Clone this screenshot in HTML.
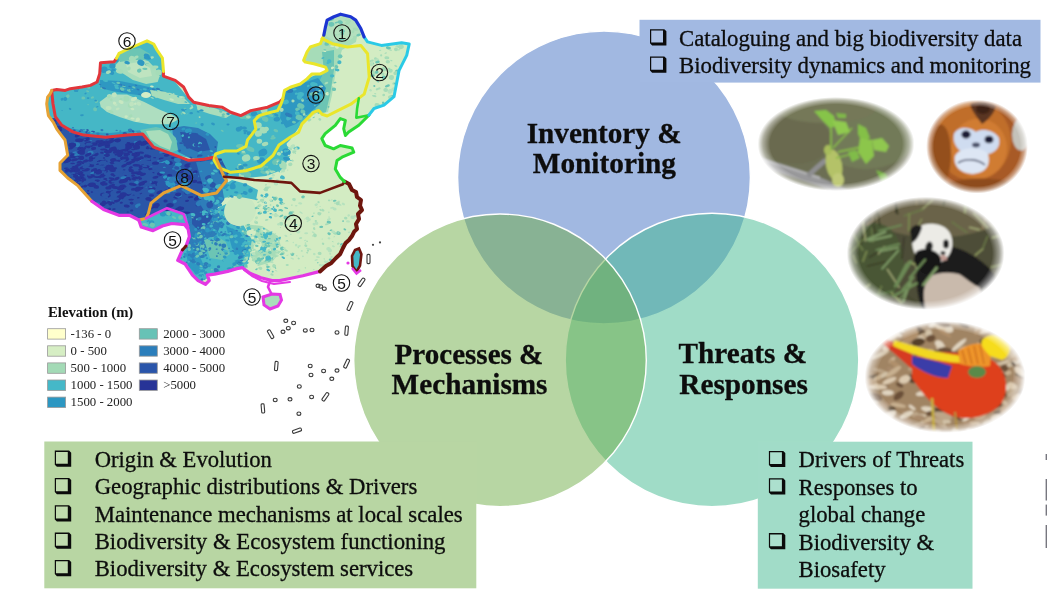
<!DOCTYPE html>
<html><head><meta charset="utf-8"><title>Biodiversity research framework</title>
<style>
html,body{margin:0;padding:0;background:#fff}
body{width:1047px;height:595px;overflow:hidden;position:relative}
svg{position:absolute;left:0;top:0;font-family:"Liberation Serif",serif;filter:blur(0.35px)}
</style></head><body>
<svg width="1047" height="595" viewBox="0 0 1047 595">

<defs>
<path id="cbp" d="M0,0 H14.3 L16.4,2.1 V16.2 H2.1 L0,14.1 Z M1.2,1.3 V13.2 H13.0 V1.3 Z" fill-rule="evenodd"/>
<g id="cb"><rect x="1.2" y="1.3" width="11.8" height="11.9" fill="#fff" fill-opacity="0.12" stroke="none"/><use href="#cbp" fill="#0b0b0b" stroke="none"/></g>
</defs>


<defs>
<clipPath id="china"><path d="M116.5,58.3 L119,53.4 L126,50 L135,46 L147,40.8 L153.7,44 L157,50 L162.4,58 L163.5,71.4 L163.4,76.1 L175.2,80.3 L183.6,87 L188.7,97.1 L193.7,102.2 L208.8,105.5 L222.3,107.2 L230.7,112.3 L240.8,115.6 L250.8,110.6 L267.6,107.2 L279.4,102.2 L282.8,98.8 L284.5,90.4 L290.2,87.3 L300.3,84 L307,78.9 L312,73.9 L320.4,73.9 L327.1,70.5 L325.5,67.1 L313.7,63.8 L305.3,62.1 L303.6,60.4 L307,52 L310.3,47 L320.4,43.6 L323.8,35.2 L325.5,26.8 L327.1,20.1 L333.9,16.7 L340.6,14.2 L350.7,16.7 L355.7,20.1 L360.8,28.5 L364.1,36.9 L367.5,41.9 L381.4,45.4 L401.6,42.8 L409.2,44.1 L406.7,55.4 L399,70.6 L396.6,83.2 L394,96.7 L384,105.1 L374,108.5 L368.9,115.2 L358.8,125.3 L348.7,132 L345.4,135.4 L343.7,128.7 L345.4,120.3 L340.3,118.6 L335.3,125.3 L325.2,133.7 L321.8,138.7 L325.2,145.5 L333.6,148.8 L340.3,145.5 L352.1,148 L353.8,152.2 L342,157.2 L337,160.6 L335.3,169 L340.3,177.4 L344.5,181.6 L350,188 L357,197 L360,205.7 L357,217 L354.3,231.4 L345.7,242.9 L340,254.3 L331.4,262.9 L320,271.4 L302.9,275.7 L288.7,278.8 L279.5,280.6 L272.1,280.6 L261,277.8 L249.9,273.2 L242.5,267.7 L236.9,268.6 L227.7,271.4 L214.7,274.1 L207.3,275.1 L209.2,280.6 L205.5,284.3 L198.1,280.6 L192.5,275.1 L188.8,269.5 L185.1,264 L177.7,260.3 L180,253 L186,246 L189.4,236.5 L188.2,229.4 L184.7,224.7 L171.8,223.5 L162.4,226 L153,230.6 L141.2,227 L138.8,220 L129.4,215.3 L118.8,215.3 L103.5,209.4 L91.8,201.2 L80,188.2 L77.8,185.6 L67.7,178 L60,170.4 L60,163 L67.7,155.3 L65,140 L61.8,135.8 L56.8,129.1 L53.4,122.4 L48.4,115.6 L47.6,110.6 L46.7,103.9 L47.6,97.1 L50.1,93.8 L51.8,90.4 L56.8,89.6 L65.2,90.4 L70.3,88.7 L82,87 L90.4,85.4 L97.1,82 L99.7,73.6 L100.5,62.7 L114,61.8Z"/></clipPath>
<filter id="zb" x="-5%" y="-5%" width="110%" height="110%"><feGaussianBlur stdDeviation="0.7"/></filter>
<filter id="lb" x="-5%" y="-5%" width="110%" height="110%"><feGaussianBlur stdDeviation="0.35"/></filter>
</defs>
<g clip-path="url(#china)">
<rect x="0" y="0" width="420" height="300" fill="#D3ECC3"/>
<g filter="url(#zb)">
<path d="M40.0,30.0 170.0,30.0 172.0,78.0 190.0,100.0 240.0,114.0 280.0,98.0 300.0,82.0 322.0,72.0 330.0,76.0 326.0,96.0 314.0,112.0 300.0,126.0 290.0,140.0 278.0,152.0 262.0,166.0 246.0,176.0 228.0,178.0 214.0,168.0 200.0,160.0 150.0,150.0 60.0,140.0 40.0,140.0Z" fill="#45B7C6"/>
<path d="M300.0,45.0 326.0,30.0 335.0,15.0 360.0,20.0 356.0,42.0 342.0,50.0 336.0,70.0 332.0,95.0 328.0,112.0 320.0,114.0 324.0,90.0 328.0,72.0 312.0,64.0 302.0,60.0Z" fill="#A6DCB8"/>
<path d="M322.0,52.0 334.0,50.0 334.0,70.0 330.0,95.0 326.0,112.0 318.0,114.0 312.0,100.0 318.0,84.0 324.0,72.0Z" fill="#6CC5B4"/>
<path d="M326.0,22.0 340.0,14.0 356.0,20.0 362.0,32.0 350.0,40.0 335.0,42.0 326.0,36.0Z" fill="#B4E0BE"/>
<path d="M284.0,92.0 300.0,84.0 318.0,78.0 326.0,88.0 320.0,104.0 308.0,114.0 296.0,124.0 286.0,128.0 280.0,118.0 282.0,104.0Z" fill="#2E98C2"/>
<ellipse cx="300.8" cy="106.0" rx="3.8" ry="2.6" fill="#6CC5B4" transform="rotate(21 300.8 106.0)"/>
<ellipse cx="288.7" cy="118.2" rx="2.7" ry="2.1" fill="#45B7C6" transform="rotate(-24 288.7 118.2)"/>
<ellipse cx="308.3" cy="85.9" rx="1.5" ry="1.1" fill="#45B7C6" transform="rotate(-28 308.3 85.9)"/>
<ellipse cx="315.8" cy="94.3" rx="3.0" ry="1.5" fill="#45B7C6" transform="rotate(8 315.8 94.3)"/>
<ellipse cx="303.0" cy="111.1" rx="2.6" ry="1.5" fill="#6CC5B4" transform="rotate(30 303.0 111.1)"/>
<ellipse cx="294.5" cy="89.5" rx="2.2" ry="1.0" fill="#45B7C6" transform="rotate(-6 294.5 89.5)"/>
<ellipse cx="318.9" cy="97.3" rx="3.9" ry="3.5" fill="#45B7C6" transform="rotate(-17 318.9 97.3)"/>
<ellipse cx="297.3" cy="113.4" rx="2.5" ry="1.9" fill="#45B7C6" transform="rotate(17 297.3 113.4)"/>
<ellipse cx="314.9" cy="83.9" rx="2.1" ry="1.0" fill="#45B7C6" transform="rotate(-2 314.9 83.9)"/>
<ellipse cx="302.4" cy="112.1" rx="2.0" ry="1.4" fill="#6CC5B4" transform="rotate(16 302.4 112.1)"/>
<ellipse cx="299.3" cy="97.2" rx="2.5" ry="2.5" fill="#45B7C6" transform="rotate(-14 299.3 97.2)"/>
<ellipse cx="294.0" cy="122.2" rx="2.0" ry="1.3" fill="#6CC5B4" transform="rotate(9 294.0 122.2)"/>
<ellipse cx="289.8" cy="90.9" rx="3.4" ry="2.1" fill="#2D7DB9" transform="rotate(-7 289.8 90.9)"/>
<ellipse cx="297.0" cy="109.1" rx="1.8" ry="1.4" fill="#6CC5B4" transform="rotate(-22 297.0 109.1)"/>
<ellipse cx="297.8" cy="109.4" rx="2.3" ry="1.2" fill="#6CC5B4" transform="rotate(-15 297.8 109.4)"/>
<ellipse cx="288.7" cy="115.0" rx="3.9" ry="2.0" fill="#2D7DB9" transform="rotate(23 288.7 115.0)"/>
<ellipse cx="307.8" cy="99.1" rx="1.8" ry="0.7" fill="#2D7DB9" transform="rotate(-16 307.8 99.1)"/>
<ellipse cx="312.4" cy="90.8" rx="3.6" ry="2.7" fill="#2D7DB9" transform="rotate(1 312.4 90.8)"/>
<ellipse cx="285.8" cy="102.0" rx="3.1" ry="2.4" fill="#45B7C6" transform="rotate(-13 285.8 102.0)"/>
<ellipse cx="322.2" cy="88.2" rx="1.5" ry="0.9" fill="#2D7DB9" transform="rotate(-15 322.2 88.2)"/>
<ellipse cx="300.7" cy="94.5" rx="3.3" ry="2.4" fill="#45B7C6" transform="rotate(5 300.7 94.5)"/>
<ellipse cx="296.4" cy="93.6" rx="1.6" ry="1.2" fill="#45B7C6" transform="rotate(-1 296.4 93.6)"/>
<ellipse cx="313.6" cy="93.9" rx="4.0" ry="1.8" fill="#6CC5B4" transform="rotate(-8 313.6 93.9)"/>
<ellipse cx="313.9" cy="84.5" rx="3.9" ry="2.4" fill="#45B7C6" transform="rotate(11 313.9 84.5)"/>
<ellipse cx="299.2" cy="117.5" rx="3.7" ry="2.7" fill="#6CC5B4" transform="rotate(10 299.2 117.5)"/>
<ellipse cx="324.7" cy="51.1" rx="1.5" ry="0.9" fill="#D3ECC3" transform="rotate(12 324.7 51.1)"/>
<ellipse cx="332.5" cy="67.9" rx="1.7" ry="1.2" fill="#D3ECC3" transform="rotate(-28 332.5 67.9)"/>
<ellipse cx="335.8" cy="69.4" rx="1.2" ry="1.0" fill="#6CC5B4" transform="rotate(17 335.8 69.4)"/>
<ellipse cx="337.2" cy="69.9" rx="2.3" ry="1.4" fill="#45B7C6" transform="rotate(11 337.2 69.9)"/>
<ellipse cx="326.7" cy="43.9" rx="2.3" ry="1.9" fill="#6CC5B4" transform="rotate(-0 326.7 43.9)"/>
<ellipse cx="327.6" cy="63.2" rx="1.2" ry="1.0" fill="#45B7C6" transform="rotate(23 327.6 63.2)"/>
<ellipse cx="330.8" cy="77.8" rx="1.3" ry="0.6" fill="#6CC5B4" transform="rotate(-9 330.8 77.8)"/>
<ellipse cx="342.6" cy="33.3" rx="0.9" ry="0.9" fill="#45B7C6" transform="rotate(-23 342.6 33.3)"/>
<ellipse cx="334.0" cy="85.1" rx="2.0" ry="1.8" fill="#D3ECC3" transform="rotate(-3 334.0 85.1)"/>
<ellipse cx="342.1" cy="33.4" rx="2.0" ry="1.5" fill="#6CC5B4" transform="rotate(9 342.1 33.4)"/>
<ellipse cx="335.0" cy="82.6" rx="1.5" ry="0.8" fill="#6CC5B4" transform="rotate(-16 335.0 82.6)"/>
<ellipse cx="336.5" cy="66.6" rx="1.9" ry="1.5" fill="#6CC5B4" transform="rotate(28 336.5 66.6)"/>
<ellipse cx="337.7" cy="46.3" rx="1.6" ry="0.8" fill="#45B7C6" transform="rotate(15 337.7 46.3)"/>
<ellipse cx="327.2" cy="93.8" rx="1.7" ry="1.7" fill="#D3ECC3" transform="rotate(7 327.2 93.8)"/>
<ellipse cx="339.4" cy="62.3" rx="2.1" ry="2.0" fill="#45B7C6" transform="rotate(-5 339.4 62.3)"/>
<ellipse cx="332.4" cy="46.1" rx="2.3" ry="0.9" fill="#D3ECC3" transform="rotate(4 332.4 46.1)"/>
<ellipse cx="337.0" cy="46.8" rx="2.0" ry="1.8" fill="#D3ECC3" transform="rotate(25 337.0 46.8)"/>
<ellipse cx="324.8" cy="49.9" rx="1.5" ry="0.7" fill="#6CC5B4" transform="rotate(2 324.8 49.9)"/>
<ellipse cx="340.2" cy="56.3" rx="2.3" ry="2.1" fill="#6CC5B4" transform="rotate(0 340.2 56.3)"/>
<ellipse cx="322.9" cy="58.0" rx="1.5" ry="0.9" fill="#45B7C6" transform="rotate(-17 322.9 58.0)"/>
<ellipse cx="322.8" cy="73.7" rx="2.0" ry="1.9" fill="#6CC5B4" transform="rotate(-21 322.8 73.7)"/>
<ellipse cx="333.9" cy="89.3" rx="2.2" ry="1.8" fill="#6CC5B4" transform="rotate(5 333.9 89.3)"/>
<ellipse cx="332.1" cy="75.8" rx="2.2" ry="1.6" fill="#45B7C6" transform="rotate(1 332.1 75.8)"/>
<ellipse cx="329.2" cy="61.3" rx="2.2" ry="2.1" fill="#45B7C6" transform="rotate(-12 329.2 61.3)"/>
<ellipse cx="325.2" cy="74.7" rx="1.3" ry="0.9" fill="#6CC5B4" transform="rotate(2 325.2 74.7)"/>
<path d="M232.0,150.0 250.0,140.0 270.0,136.0 286.0,142.0 290.0,156.0 282.0,170.0 266.0,176.0 246.0,178.0 232.0,172.0Z" fill="#45B7C6"/>
<ellipse cx="261.2" cy="161.4" rx="1.6" ry="1.6" fill="#2E98C2" transform="rotate(25 261.2 161.4)"/>
<ellipse cx="241.7" cy="175.1" rx="2.9" ry="2.7" fill="#A6DCB8" transform="rotate(-14 241.7 175.1)"/>
<ellipse cx="259.4" cy="141.3" rx="2.8" ry="2.5" fill="#A6DCB8" transform="rotate(1 259.4 141.3)"/>
<ellipse cx="238.3" cy="153.6" rx="1.6" ry="0.9" fill="#2E98C2" transform="rotate(17 238.3 153.6)"/>
<ellipse cx="245.2" cy="164.9" rx="2.5" ry="1.5" fill="#2E98C2" transform="rotate(-0 245.2 164.9)"/>
<ellipse cx="261.0" cy="160.5" rx="4.1" ry="3.1" fill="#2E98C2" transform="rotate(-18 261.0 160.5)"/>
<ellipse cx="262.8" cy="154.3" rx="2.6" ry="1.7" fill="#2E98C2" transform="rotate(7 262.8 154.3)"/>
<ellipse cx="263.2" cy="172.3" rx="3.1" ry="1.6" fill="#6CC5B4" transform="rotate(21 263.2 172.3)"/>
<ellipse cx="267.5" cy="172.0" rx="2.2" ry="1.9" fill="#A6DCB8" transform="rotate(24 267.5 172.0)"/>
<ellipse cx="250.3" cy="149.2" rx="4.3" ry="2.3" fill="#6CC5B4" transform="rotate(23 250.3 149.2)"/>
<ellipse cx="239.8" cy="146.1" rx="3.7" ry="2.0" fill="#6CC5B4" transform="rotate(-4 239.8 146.1)"/>
<ellipse cx="286.6" cy="158.8" rx="3.6" ry="1.9" fill="#2E98C2" transform="rotate(11 286.6 158.8)"/>
<ellipse cx="261.3" cy="167.8" rx="3.0" ry="2.4" fill="#6CC5B4" transform="rotate(18 261.3 167.8)"/>
<ellipse cx="276.2" cy="161.8" rx="4.2" ry="2.9" fill="#6CC5B4" transform="rotate(-19 276.2 161.8)"/>
<ellipse cx="243.8" cy="171.3" rx="4.5" ry="4.3" fill="#6CC5B4" transform="rotate(5 243.8 171.3)"/>
<ellipse cx="239.8" cy="164.6" rx="1.7" ry="0.8" fill="#A6DCB8" transform="rotate(-2 239.8 164.6)"/>
<ellipse cx="261.9" cy="154.1" rx="3.3" ry="1.3" fill="#2E98C2" transform="rotate(-28 261.9 154.1)"/>
<ellipse cx="243.6" cy="153.1" rx="2.6" ry="1.6" fill="#6CC5B4" transform="rotate(6 243.6 153.1)"/>
<ellipse cx="237.5" cy="169.3" rx="2.5" ry="1.1" fill="#2E98C2" transform="rotate(23 237.5 169.3)"/>
<ellipse cx="265.0" cy="144.0" rx="3.3" ry="2.0" fill="#A6DCB8" transform="rotate(-13 265.0 144.0)"/>
<ellipse cx="238.7" cy="167.2" rx="2.0" ry="1.9" fill="#6CC5B4" transform="rotate(24 238.7 167.2)"/>
<ellipse cx="283.0" cy="165.2" rx="3.8" ry="3.3" fill="#A6DCB8" transform="rotate(-18 283.0 165.2)"/>
<ellipse cx="242.7" cy="169.5" rx="2.4" ry="1.1" fill="#A6DCB8" transform="rotate(29 242.7 169.5)"/>
<ellipse cx="247.8" cy="176.4" rx="2.4" ry="1.3" fill="#A6DCB8" transform="rotate(4 247.8 176.4)"/>
<ellipse cx="262.9" cy="152.4" rx="4.5" ry="3.5" fill="#2E98C2" transform="rotate(-23 262.9 152.4)"/>
<ellipse cx="254.9" cy="160.1" rx="1.8" ry="0.9" fill="#6CC5B4" transform="rotate(-15 254.9 160.1)"/>
<ellipse cx="243.3" cy="151.8" rx="1.8" ry="1.0" fill="#A6DCB8" transform="rotate(3 243.3 151.8)"/>
<ellipse cx="269.0" cy="170.0" rx="1.7" ry="1.3" fill="#6CC5B4" transform="rotate(-7 269.0 170.0)"/>
<ellipse cx="286.4" cy="152.2" rx="4.4" ry="4.0" fill="#2E98C2" transform="rotate(7 286.4 152.2)"/>
<ellipse cx="256.4" cy="158.1" rx="3.3" ry="2.0" fill="#A6DCB8" transform="rotate(-1 256.4 158.1)"/>
<ellipse cx="247.6" cy="175.0" rx="3.5" ry="3.0" fill="#6CC5B4" transform="rotate(-29 247.6 175.0)"/>
<ellipse cx="241.1" cy="167.7" rx="2.7" ry="2.5" fill="#2E98C2" transform="rotate(-6 241.1 167.7)"/>
<ellipse cx="265.7" cy="166.4" rx="2.5" ry="2.2" fill="#6CC5B4" transform="rotate(-4 265.7 166.4)"/>
<ellipse cx="246.1" cy="158.0" rx="4.3" ry="3.6" fill="#A6DCB8" transform="rotate(-21 246.1 158.0)"/>
<ellipse cx="273.0" cy="138.1" rx="2.8" ry="1.3" fill="#6CC5B4" transform="rotate(-9 273.0 138.1)"/>
<ellipse cx="243.7" cy="117.1" rx="1.8" ry="1.2" fill="#2E98C2" transform="rotate(-14 243.7 117.1)"/>
<ellipse cx="265.1" cy="119.1" rx="3.4" ry="2.5" fill="#6CC5B4" transform="rotate(27 265.1 119.1)"/>
<ellipse cx="272.7" cy="112.6" rx="1.8" ry="1.7" fill="#2E98C2" transform="rotate(7 272.7 112.6)"/>
<ellipse cx="254.0" cy="113.8" rx="3.2" ry="2.4" fill="#2E98C2" transform="rotate(-19 254.0 113.8)"/>
<ellipse cx="283.6" cy="122.1" rx="3.1" ry="1.6" fill="#2E98C2" transform="rotate(-28 283.6 122.1)"/>
<ellipse cx="257.3" cy="126.4" rx="1.8" ry="1.3" fill="#6CC5B4" transform="rotate(15 257.3 126.4)"/>
<ellipse cx="281.6" cy="109.8" rx="2.1" ry="2.1" fill="#A6DCB8" transform="rotate(-1 281.6 109.8)"/>
<ellipse cx="246.5" cy="116.4" rx="3.4" ry="3.0" fill="#6CC5B4" transform="rotate(18 246.5 116.4)"/>
<ellipse cx="258.4" cy="133.6" rx="3.6" ry="3.1" fill="#A6DCB8" transform="rotate(-5 258.4 133.6)"/>
<ellipse cx="248.9" cy="133.2" rx="2.4" ry="1.9" fill="#2E98C2" transform="rotate(-10 248.9 133.2)"/>
<ellipse cx="263.4" cy="130.9" rx="3.8" ry="2.5" fill="#A6DCB8" transform="rotate(5 263.4 130.9)"/>
<ellipse cx="259.1" cy="115.7" rx="2.9" ry="1.9" fill="#2E98C2" transform="rotate(-1 259.1 115.7)"/>
<ellipse cx="270.3" cy="114.8" rx="3.4" ry="1.5" fill="#6CC5B4" transform="rotate(25 270.3 114.8)"/>
<ellipse cx="266.2" cy="129.0" rx="2.7" ry="2.3" fill="#A6DCB8" transform="rotate(-13 266.2 129.0)"/>
<ellipse cx="243.1" cy="116.9" rx="3.3" ry="2.1" fill="#6CC5B4" transform="rotate(-11 243.1 116.9)"/>
<ellipse cx="258.0" cy="125.4" rx="3.8" ry="3.1" fill="#A6DCB8" transform="rotate(-4 258.0 125.4)"/>
<ellipse cx="276.2" cy="115.0" rx="2.3" ry="1.5" fill="#2E98C2" transform="rotate(24 276.2 115.0)"/>
<ellipse cx="248.4" cy="117.0" rx="2.4" ry="1.5" fill="#A6DCB8" transform="rotate(5 248.4 117.0)"/>
<ellipse cx="275.8" cy="130.6" rx="2.4" ry="1.5" fill="#6CC5B4" transform="rotate(20 275.8 130.6)"/>
<ellipse cx="264.1" cy="110.4" rx="3.4" ry="3.2" fill="#A6DCB8" transform="rotate(19 264.1 110.4)"/>
<ellipse cx="257.1" cy="125.0" rx="2.3" ry="1.6" fill="#A6DCB8" transform="rotate(-25 257.1 125.0)"/>
<ellipse cx="272.9" cy="136.4" rx="1.7" ry="1.3" fill="#6CC5B4" transform="rotate(-24 272.9 136.4)"/>
<ellipse cx="276.8" cy="119.2" rx="3.3" ry="2.3" fill="#2E98C2" transform="rotate(-10 276.8 119.2)"/>
<ellipse cx="259.0" cy="116.6" rx="3.5" ry="2.1" fill="#6CC5B4" transform="rotate(-0 259.0 116.6)"/>
<ellipse cx="262.9" cy="130.0" rx="3.3" ry="3.1" fill="#A6DCB8" transform="rotate(15 262.9 130.0)"/>
<path d="M113.8,66.7 121.4,59.1 134.8,57.2 148.2,61.0 155.8,68.7 159.6,76.3 157.7,82.0 146.2,83.9 132.9,80.1 121.4,72.5Z" fill="#A9DDBB"/>
<path d="M126.0,64.0 140.0,62.0 150.0,68.0 152.0,76.0 140.0,78.0 128.0,72.0Z" fill="#BFE4C0"/>
<path d="M118.0,56.0 126.0,50.0 140.0,48.0 150.0,54.0 146.0,60.0 132.0,60.0 120.0,62.0Z" fill="#6CC5B4"/>
<ellipse cx="110.6" cy="72.2" rx="3.8" ry="2.1" fill="#2E98C2" transform="rotate(29 110.6 72.2)"/>
<ellipse cx="116.3" cy="60.2" rx="2.2" ry="2.2" fill="#2E98C2" transform="rotate(-2 116.3 60.2)"/>
<ellipse cx="147.8" cy="57.3" rx="1.9" ry="1.8" fill="#2E98C2" transform="rotate(15 147.8 57.3)"/>
<ellipse cx="152.0" cy="57.5" rx="2.0" ry="1.2" fill="#A6DCB8" transform="rotate(-16 152.0 57.5)"/>
<ellipse cx="147.0" cy="64.3" rx="2.1" ry="1.1" fill="#6CC5B4" transform="rotate(-6 147.0 64.3)"/>
<ellipse cx="158.6" cy="72.5" rx="3.1" ry="3.0" fill="#A6DCB8" transform="rotate(-1 158.6 72.5)"/>
<ellipse cx="119.6" cy="71.3" rx="3.8" ry="2.3" fill="#A6DCB8" transform="rotate(16 119.6 71.3)"/>
<ellipse cx="109.5" cy="70.7" rx="2.5" ry="1.3" fill="#2E98C2" transform="rotate(18 109.5 70.7)"/>
<ellipse cx="127.1" cy="62.7" rx="2.8" ry="1.6" fill="#2E98C2" transform="rotate(9 127.1 62.7)"/>
<ellipse cx="132.4" cy="58.9" rx="3.5" ry="2.9" fill="#A6DCB8" transform="rotate(22 132.4 58.9)"/>
<ellipse cx="128.9" cy="68.5" rx="1.9" ry="1.8" fill="#A6DCB8" transform="rotate(-22 128.9 68.5)"/>
<ellipse cx="148.5" cy="64.9" rx="2.8" ry="1.2" fill="#A6DCB8" transform="rotate(16 148.5 64.9)"/>
<ellipse cx="104.1" cy="69.7" rx="3.6" ry="3.2" fill="#2E98C2" transform="rotate(-9 104.1 69.7)"/>
<ellipse cx="140.9" cy="62.7" rx="3.7" ry="3.0" fill="#2E98C2" transform="rotate(27 140.9 62.7)"/>
<ellipse cx="139.2" cy="70.6" rx="2.3" ry="2.0" fill="#6CC5B4" transform="rotate(-18 139.2 70.6)"/>
<ellipse cx="144.9" cy="68.8" rx="2.6" ry="1.1" fill="#6CC5B4" transform="rotate(2 144.9 68.8)"/>
<ellipse cx="113.5" cy="70.0" rx="2.3" ry="1.3" fill="#2E98C2" transform="rotate(3 113.5 70.0)"/>
<ellipse cx="112.4" cy="66.0" rx="3.2" ry="2.7" fill="#2E98C2" transform="rotate(9 112.4 66.0)"/>
<ellipse cx="146.6" cy="55.7" rx="2.9" ry="2.0" fill="#2E98C2" transform="rotate(21 146.6 55.7)"/>
<ellipse cx="154.7" cy="67.3" rx="3.8" ry="1.8" fill="#A6DCB8" transform="rotate(-7 154.7 67.3)"/>
<ellipse cx="136.4" cy="57.2" rx="2.3" ry="1.5" fill="#A6DCB8" transform="rotate(-25 136.4 57.2)"/>
<ellipse cx="115.3" cy="59.0" rx="1.8" ry="1.0" fill="#6CC5B4" transform="rotate(4 115.3 59.0)"/>
<ellipse cx="147.4" cy="58.0" rx="3.6" ry="1.6" fill="#2E98C2" transform="rotate(7 147.4 58.0)"/>
<ellipse cx="111.9" cy="65.1" rx="1.9" ry="1.0" fill="#2E98C2" transform="rotate(20 111.9 65.1)"/>
<ellipse cx="108.4" cy="72.1" rx="2.6" ry="1.8" fill="#A6DCB8" transform="rotate(-18 108.4 72.1)"/>
<path d="M100.0,80.0 120.0,81.0 140.0,85.0 158.0,89.0 170.0,93.0 172.0,98.0 160.0,97.0 146.0,96.0 130.0,94.0 112.0,91.0 100.0,88.0Z" fill="#2E98C2"/>
<ellipse cx="144.9" cy="93.1" rx="1.9" ry="0.8" fill="#45B7C6" transform="rotate(18 144.9 93.1)"/>
<ellipse cx="123.8" cy="86.2" rx="2.0" ry="0.7" fill="#6CC5B4" transform="rotate(9 123.8 86.2)"/>
<ellipse cx="124.0" cy="85.3" rx="1.0" ry="0.5" fill="#2D7DB9" transform="rotate(20 124.0 85.3)"/>
<ellipse cx="125.4" cy="89.0" rx="1.1" ry="0.5" fill="#45B7C6" transform="rotate(16 125.4 89.0)"/>
<ellipse cx="134.4" cy="87.5" rx="1.4" ry="0.5" fill="#2D7DB9" transform="rotate(10 134.4 87.5)"/>
<ellipse cx="141.0" cy="89.8" rx="0.9" ry="0.5" fill="#45B7C6" transform="rotate(23 141.0 89.8)"/>
<ellipse cx="141.3" cy="95.0" rx="1.1" ry="0.5" fill="#2D7DB9" transform="rotate(14 141.3 95.0)"/>
<ellipse cx="161.0" cy="96.3" rx="1.9" ry="0.9" fill="#2D7DB9" transform="rotate(8 161.0 96.3)"/>
<ellipse cx="129.2" cy="86.1" rx="1.0" ry="0.4" fill="#2D7DB9" transform="rotate(6 129.2 86.1)"/>
<ellipse cx="156.4" cy="93.0" rx="2.2" ry="0.9" fill="#6CC5B4" transform="rotate(17 156.4 93.0)"/>
<ellipse cx="133.8" cy="87.4" rx="1.9" ry="1.0" fill="#6CC5B4" transform="rotate(20 133.8 87.4)"/>
<ellipse cx="160.4" cy="95.4" rx="1.5" ry="0.7" fill="#2D7DB9" transform="rotate(23 160.4 95.4)"/>
<ellipse cx="137.9" cy="89.5" rx="1.6" ry="0.9" fill="#2D7DB9" transform="rotate(23 137.9 89.5)"/>
<ellipse cx="121.3" cy="91.1" rx="1.6" ry="0.7" fill="#2D7DB9" transform="rotate(20 121.3 91.1)"/>
<ellipse cx="121.9" cy="90.7" rx="0.9" ry="0.3" fill="#6CC5B4" transform="rotate(10 121.9 90.7)"/>
<ellipse cx="152.6" cy="95.7" rx="1.5" ry="0.7" fill="#45B7C6" transform="rotate(9 152.6 95.7)"/>
<ellipse cx="153.8" cy="90.2" rx="2.4" ry="0.8" fill="#45B7C6" transform="rotate(7 153.8 90.2)"/>
<ellipse cx="100.0" cy="84.4" rx="1.3" ry="0.5" fill="#2D7DB9" transform="rotate(14 100.0 84.4)"/>
<ellipse cx="132.4" cy="89.5" rx="1.1" ry="0.5" fill="#45B7C6" transform="rotate(6 132.4 89.5)"/>
<ellipse cx="122.2" cy="89.0" rx="2.5" ry="1.5" fill="#6CC5B4" transform="rotate(23 122.2 89.0)"/>
<ellipse cx="145.7" cy="92.6" rx="1.8" ry="0.8" fill="#45B7C6" transform="rotate(9 145.7 92.6)"/>
<ellipse cx="162.6" cy="92.8" rx="1.0" ry="0.5" fill="#6CC5B4" transform="rotate(13 162.6 92.8)"/>
<ellipse cx="136.1" cy="85.3" rx="1.3" ry="0.7" fill="#2D7DB9" transform="rotate(17 136.1 85.3)"/>
<ellipse cx="116.5" cy="85.4" rx="2.5" ry="1.2" fill="#2D7DB9" transform="rotate(8 116.5 85.4)"/>
<ellipse cx="148.1" cy="88.3" rx="0.9" ry="0.5" fill="#2D7DB9" transform="rotate(16 148.1 88.3)"/>
<ellipse cx="120.5" cy="84.5" rx="2.2" ry="0.7" fill="#2D7DB9" transform="rotate(25 120.5 84.5)"/>
<ellipse cx="113.6" cy="83.2" rx="2.1" ry="0.7" fill="#45B7C6" transform="rotate(25 113.6 83.2)"/>
<ellipse cx="102.4" cy="88.3" rx="2.2" ry="0.9" fill="#6CC5B4" transform="rotate(6 102.4 88.3)"/>
<ellipse cx="153.6" cy="89.6" rx="1.9" ry="1.0" fill="#2D7DB9" transform="rotate(17 153.6 89.6)"/>
<ellipse cx="116.9" cy="87.9" rx="2.2" ry="1.2" fill="#45B7C6" transform="rotate(10 116.9 87.9)"/>
<ellipse cx="103.8" cy="88.1" rx="2.4" ry="0.9" fill="#2D7DB9" transform="rotate(17 103.8 88.1)"/>
<ellipse cx="158.0" cy="89.1" rx="2.1" ry="1.2" fill="#2D7DB9" transform="rotate(6 158.0 89.1)"/>
<ellipse cx="139.1" cy="94.2" rx="1.2" ry="0.4" fill="#2D7DB9" transform="rotate(14 139.1 94.2)"/>
<ellipse cx="150.1" cy="94.8" rx="2.1" ry="1.1" fill="#6CC5B4" transform="rotate(7 150.1 94.8)"/>
<ellipse cx="118.3" cy="82.9" rx="2.0" ry="1.1" fill="#6CC5B4" transform="rotate(6 118.3 82.9)"/>
<ellipse cx="129.6" cy="86.6" rx="1.2" ry="0.7" fill="#2D7DB9" transform="rotate(8 129.6 86.6)"/>
<ellipse cx="154.4" cy="90.8" rx="1.0" ry="0.5" fill="#2D7DB9" transform="rotate(5 154.4 90.8)"/>
<ellipse cx="129.5" cy="89.5" rx="1.0" ry="0.5" fill="#6CC5B4" transform="rotate(13 129.5 89.5)"/>
<ellipse cx="105.5" cy="80.6" rx="2.6" ry="1.4" fill="#45B7C6" transform="rotate(11 105.5 80.6)"/>
<ellipse cx="116.4" cy="85.6" rx="2.5" ry="1.4" fill="#45B7C6" transform="rotate(6 116.4 85.6)"/>
<ellipse cx="129.0" cy="91.7" rx="0.9" ry="0.4" fill="#45B7C6" transform="rotate(14 129.0 91.7)"/>
<ellipse cx="115.5" cy="86.3" rx="1.1" ry="0.5" fill="#45B7C6" transform="rotate(15 115.5 86.3)"/>
<ellipse cx="128.8" cy="90.7" rx="2.2" ry="1.0" fill="#6CC5B4" transform="rotate(25 128.8 90.7)"/>
<ellipse cx="148.9" cy="95.5" rx="1.2" ry="0.5" fill="#2D7DB9" transform="rotate(6 148.9 95.5)"/>
<ellipse cx="144.7" cy="89.3" rx="2.1" ry="1.0" fill="#45B7C6" transform="rotate(10 144.7 89.3)"/>
<path d="M150.0,90.0 168.0,92.0 184.0,98.0 190.0,104.0 178.0,104.0 164.0,100.0 152.0,96.0Z" fill="#A9DDBB"/>
<ellipse cx="185.2" cy="101.9" rx="2.3" ry="0.7" fill="#45B7C6" transform="rotate(22 185.2 101.9)"/>
<ellipse cx="167.5" cy="91.6" rx="2.3" ry="1.1" fill="#45B7C6" transform="rotate(13 167.5 91.6)"/>
<ellipse cx="156.9" cy="99.1" rx="0.9" ry="0.3" fill="#45B7C6" transform="rotate(15 156.9 99.1)"/>
<ellipse cx="181.9" cy="97.4" rx="1.7" ry="0.7" fill="#45B7C6" transform="rotate(18 181.9 97.4)"/>
<ellipse cx="156.8" cy="90.5" rx="1.3" ry="0.7" fill="#45B7C6" transform="rotate(8 156.8 90.5)"/>
<ellipse cx="173.8" cy="93.8" rx="1.0" ry="0.4" fill="#C8E8C2" transform="rotate(9 173.8 93.8)"/>
<ellipse cx="151.9" cy="86.5" rx="1.9" ry="0.9" fill="#C8E8C2" transform="rotate(11 151.9 86.5)"/>
<ellipse cx="159.9" cy="101.2" rx="1.9" ry="1.1" fill="#45B7C6" transform="rotate(10 159.9 101.2)"/>
<ellipse cx="169.7" cy="94.6" rx="0.9" ry="0.4" fill="#45B7C6" transform="rotate(11 169.7 94.6)"/>
<ellipse cx="182.8" cy="97.4" rx="2.1" ry="1.2" fill="#A6DCB8" transform="rotate(15 182.8 97.4)"/>
<ellipse cx="191.8" cy="106.1" rx="1.3" ry="0.5" fill="#C8E8C2" transform="rotate(11 191.8 106.1)"/>
<ellipse cx="183.1" cy="105.5" rx="0.9" ry="0.3" fill="#45B7C6" transform="rotate(23 183.1 105.5)"/>
<ellipse cx="171.6" cy="99.5" rx="2.4" ry="1.0" fill="#C8E8C2" transform="rotate(19 171.6 99.5)"/>
<ellipse cx="152.2" cy="97.9" rx="1.8" ry="0.6" fill="#A6DCB8" transform="rotate(22 152.2 97.9)"/>
<ellipse cx="156.2" cy="97.2" rx="1.3" ry="0.5" fill="#A6DCB8" transform="rotate(8 156.2 97.2)"/>
<ellipse cx="158.9" cy="91.0" rx="2.0" ry="0.7" fill="#A6DCB8" transform="rotate(24 158.9 91.0)"/>
<ellipse cx="187.9" cy="105.5" rx="2.0" ry="1.1" fill="#45B7C6" transform="rotate(12 187.9 105.5)"/>
<ellipse cx="182.9" cy="101.3" rx="2.0" ry="1.2" fill="#A6DCB8" transform="rotate(8 182.9 101.3)"/>
<ellipse cx="178.6" cy="96.8" rx="1.8" ry="0.7" fill="#45B7C6" transform="rotate(12 178.6 96.8)"/>
<ellipse cx="180.7" cy="97.0" rx="1.9" ry="0.8" fill="#C8E8C2" transform="rotate(9 180.7 97.0)"/>
<ellipse cx="146.0" cy="95.0" rx="5.0" ry="3.0" fill="#D5EDC6" transform="rotate(0 146.0 95.0)"/>
<path d="M99.6,102.0 109.5,94.5 127.0,94.5 144.3,102.0 159.2,109.4 171.6,114.4 179.0,119.3 169.1,124.3 149.3,124.3 134.4,121.8 119.5,116.9 107.0,111.9 100.8,106.9Z" fill="#AEDEC0"/>
<ellipse cx="108.6" cy="108.0" rx="3.0" ry="2.0" fill="#BFE4C0" transform="rotate(7 108.6 108.0)"/>
<ellipse cx="132.4" cy="108.9" rx="2.0" ry="1.3" fill="#C8E8C2" transform="rotate(18 132.4 108.9)"/>
<ellipse cx="130.7" cy="115.8" rx="1.8" ry="1.5" fill="#A6DCB8" transform="rotate(-19 130.7 115.8)"/>
<ellipse cx="121.0" cy="99.3" rx="1.7" ry="1.3" fill="#A6DCB8" transform="rotate(-16 121.0 99.3)"/>
<ellipse cx="114.3" cy="94.9" rx="2.5" ry="2.5" fill="#BFE4C0" transform="rotate(-14 114.3 94.9)"/>
<ellipse cx="121.1" cy="102.0" rx="2.7" ry="1.7" fill="#C8E8C2" transform="rotate(29 121.1 102.0)"/>
<ellipse cx="109.0" cy="95.8" rx="1.9" ry="1.6" fill="#BFE4C0" transform="rotate(-6 109.0 95.8)"/>
<ellipse cx="171.4" cy="119.3" rx="3.2" ry="1.6" fill="#BFE4C0" transform="rotate(-11 171.4 119.3)"/>
<ellipse cx="163.2" cy="119.5" rx="1.9" ry="1.2" fill="#C8E8C2" transform="rotate(-6 163.2 119.5)"/>
<ellipse cx="110.9" cy="111.7" rx="2.8" ry="1.5" fill="#A6DCB8" transform="rotate(18 110.9 111.7)"/>
<ellipse cx="111.3" cy="99.7" rx="1.4" ry="1.4" fill="#A6DCB8" transform="rotate(23 111.3 99.7)"/>
<ellipse cx="134.0" cy="99.0" rx="3.2" ry="1.8" fill="#C8E8C2" transform="rotate(-21 134.0 99.0)"/>
<ellipse cx="117.7" cy="108.9" rx="2.0" ry="1.1" fill="#BFE4C0" transform="rotate(-21 117.7 108.9)"/>
<ellipse cx="126.3" cy="98.7" rx="3.0" ry="3.0" fill="#A6DCB8" transform="rotate(-1 126.3 98.7)"/>
<ellipse cx="132.5" cy="118.5" rx="2.1" ry="0.9" fill="#C8E8C2" transform="rotate(7 132.5 118.5)"/>
<ellipse cx="114.6" cy="103.2" rx="1.8" ry="1.6" fill="#C8E8C2" transform="rotate(20 114.6 103.2)"/>
<ellipse cx="109.0" cy="96.7" rx="2.0" ry="1.7" fill="#A6DCB8" transform="rotate(-26 109.0 96.7)"/>
<ellipse cx="136.6" cy="120.9" rx="1.3" ry="0.8" fill="#C8E8C2" transform="rotate(-14 136.6 120.9)"/>
<ellipse cx="138.9" cy="103.7" rx="2.4" ry="1.9" fill="#BFE4C0" transform="rotate(26 138.9 103.7)"/>
<ellipse cx="137.9" cy="119.5" rx="2.1" ry="2.0" fill="#C8E8C2" transform="rotate(-29 137.9 119.5)"/>
<ellipse cx="130.4" cy="105.5" rx="2.7" ry="2.4" fill="#A6DCB8" transform="rotate(8 130.4 105.5)"/>
<ellipse cx="135.3" cy="103.8" rx="1.4" ry="1.1" fill="#C8E8C2" transform="rotate(-24 135.3 103.8)"/>
<ellipse cx="126.2" cy="116.6" rx="1.7" ry="1.4" fill="#C8E8C2" transform="rotate(-12 126.2 116.6)"/>
<ellipse cx="116.0" cy="104.9" rx="1.6" ry="1.0" fill="#BFE4C0" transform="rotate(-4 116.0 104.9)"/>
<ellipse cx="131.6" cy="104.1" rx="2.4" ry="2.4" fill="#BFE4C0" transform="rotate(-29 131.6 104.1)"/>
<path d="M55.0,123.0 70.0,128.0 90.0,132.0 110.0,133.0 130.0,131.0 145.0,130.0 140.0,135.0 110.0,137.0 80.0,134.0 62.0,130.0 52.0,126.0Z" fill="#2E98C2"/>
<ellipse cx="124.6" cy="133.4" rx="2.1" ry="0.9" fill="#2A56A8" transform="rotate(9 124.6 133.4)"/>
<ellipse cx="87.2" cy="130.0" rx="1.1" ry="0.7" fill="#2A56A8" transform="rotate(7 87.2 130.0)"/>
<ellipse cx="129.9" cy="130.7" rx="1.5" ry="1.0" fill="#2A56A8" transform="rotate(7 129.9 130.7)"/>
<ellipse cx="56.3" cy="121.8" rx="1.3" ry="0.8" fill="#2A56A8" transform="rotate(10 56.3 121.8)"/>
<ellipse cx="130.1" cy="130.1" rx="2.3" ry="1.7" fill="#2D7DB9" transform="rotate(0 130.1 130.1)"/>
<ellipse cx="132.9" cy="131.0" rx="1.2" ry="0.9" fill="#2A56A8" transform="rotate(-6 132.9 131.0)"/>
<ellipse cx="93.0" cy="131.6" rx="2.2" ry="0.9" fill="#2A56A8" transform="rotate(7 93.0 131.6)"/>
<ellipse cx="136.2" cy="132.2" rx="1.0" ry="0.6" fill="#2D7DB9" transform="rotate(-3 136.2 132.2)"/>
<ellipse cx="87.2" cy="132.4" rx="1.9" ry="1.4" fill="#2A56A8" transform="rotate(3 87.2 132.4)"/>
<ellipse cx="84.0" cy="129.7" rx="1.3" ry="0.5" fill="#2D7DB9" transform="rotate(4 84.0 129.7)"/>
<ellipse cx="91.5" cy="132.5" rx="1.5" ry="0.8" fill="#45B7C6" transform="rotate(-8 91.5 132.5)"/>
<ellipse cx="73.0" cy="127.7" rx="1.1" ry="0.6" fill="#2D7DB9" transform="rotate(-1 73.0 127.7)"/>
<ellipse cx="116.6" cy="130.4" rx="1.2" ry="0.7" fill="#2D7DB9" transform="rotate(2 116.6 130.4)"/>
<ellipse cx="133.8" cy="131.8" rx="1.0" ry="0.6" fill="#2A56A8" transform="rotate(8 133.8 131.8)"/>
<ellipse cx="60.2" cy="126.1" rx="1.4" ry="1.0" fill="#45B7C6" transform="rotate(4 60.2 126.1)"/>
<ellipse cx="133.2" cy="130.4" rx="1.0" ry="0.5" fill="#2D7DB9" transform="rotate(-1 133.2 130.4)"/>
<ellipse cx="81.4" cy="130.4" rx="1.8" ry="1.4" fill="#2D7DB9" transform="rotate(10 81.4 130.4)"/>
<ellipse cx="88.7" cy="132.6" rx="1.8" ry="1.3" fill="#2D7DB9" transform="rotate(-9 88.7 132.6)"/>
<ellipse cx="88.7" cy="131.4" rx="0.9" ry="0.4" fill="#45B7C6" transform="rotate(4 88.7 131.4)"/>
<ellipse cx="125.1" cy="133.7" rx="1.9" ry="1.5" fill="#2A56A8" transform="rotate(6 125.1 133.7)"/>
<ellipse cx="63.1" cy="127.6" rx="0.8" ry="0.6" fill="#2D7DB9" transform="rotate(-8 63.1 127.6)"/>
<ellipse cx="74.1" cy="130.3" rx="1.6" ry="0.8" fill="#2A56A8" transform="rotate(6 74.1 130.3)"/>
<ellipse cx="57.0" cy="124.0" rx="1.5" ry="0.9" fill="#2A56A8" transform="rotate(-7 57.0 124.0)"/>
<ellipse cx="135.6" cy="132.3" rx="1.6" ry="0.7" fill="#45B7C6" transform="rotate(0 135.6 132.3)"/>
<ellipse cx="120.3" cy="131.0" rx="1.1" ry="0.6" fill="#2D7DB9" transform="rotate(-2 120.3 131.0)"/>
<ellipse cx="97.9" cy="133.8" rx="1.7" ry="1.2" fill="#2D7DB9" transform="rotate(-2 97.9 133.8)"/>
<ellipse cx="101.9" cy="130.2" rx="1.5" ry="1.1" fill="#2D7DB9" transform="rotate(3 101.9 130.2)"/>
<ellipse cx="79.8" cy="131.4" rx="1.2" ry="0.7" fill="#2A56A8" transform="rotate(6 79.8 131.4)"/>
<ellipse cx="87.8" cy="130.1" rx="1.3" ry="0.6" fill="#2A56A8" transform="rotate(7 87.8 130.1)"/>
<ellipse cx="107.2" cy="134.5" rx="1.4" ry="0.9" fill="#2A56A8" transform="rotate(7 107.2 134.5)"/>
<ellipse cx="62.1" cy="110.4" rx="0.8" ry="0.4" fill="#2E98C2" transform="rotate(1 62.1 110.4)"/>
<ellipse cx="88.2" cy="87.7" rx="0.8" ry="0.5" fill="#6CC5B4" transform="rotate(18 88.2 87.7)"/>
<ellipse cx="97.3" cy="106.7" rx="1.3" ry="0.6" fill="#2E98C2" transform="rotate(-25 97.3 106.7)"/>
<ellipse cx="67.8" cy="96.2" rx="1.9" ry="1.7" fill="#6CC5B4" transform="rotate(-27 67.8 96.2)"/>
<ellipse cx="88.7" cy="87.5" rx="1.6" ry="1.2" fill="#6CC5B4" transform="rotate(8 88.7 87.5)"/>
<ellipse cx="88.1" cy="104.6" rx="0.7" ry="0.6" fill="#6CC5B4" transform="rotate(-10 88.1 104.6)"/>
<ellipse cx="82.0" cy="115.2" rx="1.9" ry="1.0" fill="#2E98C2" transform="rotate(-4 82.0 115.2)"/>
<ellipse cx="88.1" cy="98.1" rx="1.4" ry="0.9" fill="#2E98C2" transform="rotate(-3 88.1 98.1)"/>
<ellipse cx="95.1" cy="109.3" rx="2.0" ry="1.9" fill="#6CC5B4" transform="rotate(10 95.1 109.3)"/>
<ellipse cx="78.3" cy="89.6" rx="0.9" ry="0.5" fill="#2E98C2" transform="rotate(25 78.3 89.6)"/>
<ellipse cx="62.1" cy="99.3" rx="1.5" ry="1.4" fill="#2E98C2" transform="rotate(-21 62.1 99.3)"/>
<ellipse cx="65.2" cy="99.0" rx="2.0" ry="2.0" fill="#2E98C2" transform="rotate(10 65.2 99.0)"/>
<ellipse cx="96.6" cy="101.8" rx="1.7" ry="1.1" fill="#6CC5B4" transform="rotate(-24 96.6 101.8)"/>
<ellipse cx="87.6" cy="91.3" rx="1.6" ry="0.8" fill="#6CC5B4" transform="rotate(19 87.6 91.3)"/>
<ellipse cx="83.3" cy="98.1" rx="1.9" ry="1.5" fill="#6CC5B4" transform="rotate(4 83.3 98.1)"/>
<ellipse cx="92.4" cy="97.5" rx="1.6" ry="1.1" fill="#6CC5B4" transform="rotate(-10 92.4 97.5)"/>
<ellipse cx="85.5" cy="93.5" rx="1.1" ry="0.9" fill="#2E98C2" transform="rotate(-15 85.5 93.5)"/>
<ellipse cx="70.1" cy="108.9" rx="1.3" ry="1.0" fill="#2E98C2" transform="rotate(29 70.1 108.9)"/>
<ellipse cx="95.7" cy="100.6" rx="1.4" ry="0.8" fill="#2E98C2" transform="rotate(11 95.7 100.6)"/>
<ellipse cx="76.0" cy="90.8" rx="2.2" ry="1.3" fill="#2E98C2" transform="rotate(3 76.0 90.8)"/>
<path d="M172.0,128.0 184.0,126.0 198.0,128.0 210.0,134.0 218.0,142.0 216.0,156.0 204.0,158.0 190.0,158.0 178.0,152.0 174.0,142.0Z" fill="#2D7DB9"/>
<path d="M180.0,132.0 196.0,133.0 206.0,139.0 210.0,150.0 198.0,152.0 184.0,146.0Z" fill="#2A56A8"/>
<ellipse cx="187.3" cy="130.8" rx="2.5" ry="2.2" fill="#2E98C2" transform="rotate(-24 187.3 130.8)"/>
<ellipse cx="181.2" cy="143.1" rx="1.9" ry="0.9" fill="#2A56A8" transform="rotate(5 181.2 143.1)"/>
<ellipse cx="213.4" cy="155.6" rx="2.0" ry="1.3" fill="#45B7C6" transform="rotate(18 213.4 155.6)"/>
<ellipse cx="200.0" cy="152.6" rx="2.6" ry="1.2" fill="#2E98C2" transform="rotate(-29 200.0 152.6)"/>
<ellipse cx="196.7" cy="134.1" rx="1.3" ry="0.7" fill="#2A56A8" transform="rotate(-14 196.7 134.1)"/>
<ellipse cx="208.5" cy="156.2" rx="1.1" ry="0.7" fill="#45B7C6" transform="rotate(21 208.5 156.2)"/>
<ellipse cx="200.0" cy="143.4" rx="2.1" ry="1.5" fill="#45B7C6" transform="rotate(12 200.0 143.4)"/>
<ellipse cx="199.1" cy="146.4" rx="1.4" ry="0.9" fill="#2E98C2" transform="rotate(9 199.1 146.4)"/>
<ellipse cx="197.0" cy="141.4" rx="2.0" ry="1.2" fill="#2A56A8" transform="rotate(27 197.0 141.4)"/>
<ellipse cx="195.3" cy="144.1" rx="1.4" ry="0.8" fill="#45B7C6" transform="rotate(-23 195.3 144.1)"/>
<ellipse cx="215.3" cy="147.0" rx="0.9" ry="0.9" fill="#2A56A8" transform="rotate(26 215.3 147.0)"/>
<ellipse cx="188.9" cy="137.3" rx="1.1" ry="1.0" fill="#45B7C6" transform="rotate(-26 188.9 137.3)"/>
<ellipse cx="211.3" cy="151.1" rx="1.7" ry="0.8" fill="#45B7C6" transform="rotate(11 211.3 151.1)"/>
<ellipse cx="200.2" cy="155.6" rx="2.4" ry="1.1" fill="#2A56A8" transform="rotate(-1 200.2 155.6)"/>
<ellipse cx="175.6" cy="141.6" rx="1.8" ry="1.8" fill="#45B7C6" transform="rotate(-25 175.6 141.6)"/>
<ellipse cx="182.1" cy="134.7" rx="1.1" ry="0.8" fill="#2A56A8" transform="rotate(22 182.1 134.7)"/>
<ellipse cx="194.5" cy="144.9" rx="2.0" ry="1.6" fill="#45B7C6" transform="rotate(-11 194.5 144.9)"/>
<ellipse cx="179.8" cy="150.6" rx="1.1" ry="1.0" fill="#2A56A8" transform="rotate(-23 179.8 150.6)"/>
<ellipse cx="212.0" cy="156.6" rx="0.8" ry="0.4" fill="#2A56A8" transform="rotate(11 212.0 156.6)"/>
<ellipse cx="195.9" cy="144.6" rx="2.2" ry="1.9" fill="#2A56A8" transform="rotate(-8 195.9 144.6)"/>
<ellipse cx="190.2" cy="133.4" rx="1.4" ry="0.8" fill="#2E98C2" transform="rotate(-29 190.2 133.4)"/>
<ellipse cx="207.4" cy="134.4" rx="1.9" ry="1.3" fill="#2E98C2" transform="rotate(1 207.4 134.4)"/>
<ellipse cx="188.2" cy="146.9" rx="2.5" ry="1.6" fill="#2A56A8" transform="rotate(-21 188.2 146.9)"/>
<ellipse cx="183.7" cy="141.3" rx="2.2" ry="1.3" fill="#2A56A8" transform="rotate(11 183.7 141.3)"/>
<ellipse cx="200.1" cy="145.1" rx="1.8" ry="1.4" fill="#2A56A8" transform="rotate(-19 200.1 145.1)"/>
<ellipse cx="182.7" cy="135.6" rx="1.4" ry="1.2" fill="#45B7C6" transform="rotate(-28 182.7 135.6)"/>
<ellipse cx="183.4" cy="129.0" rx="2.0" ry="1.4" fill="#2E98C2" transform="rotate(-17 183.4 129.0)"/>
<ellipse cx="191.1" cy="157.7" rx="1.5" ry="0.9" fill="#2A56A8" transform="rotate(29 191.1 157.7)"/>
<ellipse cx="189.8" cy="130.3" rx="2.2" ry="1.9" fill="#2E98C2" transform="rotate(30 189.8 130.3)"/>
<ellipse cx="197.9" cy="156.2" rx="0.9" ry="0.9" fill="#2A56A8" transform="rotate(-27 197.9 156.2)"/>
<path d="M196.0,104.0 214.0,108.0 232.0,114.0 226.0,118.0 210.0,114.0 198.0,110.0Z" fill="#A9DDBB"/>
<ellipse cx="209.7" cy="107.4" rx="0.9" ry="0.5" fill="#6CC5B4" transform="rotate(28 209.7 107.4)"/>
<ellipse cx="245.2" cy="113.6" rx="2.5" ry="1.2" fill="#2E98C2" transform="rotate(-11 245.2 113.6)"/>
<ellipse cx="183.0" cy="110.1" rx="2.1" ry="1.1" fill="#2E98C2" transform="rotate(23 183.0 110.1)"/>
<ellipse cx="226.8" cy="114.5" rx="2.1" ry="2.0" fill="#A6DCB8" transform="rotate(26 226.8 114.5)"/>
<ellipse cx="185.0" cy="108.3" rx="1.4" ry="0.6" fill="#6CC5B4" transform="rotate(-11 185.0 108.3)"/>
<ellipse cx="220.8" cy="111.3" rx="1.7" ry="1.5" fill="#6CC5B4" transform="rotate(16 220.8 111.3)"/>
<ellipse cx="185.7" cy="109.6" rx="0.9" ry="0.5" fill="#2E98C2" transform="rotate(0 185.7 109.6)"/>
<ellipse cx="191.2" cy="113.2" rx="1.8" ry="1.1" fill="#2E98C2" transform="rotate(-2 191.2 113.2)"/>
<ellipse cx="222.2" cy="130.8" rx="1.6" ry="0.8" fill="#6CC5B4" transform="rotate(29 222.2 130.8)"/>
<ellipse cx="191.4" cy="107.9" rx="2.1" ry="1.1" fill="#A6DCB8" transform="rotate(-29 191.4 107.9)"/>
<ellipse cx="181.7" cy="113.6" rx="1.1" ry="1.1" fill="#6CC5B4" transform="rotate(-14 181.7 113.6)"/>
<ellipse cx="223.3" cy="114.6" rx="1.7" ry="1.3" fill="#6CC5B4" transform="rotate(-20 223.3 114.6)"/>
<ellipse cx="222.9" cy="116.6" rx="1.9" ry="1.0" fill="#6CC5B4" transform="rotate(-16 222.9 116.6)"/>
<ellipse cx="245.5" cy="131.0" rx="2.4" ry="1.2" fill="#2E98C2" transform="rotate(4 245.5 131.0)"/>
<ellipse cx="244.4" cy="128.0" rx="2.5" ry="1.5" fill="#2E98C2" transform="rotate(5 244.4 128.0)"/>
<ellipse cx="228.1" cy="113.8" rx="1.8" ry="1.3" fill="#2E98C2" transform="rotate(9 228.1 113.8)"/>
<ellipse cx="228.0" cy="124.5" rx="1.5" ry="1.1" fill="#2E98C2" transform="rotate(4 228.0 124.5)"/>
<ellipse cx="183.9" cy="112.9" rx="2.0" ry="0.9" fill="#A6DCB8" transform="rotate(28 183.9 112.9)"/>
<ellipse cx="199.6" cy="117.1" rx="1.0" ry="0.8" fill="#A6DCB8" transform="rotate(5 199.6 117.1)"/>
<ellipse cx="187.2" cy="114.0" rx="0.9" ry="0.4" fill="#6CC5B4" transform="rotate(-21 187.2 114.0)"/>
<ellipse cx="202.1" cy="124.6" rx="1.7" ry="1.6" fill="#2E98C2" transform="rotate(-17 202.1 124.6)"/>
<ellipse cx="238.4" cy="129.3" rx="2.6" ry="2.4" fill="#2E98C2" transform="rotate(-15 238.4 129.3)"/>
<ellipse cx="231.0" cy="111.3" rx="1.3" ry="1.2" fill="#A6DCB8" transform="rotate(19 231.0 111.3)"/>
<ellipse cx="201.2" cy="110.3" rx="2.5" ry="1.0" fill="#2E98C2" transform="rotate(9 201.2 110.3)"/>
<ellipse cx="213.0" cy="123.9" rx="2.0" ry="1.3" fill="#2E98C2" transform="rotate(22 213.0 123.9)"/>
<ellipse cx="198.2" cy="111.8" rx="1.5" ry="0.8" fill="#2E98C2" transform="rotate(12 198.2 111.8)"/>
<ellipse cx="240.7" cy="128.1" rx="2.2" ry="2.0" fill="#2E98C2" transform="rotate(-14 240.7 128.1)"/>
<ellipse cx="196.2" cy="123.0" rx="1.0" ry="0.5" fill="#6CC5B4" transform="rotate(-11 196.2 123.0)"/>
<ellipse cx="199.1" cy="108.4" rx="2.0" ry="1.6" fill="#A6DCB8" transform="rotate(-10 199.1 108.4)"/>
<ellipse cx="244.9" cy="133.0" rx="1.3" ry="1.3" fill="#2E98C2" transform="rotate(-12 244.9 133.0)"/>
<path d="M40.0,118.0 55.3,118.0 61.9,126.0 72.8,132.5 83.7,135.8 105.6,138.0 127.4,135.8 142.7,134.6 153.7,147.8 171.1,154.3 188.6,161.0 204.0,159.8 214.9,157.6 222.0,160.0 228.0,172.0 226.0,186.0 222.0,198.0 214.0,208.0 204.0,214.0 194.0,218.0 188.0,228.0 170.0,232.0 150.0,236.0 100.0,224.0 60.0,204.0 36.0,184.0Z" fill="#2A56A8"/>
<ellipse cx="57.0" cy="143.7" rx="3.6" ry="1.2" fill="#263597" transform="rotate(5 57.0 143.7)"/>
<ellipse cx="138.8" cy="173.8" rx="2.9" ry="1.2" fill="#263597" transform="rotate(8 138.8 173.8)"/>
<ellipse cx="105.9" cy="169.2" rx="2.0" ry="0.9" fill="#263597" transform="rotate(-15 105.9 169.2)"/>
<ellipse cx="138.0" cy="143.4" rx="3.4" ry="2.1" fill="#263597" transform="rotate(-21 138.0 143.4)"/>
<ellipse cx="119.1" cy="198.9" rx="3.0" ry="1.6" fill="#2D7DB9" transform="rotate(7 119.1 198.9)"/>
<ellipse cx="132.0" cy="229.8" rx="2.5" ry="1.2" fill="#263597" transform="rotate(-7 132.0 229.8)"/>
<ellipse cx="72.4" cy="208.4" rx="1.1" ry="0.4" fill="#263597" transform="rotate(9 72.4 208.4)"/>
<ellipse cx="187.1" cy="187.0" rx="3.4" ry="1.4" fill="#2D7DB9" transform="rotate(-24 187.1 187.0)"/>
<ellipse cx="47.1" cy="125.2" rx="3.5" ry="2.4" fill="#263597" transform="rotate(8 47.1 125.2)"/>
<ellipse cx="49.6" cy="149.8" rx="2.8" ry="1.3" fill="#263597" transform="rotate(10 49.6 149.8)"/>
<ellipse cx="131.7" cy="210.6" rx="1.6" ry="1.0" fill="#263597" transform="rotate(-1 131.7 210.6)"/>
<ellipse cx="46.5" cy="173.9" rx="1.0" ry="0.3" fill="#263597" transform="rotate(1 46.5 173.9)"/>
<ellipse cx="83.1" cy="205.5" rx="3.6" ry="2.3" fill="#2D7DB9" transform="rotate(-21 83.1 205.5)"/>
<ellipse cx="94.4" cy="144.1" rx="3.3" ry="1.6" fill="#263597" transform="rotate(1 94.4 144.1)"/>
<ellipse cx="42.5" cy="128.9" rx="1.7" ry="0.6" fill="#2D7DB9" transform="rotate(-10 42.5 128.9)"/>
<ellipse cx="123.0" cy="155.2" rx="2.6" ry="1.2" fill="#263597" transform="rotate(-3 123.0 155.2)"/>
<ellipse cx="156.1" cy="182.9" rx="2.7" ry="1.6" fill="#263597" transform="rotate(9 156.1 182.9)"/>
<ellipse cx="186.9" cy="165.4" rx="2.7" ry="1.6" fill="#263597" transform="rotate(-17 186.9 165.4)"/>
<ellipse cx="152.0" cy="188.6" rx="3.6" ry="1.7" fill="#263597" transform="rotate(-2 152.0 188.6)"/>
<ellipse cx="79.4" cy="208.9" rx="2.4" ry="1.7" fill="#263597" transform="rotate(-5 79.4 208.9)"/>
<ellipse cx="111.1" cy="217.1" rx="1.9" ry="0.9" fill="#263597" transform="rotate(-4 111.1 217.1)"/>
<ellipse cx="78.4" cy="165.0" rx="3.6" ry="1.4" fill="#263597" transform="rotate(-23 78.4 165.0)"/>
<ellipse cx="147.9" cy="214.9" rx="3.2" ry="1.5" fill="#263597" transform="rotate(9 147.9 214.9)"/>
<ellipse cx="172.8" cy="158.1" rx="1.9" ry="1.0" fill="#263597" transform="rotate(-0 172.8 158.1)"/>
<ellipse cx="143.8" cy="182.2" rx="3.6" ry="1.3" fill="#263597" transform="rotate(-14 143.8 182.2)"/>
<ellipse cx="175.5" cy="230.1" rx="1.7" ry="0.9" fill="#263597" transform="rotate(8 175.5 230.1)"/>
<ellipse cx="188.3" cy="176.3" rx="2.3" ry="1.5" fill="#263597" transform="rotate(-1 188.3 176.3)"/>
<ellipse cx="54.8" cy="123.7" rx="2.2" ry="1.2" fill="#263597" transform="rotate(-5 54.8 123.7)"/>
<ellipse cx="219.1" cy="159.6" rx="3.0" ry="1.0" fill="#263597" transform="rotate(-6 219.1 159.6)"/>
<ellipse cx="68.3" cy="160.9" rx="1.6" ry="0.9" fill="#263597" transform="rotate(-12 68.3 160.9)"/>
<ellipse cx="107.9" cy="195.6" rx="1.4" ry="0.6" fill="#263597" transform="rotate(-16 107.9 195.6)"/>
<ellipse cx="70.2" cy="131.9" rx="1.2" ry="0.8" fill="#2D7DB9" transform="rotate(-18 70.2 131.9)"/>
<ellipse cx="40.0" cy="124.8" rx="2.5" ry="1.4" fill="#263597" transform="rotate(5 40.0 124.8)"/>
<ellipse cx="76.6" cy="201.0" rx="2.8" ry="1.2" fill="#263597" transform="rotate(5 76.6 201.0)"/>
<ellipse cx="90.0" cy="177.6" rx="1.9" ry="1.0" fill="#263597" transform="rotate(-3 90.0 177.6)"/>
<ellipse cx="101.5" cy="169.9" rx="2.1" ry="1.3" fill="#263597" transform="rotate(-1 101.5 169.9)"/>
<ellipse cx="68.9" cy="159.9" rx="2.8" ry="1.1" fill="#263597" transform="rotate(6 68.9 159.9)"/>
<ellipse cx="79.5" cy="161.0" rx="1.6" ry="0.9" fill="#263597" transform="rotate(5 79.5 161.0)"/>
<ellipse cx="179.1" cy="208.5" rx="2.8" ry="1.9" fill="#263597" transform="rotate(-22 179.1 208.5)"/>
<ellipse cx="44.5" cy="159.7" rx="3.6" ry="1.9" fill="#263597" transform="rotate(-23 44.5 159.7)"/>
<ellipse cx="55.6" cy="120.5" rx="2.8" ry="1.0" fill="#263597" transform="rotate(-23 55.6 120.5)"/>
<ellipse cx="65.3" cy="198.1" rx="1.1" ry="0.7" fill="#263597" transform="rotate(-5 65.3 198.1)"/>
<ellipse cx="104.3" cy="160.5" rx="1.6" ry="0.7" fill="#263597" transform="rotate(-24 104.3 160.5)"/>
<ellipse cx="105.9" cy="167.1" rx="1.4" ry="0.5" fill="#263597" transform="rotate(5 105.9 167.1)"/>
<ellipse cx="126.1" cy="178.4" rx="1.8" ry="1.2" fill="#263597" transform="rotate(3 126.1 178.4)"/>
<ellipse cx="121.3" cy="202.7" rx="1.6" ry="1.0" fill="#263597" transform="rotate(-7 121.3 202.7)"/>
<ellipse cx="126.0" cy="180.4" rx="2.4" ry="1.5" fill="#263597" transform="rotate(-15 126.0 180.4)"/>
<ellipse cx="92.9" cy="164.2" rx="2.7" ry="0.8" fill="#263597" transform="rotate(-15 92.9 164.2)"/>
<ellipse cx="196.5" cy="198.7" rx="2.8" ry="1.7" fill="#263597" transform="rotate(-22 196.5 198.7)"/>
<ellipse cx="132.2" cy="144.7" rx="2.5" ry="1.4" fill="#263597" transform="rotate(-22 132.2 144.7)"/>
<ellipse cx="140.4" cy="178.7" rx="1.8" ry="1.2" fill="#263597" transform="rotate(-13 140.4 178.7)"/>
<ellipse cx="219.4" cy="180.8" rx="1.3" ry="0.8" fill="#263597" transform="rotate(0 219.4 180.8)"/>
<ellipse cx="180.2" cy="170.8" rx="3.6" ry="2.4" fill="#263597" transform="rotate(2 180.2 170.8)"/>
<ellipse cx="149.6" cy="186.7" rx="1.5" ry="0.7" fill="#263597" transform="rotate(-1 149.6 186.7)"/>
<ellipse cx="77.6" cy="170.7" rx="2.4" ry="1.0" fill="#263597" transform="rotate(7 77.6 170.7)"/>
<ellipse cx="174.5" cy="227.1" rx="2.6" ry="1.0" fill="#263597" transform="rotate(-13 174.5 227.1)"/>
<ellipse cx="219.9" cy="183.9" rx="1.3" ry="0.7" fill="#263597" transform="rotate(-18 219.9 183.9)"/>
<ellipse cx="67.8" cy="158.6" rx="2.9" ry="1.7" fill="#263597" transform="rotate(-3 67.8 158.6)"/>
<ellipse cx="178.1" cy="222.6" rx="2.7" ry="1.9" fill="#263597" transform="rotate(7 178.1 222.6)"/>
<ellipse cx="167.4" cy="220.2" rx="1.8" ry="1.2" fill="#2D7DB9" transform="rotate(-16 167.4 220.2)"/>
<ellipse cx="82.1" cy="150.9" rx="3.4" ry="1.9" fill="#263597" transform="rotate(-16 82.1 150.9)"/>
<ellipse cx="169.4" cy="163.0" rx="3.4" ry="1.9" fill="#263597" transform="rotate(9 169.4 163.0)"/>
<ellipse cx="164.6" cy="192.1" rx="2.0" ry="1.2" fill="#263597" transform="rotate(-25 164.6 192.1)"/>
<ellipse cx="114.8" cy="187.4" rx="1.3" ry="0.5" fill="#263597" transform="rotate(-24 114.8 187.4)"/>
<ellipse cx="149.8" cy="225.9" rx="1.5" ry="0.7" fill="#263597" transform="rotate(-2 149.8 225.9)"/>
<ellipse cx="159.7" cy="192.0" rx="2.2" ry="1.1" fill="#263597" transform="rotate(-22 159.7 192.0)"/>
<ellipse cx="72.4" cy="173.2" rx="3.2" ry="1.8" fill="#2D7DB9" transform="rotate(-19 72.4 173.2)"/>
<ellipse cx="105.9" cy="221.3" rx="1.9" ry="0.6" fill="#263597" transform="rotate(-19 105.9 221.3)"/>
<ellipse cx="43.2" cy="121.4" rx="3.3" ry="1.5" fill="#263597" transform="rotate(-0 43.2 121.4)"/>
<ellipse cx="62.6" cy="158.4" rx="3.6" ry="2.2" fill="#263597" transform="rotate(-21 62.6 158.4)"/>
<ellipse cx="91.0" cy="140.5" rx="1.3" ry="0.5" fill="#2D7DB9" transform="rotate(-7 91.0 140.5)"/>
<ellipse cx="188.0" cy="166.4" rx="2.0" ry="1.2" fill="#263597" transform="rotate(-11 188.0 166.4)"/>
<ellipse cx="206.4" cy="187.3" rx="2.0" ry="1.0" fill="#2D7DB9" transform="rotate(-20 206.4 187.3)"/>
<ellipse cx="109.6" cy="201.6" rx="2.0" ry="1.1" fill="#2D7DB9" transform="rotate(-24 109.6 201.6)"/>
<ellipse cx="90.6" cy="152.6" rx="3.0" ry="1.8" fill="#2D7DB9" transform="rotate(1 90.6 152.6)"/>
<ellipse cx="159.4" cy="192.1" rx="3.2" ry="1.4" fill="#263597" transform="rotate(-21 159.4 192.1)"/>
<ellipse cx="202.3" cy="160.7" rx="2.6" ry="1.8" fill="#263597" transform="rotate(6 202.3 160.7)"/>
<ellipse cx="89.3" cy="145.6" rx="2.3" ry="0.9" fill="#263597" transform="rotate(-20 89.3 145.6)"/>
<ellipse cx="113.5" cy="184.6" rx="1.3" ry="0.8" fill="#263597" transform="rotate(-10 113.5 184.6)"/>
<ellipse cx="147.1" cy="142.6" rx="3.5" ry="1.6" fill="#263597" transform="rotate(-9 147.1 142.6)"/>
<ellipse cx="86.4" cy="161.1" rx="2.8" ry="1.1" fill="#263597" transform="rotate(-18 86.4 161.1)"/>
<ellipse cx="142.9" cy="158.1" rx="1.0" ry="0.3" fill="#263597" transform="rotate(-3 142.9 158.1)"/>
<ellipse cx="159.1" cy="173.4" rx="2.3" ry="0.7" fill="#263597" transform="rotate(0 159.1 173.4)"/>
<ellipse cx="80.6" cy="174.8" rx="2.9" ry="1.9" fill="#2D7DB9" transform="rotate(-10 80.6 174.8)"/>
<ellipse cx="97.0" cy="164.9" rx="1.8" ry="1.1" fill="#263597" transform="rotate(-6 97.0 164.9)"/>
<ellipse cx="154.8" cy="226.0" rx="2.7" ry="1.8" fill="#263597" transform="rotate(-3 154.8 226.0)"/>
<ellipse cx="115.5" cy="139.6" rx="2.9" ry="1.5" fill="#2D7DB9" transform="rotate(-12 115.5 139.6)"/>
<ellipse cx="160.1" cy="161.6" rx="3.4" ry="1.2" fill="#2D7DB9" transform="rotate(4 160.1 161.6)"/>
<ellipse cx="167.3" cy="182.6" rx="3.2" ry="1.4" fill="#263597" transform="rotate(-23 167.3 182.6)"/>
<ellipse cx="160.4" cy="174.2" rx="1.3" ry="0.7" fill="#263597" transform="rotate(-19 160.4 174.2)"/>
<ellipse cx="170.5" cy="219.5" rx="3.4" ry="1.5" fill="#2D7DB9" transform="rotate(0 170.5 219.5)"/>
<ellipse cx="205.7" cy="183.4" rx="2.5" ry="1.6" fill="#2D7DB9" transform="rotate(-6 205.7 183.4)"/>
<ellipse cx="98.7" cy="170.4" rx="1.7" ry="0.8" fill="#263597" transform="rotate(-25 98.7 170.4)"/>
<ellipse cx="127.5" cy="149.1" rx="2.6" ry="1.3" fill="#263597" transform="rotate(-16 127.5 149.1)"/>
<ellipse cx="139.5" cy="160.4" rx="1.9" ry="0.7" fill="#2D7DB9" transform="rotate(-15 139.5 160.4)"/>
<ellipse cx="123.5" cy="177.7" rx="3.1" ry="1.4" fill="#2D7DB9" transform="rotate(-8 123.5 177.7)"/>
<ellipse cx="112.4" cy="174.6" rx="1.9" ry="1.4" fill="#263597" transform="rotate(-0 112.4 174.6)"/>
<ellipse cx="138.4" cy="231.5" rx="3.5" ry="1.7" fill="#263597" transform="rotate(-10 138.4 231.5)"/>
<ellipse cx="151.6" cy="208.1" rx="2.2" ry="0.9" fill="#263597" transform="rotate(-12 151.6 208.1)"/>
<ellipse cx="211.1" cy="204.0" rx="1.0" ry="0.4" fill="#263597" transform="rotate(-20 211.1 204.0)"/>
<ellipse cx="121.6" cy="189.4" rx="1.1" ry="0.8" fill="#263597" transform="rotate(-0 121.6 189.4)"/>
<ellipse cx="142.1" cy="233.1" rx="1.9" ry="0.9" fill="#263597" transform="rotate(4 142.1 233.1)"/>
<ellipse cx="131.0" cy="154.2" rx="2.1" ry="1.3" fill="#263597" transform="rotate(-10 131.0 154.2)"/>
<ellipse cx="66.2" cy="172.0" rx="1.5" ry="0.5" fill="#263597" transform="rotate(7 66.2 172.0)"/>
<ellipse cx="140.9" cy="230.1" rx="3.2" ry="1.3" fill="#263597" transform="rotate(-7 140.9 230.1)"/>
<ellipse cx="203.9" cy="188.2" rx="1.7" ry="0.7" fill="#2D7DB9" transform="rotate(-10 203.9 188.2)"/>
<ellipse cx="169.7" cy="203.9" rx="2.2" ry="0.8" fill="#263597" transform="rotate(-17 169.7 203.9)"/>
<ellipse cx="82.7" cy="167.7" rx="3.2" ry="1.6" fill="#263597" transform="rotate(-12 82.7 167.7)"/>
<ellipse cx="170.9" cy="188.6" rx="2.6" ry="1.6" fill="#263597" transform="rotate(3 170.9 188.6)"/>
<ellipse cx="186.2" cy="169.0" rx="1.6" ry="1.1" fill="#263597" transform="rotate(2 186.2 169.0)"/>
<ellipse cx="59.7" cy="147.5" rx="2.2" ry="1.2" fill="#263597" transform="rotate(3 59.7 147.5)"/>
<ellipse cx="165.8" cy="217.5" rx="2.0" ry="1.1" fill="#263597" transform="rotate(-12 165.8 217.5)"/>
<ellipse cx="145.2" cy="232.4" rx="1.5" ry="1.0" fill="#263597" transform="rotate(-12 145.2 232.4)"/>
<ellipse cx="58.5" cy="134.8" rx="2.7" ry="1.7" fill="#263597" transform="rotate(-6 58.5 134.8)"/>
<ellipse cx="185.3" cy="175.8" rx="1.2" ry="0.4" fill="#2D7DB9" transform="rotate(-8 185.3 175.8)"/>
<ellipse cx="74.7" cy="152.3" rx="2.1" ry="0.9" fill="#2D7DB9" transform="rotate(-8 74.7 152.3)"/>
<ellipse cx="76.2" cy="185.2" rx="3.0" ry="1.5" fill="#263597" transform="rotate(-21 76.2 185.2)"/>
<ellipse cx="123.0" cy="188.6" rx="1.8" ry="0.6" fill="#263597" transform="rotate(-10 123.0 188.6)"/>
<ellipse cx="155.5" cy="207.3" rx="2.8" ry="1.0" fill="#263597" transform="rotate(3 155.5 207.3)"/>
<ellipse cx="53.3" cy="183.8" rx="1.3" ry="0.4" fill="#263597" transform="rotate(-3 53.3 183.8)"/>
<ellipse cx="93.4" cy="155.4" rx="1.8" ry="0.7" fill="#263597" transform="rotate(2 93.4 155.4)"/>
<ellipse cx="160.0" cy="173.8" rx="3.0" ry="1.7" fill="#263597" transform="rotate(-7 160.0 173.8)"/>
<ellipse cx="203.3" cy="213.1" rx="2.9" ry="1.9" fill="#263597" transform="rotate(-5 203.3 213.1)"/>
<ellipse cx="187.5" cy="215.4" rx="1.2" ry="0.4" fill="#263597" transform="rotate(5 187.5 215.4)"/>
<ellipse cx="57.9" cy="134.5" rx="1.4" ry="0.8" fill="#2D7DB9" transform="rotate(2 57.9 134.5)"/>
<ellipse cx="99.7" cy="217.8" rx="3.1" ry="0.9" fill="#263597" transform="rotate(-12 99.7 217.8)"/>
<ellipse cx="102.8" cy="194.5" rx="2.7" ry="1.7" fill="#263597" transform="rotate(-11 102.8 194.5)"/>
<ellipse cx="135.9" cy="142.0" rx="2.2" ry="0.9" fill="#2D7DB9" transform="rotate(-9 135.9 142.0)"/>
<ellipse cx="141.2" cy="188.4" rx="2.5" ry="1.3" fill="#263597" transform="rotate(-25 141.2 188.4)"/>
<ellipse cx="70.2" cy="207.2" rx="3.1" ry="2.1" fill="#263597" transform="rotate(-2 70.2 207.2)"/>
<ellipse cx="106.2" cy="168.5" rx="3.4" ry="1.1" fill="#263597" transform="rotate(-8 106.2 168.5)"/>
<ellipse cx="60.5" cy="159.6" rx="1.6" ry="0.9" fill="#2D7DB9" transform="rotate(-6 60.5 159.6)"/>
<ellipse cx="188.4" cy="177.7" rx="3.5" ry="2.3" fill="#263597" transform="rotate(-1 188.4 177.7)"/>
<ellipse cx="65.6" cy="180.0" rx="2.5" ry="1.7" fill="#263597" transform="rotate(-22 65.6 180.0)"/>
<ellipse cx="96.8" cy="161.5" rx="1.8" ry="0.6" fill="#263597" transform="rotate(-1 96.8 161.5)"/>
<ellipse cx="154.7" cy="157.7" rx="1.5" ry="0.6" fill="#263597" transform="rotate(2 154.7 157.7)"/>
<ellipse cx="80.3" cy="203.4" rx="3.1" ry="1.0" fill="#263597" transform="rotate(-12 80.3 203.4)"/>
<ellipse cx="93.2" cy="158.5" rx="2.4" ry="0.8" fill="#263597" transform="rotate(-18 93.2 158.5)"/>
<ellipse cx="94.1" cy="170.2" rx="3.2" ry="1.8" fill="#263597" transform="rotate(-22 94.1 170.2)"/>
<ellipse cx="115.8" cy="213.6" rx="1.1" ry="0.5" fill="#263597" transform="rotate(3 115.8 213.6)"/>
<ellipse cx="200.4" cy="167.0" rx="2.1" ry="1.0" fill="#263597" transform="rotate(-13 200.4 167.0)"/>
<ellipse cx="45.8" cy="166.7" rx="2.4" ry="1.1" fill="#263597" transform="rotate(-6 45.8 166.7)"/>
<ellipse cx="106.9" cy="171.8" rx="1.1" ry="0.6" fill="#263597" transform="rotate(-22 106.9 171.8)"/>
<ellipse cx="81.6" cy="212.9" rx="2.5" ry="1.5" fill="#263597" transform="rotate(-12 81.6 212.9)"/>
<ellipse cx="121.2" cy="180.0" rx="1.1" ry="0.4" fill="#263597" transform="rotate(-2 121.2 180.0)"/>
<ellipse cx="54.6" cy="163.6" rx="1.7" ry="0.8" fill="#2D7DB9" transform="rotate(6 54.6 163.6)"/>
<ellipse cx="175.4" cy="197.5" rx="2.2" ry="1.1" fill="#263597" transform="rotate(4 175.4 197.5)"/>
<ellipse cx="194.7" cy="181.4" rx="2.5" ry="1.6" fill="#263597" transform="rotate(-8 194.7 181.4)"/>
<ellipse cx="67.6" cy="184.4" rx="1.4" ry="0.8" fill="#263597" transform="rotate(-21 67.6 184.4)"/>
<ellipse cx="157.7" cy="214.7" rx="2.1" ry="0.9" fill="#2D7DB9" transform="rotate(-12 157.7 214.7)"/>
<ellipse cx="169.0" cy="209.6" rx="3.5" ry="1.6" fill="#263597" transform="rotate(1 169.0 209.6)"/>
<ellipse cx="128.1" cy="157.9" rx="1.3" ry="0.8" fill="#263597" transform="rotate(-21 128.1 157.9)"/>
<ellipse cx="121.6" cy="150.3" rx="2.7" ry="0.9" fill="#263597" transform="rotate(-12 121.6 150.3)"/>
<ellipse cx="134.9" cy="179.9" rx="1.3" ry="0.6" fill="#263597" transform="rotate(8 134.9 179.9)"/>
<ellipse cx="79.8" cy="146.8" rx="2.2" ry="1.2" fill="#263597" transform="rotate(-0 79.8 146.8)"/>
<ellipse cx="162.0" cy="152.8" rx="2.7" ry="0.9" fill="#263597" transform="rotate(10 162.0 152.8)"/>
<ellipse cx="58.7" cy="127.6" rx="3.3" ry="1.7" fill="#263597" transform="rotate(9 58.7 127.6)"/>
<ellipse cx="126.7" cy="206.1" rx="3.0" ry="1.5" fill="#263597" transform="rotate(8 126.7 206.1)"/>
<ellipse cx="151.7" cy="200.6" rx="2.9" ry="1.0" fill="#263597" transform="rotate(9 151.7 200.6)"/>
<ellipse cx="76.6" cy="144.7" rx="3.5" ry="2.4" fill="#2D7DB9" transform="rotate(4 76.6 144.7)"/>
<ellipse cx="198.9" cy="214.9" rx="2.5" ry="0.8" fill="#2D7DB9" transform="rotate(8 198.9 214.9)"/>
<ellipse cx="111.5" cy="178.4" rx="3.0" ry="0.9" fill="#263597" transform="rotate(10 111.5 178.4)"/>
<ellipse cx="121.8" cy="197.7" rx="2.7" ry="1.6" fill="#263597" transform="rotate(-23 121.8 197.7)"/>
<ellipse cx="108.7" cy="202.4" rx="2.1" ry="1.4" fill="#263597" transform="rotate(-9 108.7 202.4)"/>
<ellipse cx="166.7" cy="182.7" rx="1.3" ry="0.4" fill="#263597" transform="rotate(7 166.7 182.7)"/>
<ellipse cx="190.6" cy="197.1" rx="2.8" ry="1.0" fill="#263597" transform="rotate(-4 190.6 197.1)"/>
<ellipse cx="104.0" cy="158.0" rx="1.2" ry="0.7" fill="#263597" transform="rotate(5 104.0 158.0)"/>
<ellipse cx="125.6" cy="175.2" rx="1.2" ry="0.8" fill="#263597" transform="rotate(-9 125.6 175.2)"/>
<ellipse cx="158.6" cy="219.8" rx="2.6" ry="1.2" fill="#263597" transform="rotate(-2 158.6 219.8)"/>
<ellipse cx="98.1" cy="176.0" rx="2.3" ry="0.9" fill="#263597" transform="rotate(2 98.1 176.0)"/>
<ellipse cx="226.2" cy="172.6" rx="3.3" ry="1.5" fill="#263597" transform="rotate(-6 226.2 172.6)"/>
<ellipse cx="145.4" cy="155.3" rx="1.2" ry="0.8" fill="#263597" transform="rotate(-14 145.4 155.3)"/>
<ellipse cx="150.8" cy="167.9" rx="3.1" ry="1.3" fill="#2D7DB9" transform="rotate(-18 150.8 167.9)"/>
<ellipse cx="137.9" cy="144.7" rx="1.0" ry="0.4" fill="#2D7DB9" transform="rotate(-15 137.9 144.7)"/>
<ellipse cx="129.8" cy="179.8" rx="1.7" ry="0.9" fill="#263597" transform="rotate(-11 129.8 179.8)"/>
<ellipse cx="185.0" cy="212.8" rx="3.6" ry="1.3" fill="#263597" transform="rotate(1 185.0 212.8)"/>
<ellipse cx="46.6" cy="133.4" rx="2.9" ry="1.9" fill="#263597" transform="rotate(2 46.6 133.4)"/>
<ellipse cx="66.3" cy="184.9" rx="2.6" ry="1.4" fill="#263597" transform="rotate(-12 66.3 184.9)"/>
<ellipse cx="47.4" cy="170.0" rx="3.1" ry="1.9" fill="#263597" transform="rotate(-16 47.4 170.0)"/>
<ellipse cx="77.9" cy="153.7" rx="2.6" ry="1.1" fill="#2D7DB9" transform="rotate(9 77.9 153.7)"/>
<ellipse cx="143.9" cy="142.7" rx="2.9" ry="1.7" fill="#263597" transform="rotate(-22 143.9 142.7)"/>
<ellipse cx="60.4" cy="202.6" rx="2.4" ry="0.7" fill="#263597" transform="rotate(-23 60.4 202.6)"/>
<ellipse cx="131.3" cy="170.7" rx="1.1" ry="0.6" fill="#263597" transform="rotate(-2 131.3 170.7)"/>
<ellipse cx="36.8" cy="173.2" rx="3.6" ry="1.6" fill="#263597" transform="rotate(-0 36.8 173.2)"/>
<ellipse cx="99.2" cy="209.0" rx="2.5" ry="1.2" fill="#263597" transform="rotate(4 99.2 209.0)"/>
<ellipse cx="201.8" cy="199.2" rx="1.8" ry="0.6" fill="#263597" transform="rotate(-12 201.8 199.2)"/>
<ellipse cx="224.5" cy="187.5" rx="1.2" ry="0.4" fill="#263597" transform="rotate(-0 224.5 187.5)"/>
<ellipse cx="100.1" cy="164.0" rx="3.6" ry="1.5" fill="#263597" transform="rotate(-17 100.1 164.0)"/>
<ellipse cx="130.8" cy="167.6" rx="2.0" ry="1.3" fill="#263597" transform="rotate(-14 130.8 167.6)"/>
<ellipse cx="72.2" cy="168.8" rx="2.2" ry="1.0" fill="#263597" transform="rotate(6 72.2 168.8)"/>
<ellipse cx="80.6" cy="199.1" rx="3.2" ry="1.9" fill="#263597" transform="rotate(-15 80.6 199.1)"/>
<ellipse cx="132.6" cy="176.6" rx="1.3" ry="0.5" fill="#263597" transform="rotate(-23 132.6 176.6)"/>
<ellipse cx="106.8" cy="225.4" rx="1.2" ry="0.5" fill="#263597" transform="rotate(-25 106.8 225.4)"/>
<ellipse cx="105.0" cy="153.2" rx="1.3" ry="0.5" fill="#2D7DB9" transform="rotate(-16 105.0 153.2)"/>
<ellipse cx="111.5" cy="211.5" rx="1.0" ry="0.5" fill="#263597" transform="rotate(-17 111.5 211.5)"/>
<ellipse cx="133.8" cy="158.6" rx="3.2" ry="1.7" fill="#263597" transform="rotate(8 133.8 158.6)"/>
<ellipse cx="68.6" cy="203.7" rx="3.4" ry="1.3" fill="#263597" transform="rotate(-17 68.6 203.7)"/>
<ellipse cx="126.4" cy="158.9" rx="3.2" ry="2.0" fill="#263597" transform="rotate(-21 126.4 158.9)"/>
<ellipse cx="61.7" cy="188.1" rx="2.7" ry="1.7" fill="#263597" transform="rotate(-20 61.7 188.1)"/>
<ellipse cx="202.6" cy="198.4" rx="3.1" ry="1.5" fill="#263597" transform="rotate(4 202.6 198.4)"/>
<ellipse cx="195.2" cy="213.1" rx="1.6" ry="0.7" fill="#263597" transform="rotate(-9 195.2 213.1)"/>
<ellipse cx="124.1" cy="169.8" rx="1.4" ry="0.6" fill="#263597" transform="rotate(1 124.1 169.8)"/>
<ellipse cx="88.2" cy="190.8" rx="1.2" ry="0.7" fill="#263597" transform="rotate(-7 88.2 190.8)"/>
<ellipse cx="64.0" cy="185.2" rx="1.2" ry="0.6" fill="#263597" transform="rotate(1 64.0 185.2)"/>
<ellipse cx="128.1" cy="142.6" rx="1.2" ry="0.6" fill="#263597" transform="rotate(-10 128.1 142.6)"/>
<ellipse cx="145.4" cy="166.1" rx="1.4" ry="0.7" fill="#263597" transform="rotate(-20 145.4 166.1)"/>
<ellipse cx="133.7" cy="195.2" rx="1.3" ry="0.4" fill="#263597" transform="rotate(-4 133.7 195.2)"/>
<ellipse cx="202.4" cy="183.3" rx="1.4" ry="0.6" fill="#263597" transform="rotate(-5 202.4 183.3)"/>
<ellipse cx="160.1" cy="192.6" rx="1.1" ry="0.4" fill="#263597" transform="rotate(-22 160.1 192.6)"/>
<ellipse cx="48.8" cy="136.7" rx="1.6" ry="0.7" fill="#263597" transform="rotate(-18 48.8 136.7)"/>
<ellipse cx="38.9" cy="186.0" rx="1.6" ry="0.9" fill="#2D7DB9" transform="rotate(-6 38.9 186.0)"/>
<ellipse cx="175.8" cy="184.3" rx="1.7" ry="0.6" fill="#2D7DB9" transform="rotate(5 175.8 184.3)"/>
<ellipse cx="166.2" cy="223.2" rx="1.9" ry="1.3" fill="#263597" transform="rotate(-24 166.2 223.2)"/>
<ellipse cx="176.9" cy="209.0" rx="2.5" ry="1.0" fill="#263597" transform="rotate(-21 176.9 209.0)"/>
<ellipse cx="195.1" cy="216.5" rx="3.5" ry="1.9" fill="#263597" transform="rotate(-3 195.1 216.5)"/>
<ellipse cx="147.8" cy="156.2" rx="2.0" ry="1.0" fill="#263597" transform="rotate(10 147.8 156.2)"/>
<ellipse cx="111.4" cy="137.6" rx="3.3" ry="1.8" fill="#263597" transform="rotate(-12 111.4 137.6)"/>
<ellipse cx="119.3" cy="217.9" rx="2.4" ry="1.2" fill="#263597" transform="rotate(4 119.3 217.9)"/>
<ellipse cx="42.8" cy="138.3" rx="3.0" ry="1.6" fill="#263597" transform="rotate(-21 42.8 138.3)"/>
<ellipse cx="120.4" cy="222.6" rx="3.5" ry="1.4" fill="#263597" transform="rotate(-11 120.4 222.6)"/>
<ellipse cx="213.9" cy="173.6" rx="3.5" ry="1.9" fill="#2D7DB9" transform="rotate(-17 213.9 173.6)"/>
<ellipse cx="89.5" cy="142.0" rx="1.5" ry="0.5" fill="#263597" transform="rotate(0 89.5 142.0)"/>
<ellipse cx="148.4" cy="198.8" rx="3.1" ry="1.9" fill="#263597" transform="rotate(-4 148.4 198.8)"/>
<ellipse cx="92.8" cy="172.7" rx="2.8" ry="1.1" fill="#2D7DB9" transform="rotate(-21 92.8 172.7)"/>
<ellipse cx="87.7" cy="207.0" rx="1.5" ry="0.7" fill="#263597" transform="rotate(-8 87.7 207.0)"/>
<ellipse cx="207.1" cy="182.8" rx="1.9" ry="0.7" fill="#263597" transform="rotate(-8 207.1 182.8)"/>
<ellipse cx="174.0" cy="190.7" rx="3.0" ry="1.4" fill="#2D7DB9" transform="rotate(-8 174.0 190.7)"/>
<ellipse cx="196.9" cy="197.3" rx="1.9" ry="1.2" fill="#263597" transform="rotate(-22 196.9 197.3)"/>
<ellipse cx="165.6" cy="201.0" rx="2.1" ry="1.5" fill="#263597" transform="rotate(1 165.6 201.0)"/>
<ellipse cx="111.2" cy="191.2" rx="1.8" ry="0.6" fill="#263597" transform="rotate(-19 111.2 191.2)"/>
<ellipse cx="210.4" cy="170.9" rx="2.7" ry="1.3" fill="#263597" transform="rotate(5 210.4 170.9)"/>
<ellipse cx="106.9" cy="151.7" rx="3.0" ry="1.7" fill="#263597" transform="rotate(4 106.9 151.7)"/>
<ellipse cx="117.5" cy="140.2" rx="3.6" ry="2.0" fill="#263597" transform="rotate(-6 117.5 140.2)"/>
<ellipse cx="160.4" cy="175.5" rx="1.7" ry="0.6" fill="#263597" transform="rotate(-18 160.4 175.5)"/>
<ellipse cx="80.3" cy="159.3" rx="3.3" ry="1.6" fill="#2D7DB9" transform="rotate(-8 80.3 159.3)"/>
<ellipse cx="188.8" cy="212.9" rx="1.6" ry="1.1" fill="#263597" transform="rotate(-0 188.8 212.9)"/>
<ellipse cx="105.3" cy="169.3" rx="3.6" ry="1.8" fill="#263597" transform="rotate(-4 105.3 169.3)"/>
<ellipse cx="155.5" cy="163.2" rx="3.6" ry="1.6" fill="#263597" transform="rotate(-5 155.5 163.2)"/>
<ellipse cx="136.4" cy="182.7" rx="2.5" ry="1.7" fill="#2D7DB9" transform="rotate(-18 136.4 182.7)"/>
<ellipse cx="137.1" cy="221.1" rx="3.4" ry="2.3" fill="#263597" transform="rotate(7 137.1 221.1)"/>
<ellipse cx="56.2" cy="172.4" rx="3.5" ry="1.5" fill="#2D7DB9" transform="rotate(-23 56.2 172.4)"/>
<ellipse cx="96.5" cy="175.9" rx="3.5" ry="2.0" fill="#263597" transform="rotate(-4 96.5 175.9)"/>
<ellipse cx="210.8" cy="197.4" rx="1.6" ry="0.7" fill="#263597" transform="rotate(0 210.8 197.4)"/>
<ellipse cx="115.6" cy="168.5" rx="1.6" ry="0.6" fill="#263597" transform="rotate(-15 115.6 168.5)"/>
<ellipse cx="82.3" cy="140.1" rx="2.3" ry="1.3" fill="#263597" transform="rotate(-25 82.3 140.1)"/>
<ellipse cx="82.3" cy="174.9" rx="1.5" ry="0.8" fill="#263597" transform="rotate(-22 82.3 174.9)"/>
<ellipse cx="42.7" cy="127.9" rx="2.4" ry="0.9" fill="#263597" transform="rotate(3 42.7 127.9)"/>
<ellipse cx="149.1" cy="156.7" rx="2.2" ry="1.4" fill="#263597" transform="rotate(-3 149.1 156.7)"/>
<ellipse cx="121.4" cy="181.5" rx="2.8" ry="1.8" fill="#263597" transform="rotate(-16 121.4 181.5)"/>
<ellipse cx="60.6" cy="177.9" rx="1.5" ry="0.8" fill="#263597" transform="rotate(-25 60.6 177.9)"/>
<ellipse cx="176.8" cy="198.1" rx="1.7" ry="0.5" fill="#263597" transform="rotate(-16 176.8 198.1)"/>
<ellipse cx="113.8" cy="209.1" rx="1.8" ry="0.9" fill="#263597" transform="rotate(-7 113.8 209.1)"/>
<ellipse cx="104.4" cy="164.2" rx="3.0" ry="0.9" fill="#263597" transform="rotate(-14 104.4 164.2)"/>
<ellipse cx="195.2" cy="172.1" rx="2.5" ry="1.6" fill="#263597" transform="rotate(-16 195.2 172.1)"/>
<ellipse cx="150.7" cy="168.8" rx="2.8" ry="1.3" fill="#263597" transform="rotate(-6 150.7 168.8)"/>
<ellipse cx="56.2" cy="176.1" rx="1.7" ry="0.7" fill="#263597" transform="rotate(-8 56.2 176.1)"/>
<ellipse cx="221.2" cy="161.4" rx="1.0" ry="0.6" fill="#2D7DB9" transform="rotate(-19 221.2 161.4)"/>
<ellipse cx="141.3" cy="173.3" rx="2.2" ry="0.7" fill="#263597" transform="rotate(2 141.3 173.3)"/>
<ellipse cx="80.9" cy="178.0" rx="3.1" ry="1.7" fill="#263597" transform="rotate(-7 80.9 178.0)"/>
<ellipse cx="78.9" cy="208.8" rx="1.7" ry="1.1" fill="#263597" transform="rotate(-9 78.9 208.8)"/>
<ellipse cx="158.1" cy="184.5" rx="2.7" ry="1.2" fill="#263597" transform="rotate(-12 158.1 184.5)"/>
<ellipse cx="209.8" cy="180.3" rx="2.5" ry="0.8" fill="#263597" transform="rotate(-16 209.8 180.3)"/>
<ellipse cx="153.6" cy="182.8" rx="2.6" ry="1.2" fill="#263597" transform="rotate(-19 153.6 182.8)"/>
<ellipse cx="62.5" cy="173.2" rx="2.3" ry="0.8" fill="#263597" transform="rotate(-3 62.5 173.2)"/>
<ellipse cx="181.1" cy="208.6" rx="3.1" ry="1.8" fill="#263597" transform="rotate(-9 181.1 208.6)"/>
<ellipse cx="121.8" cy="194.9" rx="1.8" ry="1.1" fill="#263597" transform="rotate(-17 121.8 194.9)"/>
<ellipse cx="190.2" cy="168.6" rx="1.7" ry="1.1" fill="#2D7DB9" transform="rotate(-8 190.2 168.6)"/>
<ellipse cx="49.1" cy="153.2" rx="3.4" ry="2.0" fill="#263597" transform="rotate(4 49.1 153.2)"/>
<ellipse cx="70.2" cy="177.5" rx="1.2" ry="0.6" fill="#263597" transform="rotate(-13 70.2 177.5)"/>
<ellipse cx="178.0" cy="196.3" rx="3.4" ry="1.6" fill="#263597" transform="rotate(9 178.0 196.3)"/>
<ellipse cx="151.5" cy="195.5" rx="2.5" ry="1.2" fill="#263597" transform="rotate(0 151.5 195.5)"/>
<ellipse cx="145.1" cy="221.1" rx="1.5" ry="0.6" fill="#263597" transform="rotate(-23 145.1 221.1)"/>
<ellipse cx="202.6" cy="161.4" rx="2.3" ry="1.6" fill="#263597" transform="rotate(-9 202.6 161.4)"/>
<ellipse cx="75.5" cy="207.9" rx="2.6" ry="1.7" fill="#263597" transform="rotate(-16 75.5 207.9)"/>
<ellipse cx="147.6" cy="146.6" rx="1.1" ry="0.6" fill="#263597" transform="rotate(-20 147.6 146.6)"/>
<ellipse cx="41.2" cy="180.0" rx="2.9" ry="1.3" fill="#263597" transform="rotate(-4 41.2 180.0)"/>
<ellipse cx="162.4" cy="151.8" rx="3.3" ry="1.5" fill="#2D7DB9" transform="rotate(-16 162.4 151.8)"/>
<ellipse cx="218.8" cy="198.6" rx="1.5" ry="0.9" fill="#263597" transform="rotate(-14 218.8 198.6)"/>
<ellipse cx="106.8" cy="147.0" rx="1.8" ry="0.7" fill="#263597" transform="rotate(-11 106.8 147.0)"/>
<ellipse cx="103.9" cy="202.0" rx="2.1" ry="1.5" fill="#263597" transform="rotate(-0 103.9 202.0)"/>
<ellipse cx="214.6" cy="166.7" rx="2.5" ry="0.8" fill="#263597" transform="rotate(-5 214.6 166.7)"/>
<ellipse cx="112.8" cy="160.4" rx="3.5" ry="1.7" fill="#263597" transform="rotate(-25 112.8 160.4)"/>
<ellipse cx="97.3" cy="199.1" rx="1.4" ry="0.7" fill="#2D7DB9" transform="rotate(-9 97.3 199.1)"/>
<ellipse cx="88.2" cy="154.6" rx="3.5" ry="1.5" fill="#263597" transform="rotate(-23 88.2 154.6)"/>
<ellipse cx="178.4" cy="195.6" rx="3.4" ry="2.1" fill="#2D7DB9" transform="rotate(0 178.4 195.6)"/>
<ellipse cx="131.1" cy="199.6" rx="2.8" ry="0.9" fill="#263597" transform="rotate(-3 131.1 199.6)"/>
<ellipse cx="108.3" cy="145.5" rx="2.1" ry="1.2" fill="#263597" transform="rotate(-24 108.3 145.5)"/>
<ellipse cx="136.7" cy="207.4" rx="1.4" ry="0.5" fill="#2D7DB9" transform="rotate(-8 136.7 207.4)"/>
<ellipse cx="138.3" cy="197.8" rx="1.4" ry="0.7" fill="#263597" transform="rotate(-7 138.3 197.8)"/>
<ellipse cx="136.5" cy="162.1" rx="1.1" ry="0.7" fill="#263597" transform="rotate(-18 136.5 162.1)"/>
<ellipse cx="220.8" cy="195.2" rx="2.4" ry="1.5" fill="#2D7DB9" transform="rotate(-22 220.8 195.2)"/>
<ellipse cx="176.7" cy="189.0" rx="2.2" ry="0.8" fill="#2D7DB9" transform="rotate(-9 176.7 189.0)"/>
<ellipse cx="188.9" cy="164.1" rx="1.8" ry="0.7" fill="#263597" transform="rotate(-7 188.9 164.1)"/>
<ellipse cx="91.8" cy="164.3" rx="1.0" ry="0.3" fill="#263597" transform="rotate(-11 91.8 164.3)"/>
<ellipse cx="190.2" cy="221.6" rx="2.5" ry="1.5" fill="#2D7DB9" transform="rotate(-11 190.2 221.6)"/>
<ellipse cx="161.3" cy="158.5" rx="2.7" ry="1.0" fill="#263597" transform="rotate(-8 161.3 158.5)"/>
<ellipse cx="171.2" cy="205.4" rx="2.6" ry="1.8" fill="#263597" transform="rotate(-13 171.2 205.4)"/>
<ellipse cx="134.7" cy="178.4" rx="2.9" ry="1.3" fill="#263597" transform="rotate(-24 134.7 178.4)"/>
<ellipse cx="126.0" cy="150.0" rx="2.4" ry="1.5" fill="#263597" transform="rotate(-7 126.0 150.0)"/>
<ellipse cx="162.7" cy="227.7" rx="2.6" ry="1.3" fill="#263597" transform="rotate(-23 162.7 227.7)"/>
<ellipse cx="211.1" cy="176.9" rx="3.5" ry="2.2" fill="#2D7DB9" transform="rotate(4 211.1 176.9)"/>
<ellipse cx="133.6" cy="172.3" rx="1.4" ry="0.6" fill="#263597" transform="rotate(5 133.6 172.3)"/>
<ellipse cx="47.5" cy="143.0" rx="2.9" ry="1.6" fill="#263597" transform="rotate(-20 47.5 143.0)"/>
<ellipse cx="58.9" cy="182.1" rx="3.5" ry="2.0" fill="#263597" transform="rotate(9 58.9 182.1)"/>
<ellipse cx="71.2" cy="153.1" rx="1.1" ry="0.6" fill="#263597" transform="rotate(-3 71.2 153.1)"/>
<ellipse cx="50.4" cy="161.1" rx="2.9" ry="1.0" fill="#263597" transform="rotate(-12 50.4 161.1)"/>
<ellipse cx="59.6" cy="199.1" rx="2.8" ry="1.1" fill="#263597" transform="rotate(-0 59.6 199.1)"/>
<ellipse cx="75.7" cy="206.6" rx="1.0" ry="0.4" fill="#263597" transform="rotate(9 75.7 206.6)"/>
<ellipse cx="197.6" cy="205.2" rx="2.0" ry="0.8" fill="#263597" transform="rotate(-16 197.6 205.2)"/>
<ellipse cx="178.1" cy="194.6" rx="3.2" ry="1.9" fill="#263597" transform="rotate(-9 178.1 194.6)"/>
<ellipse cx="37.2" cy="166.6" rx="1.5" ry="1.0" fill="#263597" transform="rotate(-4 37.2 166.6)"/>
<ellipse cx="151.4" cy="191.1" rx="3.5" ry="1.8" fill="#2D7DB9" transform="rotate(-7 151.4 191.1)"/>
<ellipse cx="172.4" cy="230.9" rx="3.2" ry="2.2" fill="#2D7DB9" transform="rotate(-15 172.4 230.9)"/>
<ellipse cx="213.9" cy="196.8" rx="3.4" ry="1.2" fill="#263597" transform="rotate(-2 213.9 196.8)"/>
<ellipse cx="127.6" cy="219.6" rx="2.6" ry="1.2" fill="#263597" transform="rotate(-23 127.6 219.6)"/>
<ellipse cx="152.0" cy="182.0" rx="1.2" ry="0.6" fill="#263597" transform="rotate(-22 152.0 182.0)"/>
<ellipse cx="60.7" cy="183.6" rx="2.5" ry="1.0" fill="#263597" transform="rotate(-5 60.7 183.6)"/>
<ellipse cx="152.6" cy="148.5" rx="2.9" ry="1.1" fill="#263597" transform="rotate(-7 152.6 148.5)"/>
<ellipse cx="108.3" cy="192.4" rx="2.6" ry="1.6" fill="#263597" transform="rotate(3 108.3 192.4)"/>
<ellipse cx="104.9" cy="149.5" rx="2.6" ry="0.9" fill="#263597" transform="rotate(7 104.9 149.5)"/>
<ellipse cx="165.3" cy="230.2" rx="3.0" ry="1.5" fill="#263597" transform="rotate(-8 165.3 230.2)"/>
<ellipse cx="82.5" cy="162.9" rx="1.8" ry="1.0" fill="#263597" transform="rotate(9 82.5 162.9)"/>
<ellipse cx="109.0" cy="209.4" rx="2.2" ry="1.5" fill="#263597" transform="rotate(-15 109.0 209.4)"/>
<ellipse cx="47.0" cy="151.6" rx="3.5" ry="2.4" fill="#263597" transform="rotate(-1 47.0 151.6)"/>
<ellipse cx="51.2" cy="127.3" rx="1.2" ry="0.8" fill="#2D7DB9" transform="rotate(7 51.2 127.3)"/>
<ellipse cx="185.2" cy="177.8" rx="3.0" ry="1.7" fill="#263597" transform="rotate(5 185.2 177.8)"/>
<ellipse cx="150.6" cy="187.1" rx="2.0" ry="0.9" fill="#2D7DB9" transform="rotate(8 150.6 187.1)"/>
<ellipse cx="59.0" cy="130.2" rx="3.4" ry="1.3" fill="#263597" transform="rotate(-5 59.0 130.2)"/>
<ellipse cx="77.5" cy="135.5" rx="3.0" ry="1.6" fill="#263597" transform="rotate(-25 77.5 135.5)"/>
<ellipse cx="128.0" cy="205.8" rx="1.2" ry="0.7" fill="#263597" transform="rotate(8 128.0 205.8)"/>
<ellipse cx="62.5" cy="178.0" rx="2.4" ry="0.9" fill="#263597" transform="rotate(2 62.5 178.0)"/>
<ellipse cx="111.4" cy="225.3" rx="2.3" ry="1.2" fill="#263597" transform="rotate(-19 111.4 225.3)"/>
<ellipse cx="91.9" cy="192.1" rx="1.2" ry="0.8" fill="#263597" transform="rotate(-1 91.9 192.1)"/>
<ellipse cx="218.4" cy="193.2" rx="1.5" ry="0.8" fill="#263597" transform="rotate(-19 218.4 193.2)"/>
<ellipse cx="141.0" cy="193.5" rx="1.4" ry="0.5" fill="#263597" transform="rotate(-18 141.0 193.5)"/>
<ellipse cx="150.9" cy="182.0" rx="1.3" ry="0.6" fill="#2D7DB9" transform="rotate(5 150.9 182.0)"/>
<ellipse cx="76.8" cy="154.6" rx="2.6" ry="1.4" fill="#2D7DB9" transform="rotate(-16 76.8 154.6)"/>
<ellipse cx="217.1" cy="165.2" rx="2.3" ry="0.9" fill="#263597" transform="rotate(-5 217.1 165.2)"/>
<ellipse cx="221.5" cy="191.6" rx="1.0" ry="0.5" fill="#263597" transform="rotate(-19 221.5 191.6)"/>
<ellipse cx="183.7" cy="216.8" rx="2.2" ry="0.7" fill="#263597" transform="rotate(-8 183.7 216.8)"/>
<ellipse cx="206.1" cy="177.0" rx="3.1" ry="1.4" fill="#263597" transform="rotate(2 206.1 177.0)"/>
<ellipse cx="103.6" cy="205.4" rx="1.9" ry="0.7" fill="#263597" transform="rotate(-10 103.6 205.4)"/>
<ellipse cx="127.7" cy="212.0" rx="1.1" ry="0.6" fill="#263597" transform="rotate(0 127.7 212.0)"/>
<ellipse cx="169.0" cy="205.4" rx="2.8" ry="1.9" fill="#263597" transform="rotate(3 169.0 205.4)"/>
<ellipse cx="213.8" cy="171.9" rx="2.0" ry="1.0" fill="#263597" transform="rotate(-18 213.8 171.9)"/>
<ellipse cx="132.2" cy="154.8" rx="2.9" ry="1.6" fill="#263597" transform="rotate(-14 132.2 154.8)"/>
<ellipse cx="131.6" cy="203.1" rx="1.9" ry="1.3" fill="#263597" transform="rotate(9 131.6 203.1)"/>
<ellipse cx="53.6" cy="190.7" rx="2.6" ry="1.4" fill="#263597" transform="rotate(-3 53.6 190.7)"/>
<ellipse cx="86.3" cy="199.6" rx="3.4" ry="1.4" fill="#2D7DB9" transform="rotate(-8 86.3 199.6)"/>
<ellipse cx="108.4" cy="187.9" rx="3.0" ry="1.6" fill="#263597" transform="rotate(0 108.4 187.9)"/>
<ellipse cx="148.7" cy="223.4" rx="3.4" ry="1.1" fill="#263597" transform="rotate(-15 148.7 223.4)"/>
<ellipse cx="154.0" cy="206.9" rx="1.8" ry="0.7" fill="#263597" transform="rotate(3 154.0 206.9)"/>
<ellipse cx="156.3" cy="205.3" rx="3.5" ry="2.1" fill="#263597" transform="rotate(-14 156.3 205.3)"/>
<ellipse cx="166.5" cy="190.1" rx="2.0" ry="0.6" fill="#263597" transform="rotate(-1 166.5 190.1)"/>
<ellipse cx="105.3" cy="181.1" rx="3.1" ry="1.0" fill="#263597" transform="rotate(2 105.3 181.1)"/>
<ellipse cx="177.4" cy="158.5" rx="2.3" ry="1.5" fill="#263597" transform="rotate(-7 177.4 158.5)"/>
<ellipse cx="200.0" cy="182.3" rx="3.6" ry="1.1" fill="#263597" transform="rotate(-5 200.0 182.3)"/>
<ellipse cx="74.3" cy="187.1" rx="2.9" ry="1.0" fill="#263597" transform="rotate(-23 74.3 187.1)"/>
<ellipse cx="146.3" cy="187.1" rx="1.0" ry="0.3" fill="#2D7DB9" transform="rotate(-4 146.3 187.1)"/>
<ellipse cx="180.4" cy="218.7" rx="3.2" ry="1.2" fill="#2D7DB9" transform="rotate(-20 180.4 218.7)"/>
<ellipse cx="143.6" cy="144.5" rx="2.8" ry="1.2" fill="#263597" transform="rotate(-10 143.6 144.5)"/>
<ellipse cx="79.8" cy="173.8" rx="1.3" ry="0.7" fill="#263597" transform="rotate(10 79.8 173.8)"/>
<ellipse cx="208.8" cy="180.0" rx="2.2" ry="1.4" fill="#263597" transform="rotate(-13 208.8 180.0)"/>
<ellipse cx="103.2" cy="142.7" rx="2.9" ry="1.3" fill="#263597" transform="rotate(-24 103.2 142.7)"/>
<ellipse cx="103.1" cy="174.9" rx="2.7" ry="1.5" fill="#263597" transform="rotate(-8 103.1 174.9)"/>
<ellipse cx="147.7" cy="148.1" rx="2.1" ry="1.2" fill="#263597" transform="rotate(0 147.7 148.1)"/>
<ellipse cx="41.3" cy="121.3" rx="1.9" ry="0.9" fill="#263597" transform="rotate(-17 41.3 121.3)"/>
<ellipse cx="86.6" cy="139.4" rx="3.2" ry="1.8" fill="#263597" transform="rotate(-20 86.6 139.4)"/>
<ellipse cx="72.1" cy="155.0" rx="2.3" ry="1.5" fill="#263597" transform="rotate(-24 72.1 155.0)"/>
<ellipse cx="41.2" cy="157.7" rx="2.1" ry="0.6" fill="#263597" transform="rotate(-4 41.2 157.7)"/>
<ellipse cx="38.7" cy="185.3" rx="2.1" ry="0.7" fill="#263597" transform="rotate(5 38.7 185.3)"/>
<ellipse cx="57.6" cy="169.9" rx="1.6" ry="0.6" fill="#263597" transform="rotate(-0 57.6 169.9)"/>
<ellipse cx="177.4" cy="159.9" rx="3.5" ry="2.4" fill="#2D7DB9" transform="rotate(1 177.4 159.9)"/>
<ellipse cx="137.4" cy="165.7" rx="1.3" ry="0.5" fill="#263597" transform="rotate(10 137.4 165.7)"/>
<ellipse cx="43.3" cy="142.5" rx="3.5" ry="2.2" fill="#2D7DB9" transform="rotate(-15 43.3 142.5)"/>
<ellipse cx="166.8" cy="155.2" rx="2.9" ry="1.5" fill="#263597" transform="rotate(-7 166.8 155.2)"/>
<ellipse cx="111.7" cy="218.6" rx="1.5" ry="0.6" fill="#263597" transform="rotate(1 111.7 218.6)"/>
<ellipse cx="187.1" cy="192.8" rx="2.9" ry="1.4" fill="#263597" transform="rotate(-20 187.1 192.8)"/>
<ellipse cx="155.5" cy="177.3" rx="3.1" ry="1.4" fill="#263597" transform="rotate(-10 155.5 177.3)"/>
<ellipse cx="202.9" cy="199.5" rx="2.4" ry="1.5" fill="#263597" transform="rotate(-6 202.9 199.5)"/>
<ellipse cx="104.3" cy="211.3" rx="2.9" ry="1.5" fill="#263597" transform="rotate(-1 104.3 211.3)"/>
<ellipse cx="107.1" cy="161.2" rx="1.6" ry="1.0" fill="#263597" transform="rotate(-20 107.1 161.2)"/>
<ellipse cx="52.7" cy="153.2" rx="1.7" ry="1.0" fill="#263597" transform="rotate(-10 52.7 153.2)"/>
<ellipse cx="174.8" cy="201.5" rx="2.2" ry="1.5" fill="#2D7DB9" transform="rotate(-22 174.8 201.5)"/>
<ellipse cx="170.2" cy="186.9" rx="2.5" ry="1.0" fill="#263597" transform="rotate(1 170.2 186.9)"/>
<ellipse cx="114.2" cy="175.7" rx="1.3" ry="0.8" fill="#263597" transform="rotate(-22 114.2 175.7)"/>
<ellipse cx="75.5" cy="160.0" rx="1.2" ry="0.4" fill="#263597" transform="rotate(-9 75.5 160.0)"/>
<ellipse cx="51.2" cy="157.6" rx="3.1" ry="1.1" fill="#263597" transform="rotate(-11 51.2 157.6)"/>
<ellipse cx="80.4" cy="211.7" rx="1.8" ry="0.8" fill="#263597" transform="rotate(-0 80.4 211.7)"/>
<ellipse cx="133.1" cy="220.7" rx="1.7" ry="0.6" fill="#263597" transform="rotate(-1 133.1 220.7)"/>
<ellipse cx="83.2" cy="203.3" rx="2.4" ry="0.9" fill="#263597" transform="rotate(-5 83.2 203.3)"/>
<ellipse cx="153.4" cy="172.7" rx="1.1" ry="0.6" fill="#263597" transform="rotate(4 153.4 172.7)"/>
<ellipse cx="210.3" cy="199.5" rx="2.2" ry="0.9" fill="#263597" transform="rotate(6 210.3 199.5)"/>
<ellipse cx="217.0" cy="193.6" rx="2.6" ry="1.2" fill="#263597" transform="rotate(9 217.0 193.6)"/>
<ellipse cx="48.1" cy="188.8" rx="3.4" ry="1.5" fill="#263597" transform="rotate(7 48.1 188.8)"/>
<ellipse cx="55.2" cy="161.6" rx="3.4" ry="1.6" fill="#2D7DB9" transform="rotate(-19 55.2 161.6)"/>
<ellipse cx="104.0" cy="212.3" rx="1.8" ry="1.0" fill="#263597" transform="rotate(9 104.0 212.3)"/>
<ellipse cx="42.5" cy="179.5" rx="3.5" ry="1.8" fill="#2D7DB9" transform="rotate(-4 42.5 179.5)"/>
<ellipse cx="169.7" cy="175.1" rx="2.6" ry="1.2" fill="#263597" transform="rotate(4 169.7 175.1)"/>
<ellipse cx="99.1" cy="176.1" rx="3.3" ry="1.6" fill="#263597" transform="rotate(-2 99.1 176.1)"/>
<ellipse cx="58.2" cy="132.2" rx="1.9" ry="0.9" fill="#263597" transform="rotate(-6 58.2 132.2)"/>
<ellipse cx="41.9" cy="118.9" rx="1.6" ry="0.9" fill="#263597" transform="rotate(-6 41.9 118.9)"/>
<ellipse cx="178.8" cy="171.3" rx="2.0" ry="1.2" fill="#263597" transform="rotate(5 178.8 171.3)"/>
<ellipse cx="97.0" cy="204.6" rx="3.4" ry="2.3" fill="#2D7DB9" transform="rotate(2 97.0 204.6)"/>
<ellipse cx="187.1" cy="200.8" rx="2.1" ry="1.1" fill="#263597" transform="rotate(-5 187.1 200.8)"/>
<ellipse cx="40.9" cy="170.8" rx="3.3" ry="1.9" fill="#263597" transform="rotate(-8 40.9 170.8)"/>
<ellipse cx="116.6" cy="222.6" rx="3.0" ry="2.0" fill="#263597" transform="rotate(-10 116.6 222.6)"/>
<ellipse cx="52.2" cy="128.9" rx="1.3" ry="0.4" fill="#2D7DB9" transform="rotate(-14 52.2 128.9)"/>
<ellipse cx="77.8" cy="195.6" rx="3.1" ry="1.7" fill="#2D7DB9" transform="rotate(-21 77.8 195.6)"/>
<ellipse cx="91.1" cy="165.3" rx="3.1" ry="1.8" fill="#263597" transform="rotate(6 91.1 165.3)"/>
<ellipse cx="137.8" cy="205.3" rx="3.1" ry="1.6" fill="#2D7DB9" transform="rotate(-23 137.8 205.3)"/>
<ellipse cx="103.5" cy="203.5" rx="3.6" ry="1.6" fill="#263597" transform="rotate(-8 103.5 203.5)"/>
<ellipse cx="222.4" cy="176.4" rx="2.7" ry="0.8" fill="#263597" transform="rotate(-0 222.4 176.4)"/>
<ellipse cx="141.5" cy="226.0" rx="2.2" ry="1.0" fill="#263597" transform="rotate(7 141.5 226.0)"/>
<ellipse cx="56.6" cy="190.8" rx="2.6" ry="1.6" fill="#263597" transform="rotate(-24 56.6 190.8)"/>
<ellipse cx="174.9" cy="230.1" rx="1.8" ry="1.0" fill="#263597" transform="rotate(6 174.9 230.1)"/>
<ellipse cx="143.0" cy="174.4" rx="3.1" ry="1.4" fill="#263597" transform="rotate(-19 143.0 174.4)"/>
<ellipse cx="40.5" cy="120.6" rx="2.0" ry="0.9" fill="#263597" transform="rotate(5 40.5 120.6)"/>
<ellipse cx="82.0" cy="205.6" rx="1.9" ry="1.2" fill="#2D7DB9" transform="rotate(-2 82.0 205.6)"/>
<ellipse cx="54.3" cy="191.7" rx="2.7" ry="1.1" fill="#263597" transform="rotate(-1 54.3 191.7)"/>
<ellipse cx="97.4" cy="171.8" rx="3.5" ry="2.0" fill="#263597" transform="rotate(-10 97.4 171.8)"/>
<ellipse cx="138.4" cy="177.7" rx="2.5" ry="1.2" fill="#263597" transform="rotate(-19 138.4 177.7)"/>
<ellipse cx="96.3" cy="186.9" rx="2.8" ry="1.8" fill="#263597" transform="rotate(5 96.3 186.9)"/>
<ellipse cx="80.2" cy="173.3" rx="2.8" ry="1.9" fill="#263597" transform="rotate(-24 80.2 173.3)"/>
<ellipse cx="111.5" cy="202.4" rx="1.9" ry="0.8" fill="#263597" transform="rotate(5 111.5 202.4)"/>
<ellipse cx="106.3" cy="144.7" rx="2.2" ry="0.7" fill="#2A56A8" transform="rotate(-24 106.3 144.7)"/>
<ellipse cx="129.9" cy="163.7" rx="2.1" ry="0.7" fill="#263597" transform="rotate(-19 129.9 163.7)"/>
<ellipse cx="121.8" cy="171.6" rx="2.3" ry="1.2" fill="#2A56A8" transform="rotate(-7 121.8 171.6)"/>
<ellipse cx="80.0" cy="173.1" rx="3.5" ry="1.2" fill="#263597" transform="rotate(-7 80.0 173.1)"/>
<ellipse cx="79.3" cy="162.2" rx="2.8" ry="1.2" fill="#263597" transform="rotate(-15 79.3 162.2)"/>
<ellipse cx="105.4" cy="173.9" rx="1.6" ry="1.0" fill="#2A56A8" transform="rotate(8 105.4 173.9)"/>
<ellipse cx="100.8" cy="161.6" rx="3.3" ry="1.7" fill="#263597" transform="rotate(-2 100.8 161.6)"/>
<ellipse cx="148.8" cy="159.7" rx="2.4" ry="1.4" fill="#263597" transform="rotate(5 148.8 159.7)"/>
<ellipse cx="133.8" cy="178.1" rx="2.6" ry="1.1" fill="#263597" transform="rotate(-22 133.8 178.1)"/>
<ellipse cx="90.9" cy="157.6" rx="1.7" ry="1.2" fill="#263597" transform="rotate(-4 90.9 157.6)"/>
<ellipse cx="98.8" cy="198.6" rx="3.5" ry="1.3" fill="#2A56A8" transform="rotate(-12 98.8 198.6)"/>
<ellipse cx="127.5" cy="165.1" rx="3.1" ry="1.6" fill="#2A56A8" transform="rotate(7 127.5 165.1)"/>
<ellipse cx="140.4" cy="169.1" rx="2.3" ry="1.3" fill="#263597" transform="rotate(-22 140.4 169.1)"/>
<ellipse cx="106.8" cy="155.3" rx="3.0" ry="1.1" fill="#263597" transform="rotate(3 106.8 155.3)"/>
<ellipse cx="75.0" cy="167.3" rx="3.3" ry="1.5" fill="#263597" transform="rotate(-2 75.0 167.3)"/>
<ellipse cx="129.0" cy="163.0" rx="2.4" ry="1.3" fill="#263597" transform="rotate(-25 129.0 163.0)"/>
<ellipse cx="126.9" cy="180.7" rx="2.7" ry="1.5" fill="#2A56A8" transform="rotate(-13 126.9 180.7)"/>
<ellipse cx="77.8" cy="178.0" rx="2.7" ry="1.4" fill="#263597" transform="rotate(-3 77.8 178.0)"/>
<ellipse cx="130.4" cy="185.7" rx="3.2" ry="2.0" fill="#2A56A8" transform="rotate(-14 130.4 185.7)"/>
<ellipse cx="85.9" cy="169.6" rx="1.4" ry="0.5" fill="#263597" transform="rotate(-17 85.9 169.6)"/>
<ellipse cx="146.4" cy="156.0" rx="2.6" ry="1.3" fill="#263597" transform="rotate(-20 146.4 156.0)"/>
<ellipse cx="84.1" cy="179.8" rx="2.2" ry="1.0" fill="#263597" transform="rotate(4 84.1 179.8)"/>
<ellipse cx="121.3" cy="154.6" rx="1.3" ry="0.7" fill="#263597" transform="rotate(-21 121.3 154.6)"/>
<ellipse cx="123.4" cy="140.5" rx="2.7" ry="1.2" fill="#2A56A8" transform="rotate(-3 123.4 140.5)"/>
<ellipse cx="129.1" cy="194.3" rx="2.6" ry="1.2" fill="#263597" transform="rotate(-24 129.1 194.3)"/>
<ellipse cx="84.8" cy="161.0" rx="2.7" ry="1.2" fill="#263597" transform="rotate(-25 84.8 161.0)"/>
<ellipse cx="92.8" cy="144.2" rx="3.8" ry="1.4" fill="#263597" transform="rotate(-9 92.8 144.2)"/>
<ellipse cx="72.4" cy="157.0" rx="2.4" ry="1.1" fill="#263597" transform="rotate(-2 72.4 157.0)"/>
<ellipse cx="113.5" cy="203.0" rx="1.4" ry="1.0" fill="#263597" transform="rotate(-10 113.5 203.0)"/>
<ellipse cx="73.7" cy="173.4" rx="3.2" ry="2.1" fill="#263597" transform="rotate(8 73.7 173.4)"/>
<ellipse cx="64.5" cy="154.6" rx="2.8" ry="1.4" fill="#263597" transform="rotate(5 64.5 154.6)"/>
<ellipse cx="67.9" cy="162.8" rx="3.2" ry="2.0" fill="#2A56A8" transform="rotate(2 67.9 162.8)"/>
<ellipse cx="86.3" cy="146.4" rx="1.6" ry="0.9" fill="#263597" transform="rotate(-12 86.3 146.4)"/>
<ellipse cx="141.4" cy="152.6" rx="2.7" ry="1.1" fill="#263597" transform="rotate(8 141.4 152.6)"/>
<ellipse cx="142.7" cy="165.2" rx="1.5" ry="0.9" fill="#263597" transform="rotate(-2 142.7 165.2)"/>
<ellipse cx="86.5" cy="149.7" rx="1.9" ry="0.8" fill="#2A56A8" transform="rotate(-16 86.5 149.7)"/>
<ellipse cx="72.4" cy="172.8" rx="3.3" ry="1.4" fill="#2A56A8" transform="rotate(-7 72.4 172.8)"/>
<ellipse cx="113.7" cy="162.4" rx="4.0" ry="1.7" fill="#263597" transform="rotate(-4 113.7 162.4)"/>
<ellipse cx="67.1" cy="161.5" rx="3.9" ry="1.3" fill="#263597" transform="rotate(-19 67.1 161.5)"/>
<ellipse cx="82.1" cy="175.4" rx="2.7" ry="1.7" fill="#263597" transform="rotate(-6 82.1 175.4)"/>
<ellipse cx="119.8" cy="169.9" rx="3.2" ry="1.8" fill="#2A56A8" transform="rotate(-5 119.8 169.9)"/>
<ellipse cx="91.1" cy="157.3" rx="1.9" ry="1.2" fill="#263597" transform="rotate(-20 91.1 157.3)"/>
<ellipse cx="124.0" cy="196.6" rx="1.4" ry="0.4" fill="#263597" transform="rotate(-6 124.0 196.6)"/>
<ellipse cx="106.5" cy="164.1" rx="2.8" ry="1.9" fill="#2A56A8" transform="rotate(5 106.5 164.1)"/>
<ellipse cx="107.1" cy="142.9" rx="3.4" ry="1.9" fill="#263597" transform="rotate(-20 107.1 142.9)"/>
<ellipse cx="100.3" cy="144.3" rx="2.2" ry="1.4" fill="#263597" transform="rotate(-16 100.3 144.3)"/>
<ellipse cx="140.1" cy="173.7" rx="2.7" ry="1.3" fill="#263597" transform="rotate(-5 140.1 173.7)"/>
<ellipse cx="109.0" cy="161.1" rx="2.5" ry="1.0" fill="#2A56A8" transform="rotate(6 109.0 161.1)"/>
<ellipse cx="129.1" cy="154.2" rx="3.1" ry="1.9" fill="#2A56A8" transform="rotate(-22 129.1 154.2)"/>
<ellipse cx="141.7" cy="157.9" rx="2.0" ry="1.0" fill="#263597" transform="rotate(-15 141.7 157.9)"/>
<ellipse cx="108.8" cy="152.1" rx="3.5" ry="1.3" fill="#263597" transform="rotate(-16 108.8 152.1)"/>
<ellipse cx="118.6" cy="160.9" rx="2.6" ry="1.1" fill="#263597" transform="rotate(-2 118.6 160.9)"/>
<ellipse cx="136.5" cy="153.7" rx="2.8" ry="1.5" fill="#263597" transform="rotate(-8 136.5 153.7)"/>
<ellipse cx="97.9" cy="164.0" rx="3.9" ry="2.1" fill="#2A56A8" transform="rotate(-7 97.9 164.0)"/>
<ellipse cx="119.9" cy="154.1" rx="2.3" ry="0.7" fill="#263597" transform="rotate(4 119.9 154.1)"/>
<ellipse cx="128.5" cy="143.4" rx="2.1" ry="1.4" fill="#263597" transform="rotate(-11 128.5 143.4)"/>
<ellipse cx="111.6" cy="185.9" rx="3.3" ry="1.6" fill="#263597" transform="rotate(-18 111.6 185.9)"/>
<ellipse cx="137.5" cy="173.0" rx="1.2" ry="0.6" fill="#263597" transform="rotate(1 137.5 173.0)"/>
<ellipse cx="112.1" cy="140.3" rx="1.5" ry="0.8" fill="#263597" transform="rotate(-18 112.1 140.3)"/>
<ellipse cx="72.3" cy="145.1" rx="3.9" ry="2.3" fill="#263597" transform="rotate(3 72.3 145.1)"/>
<ellipse cx="137.4" cy="159.2" rx="3.7" ry="2.0" fill="#263597" transform="rotate(-7 137.4 159.2)"/>
<ellipse cx="79.3" cy="157.9" rx="3.9" ry="1.9" fill="#2A56A8" transform="rotate(-6 79.3 157.9)"/>
<ellipse cx="101.2" cy="144.5" rx="3.8" ry="1.6" fill="#263597" transform="rotate(-16 101.2 144.5)"/>
<ellipse cx="130.3" cy="157.6" rx="1.7" ry="0.8" fill="#2A56A8" transform="rotate(-17 130.3 157.6)"/>
<ellipse cx="115.2" cy="187.5" rx="3.3" ry="1.5" fill="#263597" transform="rotate(3 115.2 187.5)"/>
<ellipse cx="107.5" cy="196.2" rx="3.5" ry="1.6" fill="#263597" transform="rotate(-22 107.5 196.2)"/>
<ellipse cx="65.4" cy="150.8" rx="1.2" ry="0.6" fill="#2A56A8" transform="rotate(-23 65.4 150.8)"/>
<ellipse cx="118.5" cy="192.0" rx="2.5" ry="1.4" fill="#263597" transform="rotate(-12 118.5 192.0)"/>
<ellipse cx="83.6" cy="178.1" rx="2.2" ry="0.7" fill="#263597" transform="rotate(5 83.6 178.1)"/>
<ellipse cx="106.9" cy="182.4" rx="1.5" ry="0.7" fill="#2A56A8" transform="rotate(-13 106.9 182.4)"/>
<ellipse cx="107.4" cy="155.2" rx="2.4" ry="1.6" fill="#263597" transform="rotate(-18 107.4 155.2)"/>
<ellipse cx="85.2" cy="186.1" rx="2.0" ry="1.3" fill="#263597" transform="rotate(-10 85.2 186.1)"/>
<ellipse cx="76.6" cy="170.1" rx="3.9" ry="2.1" fill="#263597" transform="rotate(-8 76.6 170.1)"/>
<ellipse cx="121.0" cy="195.7" rx="2.3" ry="1.4" fill="#263597" transform="rotate(-7 121.0 195.7)"/>
<ellipse cx="129.8" cy="169.4" rx="1.5" ry="0.8" fill="#263597" transform="rotate(7 129.8 169.4)"/>
<ellipse cx="90.5" cy="176.0" rx="3.5" ry="1.9" fill="#263597" transform="rotate(-0 90.5 176.0)"/>
<ellipse cx="75.4" cy="166.6" rx="1.7" ry="0.6" fill="#263597" transform="rotate(3 75.4 166.6)"/>
<ellipse cx="106.2" cy="144.3" rx="3.0" ry="1.7" fill="#263597" transform="rotate(-5 106.2 144.3)"/>
<ellipse cx="67.4" cy="160.8" rx="3.5" ry="1.5" fill="#263597" transform="rotate(-23 67.4 160.8)"/>
<ellipse cx="94.1" cy="162.3" rx="1.8" ry="1.1" fill="#263597" transform="rotate(-24 94.1 162.3)"/>
<ellipse cx="135.6" cy="186.1" rx="1.9" ry="1.2" fill="#2A56A8" transform="rotate(-19 135.6 186.1)"/>
<ellipse cx="127.1" cy="160.6" rx="1.3" ry="0.7" fill="#263597" transform="rotate(-21 127.1 160.6)"/>
<ellipse cx="85.0" cy="170.5" rx="3.3" ry="1.1" fill="#263597" transform="rotate(1 85.0 170.5)"/>
<ellipse cx="86.3" cy="140.3" rx="1.9" ry="1.3" fill="#263597" transform="rotate(1 86.3 140.3)"/>
<ellipse cx="139.6" cy="172.0" rx="1.8" ry="1.0" fill="#263597" transform="rotate(-1 139.6 172.0)"/>
<ellipse cx="130.6" cy="144.1" rx="3.1" ry="1.1" fill="#263597" transform="rotate(-12 130.6 144.1)"/>
<ellipse cx="76.0" cy="180.2" rx="2.0" ry="1.0" fill="#263597" transform="rotate(-7 76.0 180.2)"/>
<ellipse cx="120.4" cy="188.2" rx="3.5" ry="2.0" fill="#263597" transform="rotate(-9 120.4 188.2)"/>
<ellipse cx="145.7" cy="166.6" rx="3.9" ry="1.6" fill="#263597" transform="rotate(5 145.7 166.6)"/>
<ellipse cx="136.6" cy="148.5" rx="3.2" ry="1.6" fill="#2A56A8" transform="rotate(6 136.6 148.5)"/>
<ellipse cx="138.0" cy="189.1" rx="3.5" ry="2.4" fill="#263597" transform="rotate(-22 138.0 189.1)"/>
<ellipse cx="90.2" cy="158.7" rx="1.4" ry="0.6" fill="#263597" transform="rotate(-4 90.2 158.7)"/>
<ellipse cx="91.5" cy="146.3" rx="1.3" ry="0.8" fill="#263597" transform="rotate(-17 91.5 146.3)"/>
<ellipse cx="101.5" cy="161.1" rx="2.6" ry="0.9" fill="#263597" transform="rotate(8 101.5 161.1)"/>
<ellipse cx="133.7" cy="173.1" rx="2.7" ry="1.5" fill="#263597" transform="rotate(-5 133.7 173.1)"/>
<ellipse cx="63.7" cy="147.3" rx="1.6" ry="0.9" fill="#2A56A8" transform="rotate(-7 63.7 147.3)"/>
<ellipse cx="77.6" cy="156.7" rx="1.8" ry="1.0" fill="#263597" transform="rotate(6 77.6 156.7)"/>
<ellipse cx="106.5" cy="140.2" rx="1.3" ry="0.4" fill="#263597" transform="rotate(-21 106.5 140.2)"/>
<ellipse cx="88.7" cy="185.0" rx="1.7" ry="0.8" fill="#263597" transform="rotate(-8 88.7 185.0)"/>
<ellipse cx="131.0" cy="148.5" rx="2.6" ry="0.8" fill="#2A56A8" transform="rotate(6 131.0 148.5)"/>
<ellipse cx="137.0" cy="162.5" rx="2.6" ry="1.1" fill="#2A56A8" transform="rotate(6 137.0 162.5)"/>
<ellipse cx="79.3" cy="178.8" rx="2.3" ry="1.3" fill="#263597" transform="rotate(-18 79.3 178.8)"/>
<ellipse cx="127.6" cy="145.3" rx="2.0" ry="1.3" fill="#263597" transform="rotate(-22 127.6 145.3)"/>
<ellipse cx="133.2" cy="175.6" rx="2.1" ry="0.9" fill="#263597" transform="rotate(-1 133.2 175.6)"/>
<ellipse cx="125.2" cy="150.3" rx="3.1" ry="1.1" fill="#263597" transform="rotate(-1 125.2 150.3)"/>
<ellipse cx="103.8" cy="183.7" rx="3.8" ry="1.8" fill="#263597" transform="rotate(8 103.8 183.7)"/>
<ellipse cx="79.5" cy="181.4" rx="2.6" ry="1.4" fill="#263597" transform="rotate(-10 79.5 181.4)"/>
<ellipse cx="103.0" cy="185.6" rx="1.3" ry="0.4" fill="#263597" transform="rotate(1 103.0 185.6)"/>
<ellipse cx="119.4" cy="156.2" rx="2.1" ry="0.9" fill="#263597" transform="rotate(6 119.4 156.2)"/>
<ellipse cx="127.9" cy="163.6" rx="1.9" ry="1.3" fill="#263597" transform="rotate(-12 127.9 163.6)"/>
<ellipse cx="97.6" cy="164.2" rx="1.8" ry="0.8" fill="#263597" transform="rotate(-3 97.6 164.2)"/>
<ellipse cx="112.6" cy="149.0" rx="4.0" ry="2.1" fill="#263597" transform="rotate(-21 112.6 149.0)"/>
<ellipse cx="143.9" cy="165.9" rx="3.4" ry="1.1" fill="#2A56A8" transform="rotate(4 143.9 165.9)"/>
<ellipse cx="136.5" cy="154.6" rx="3.8" ry="2.4" fill="#263597" transform="rotate(-22 136.5 154.6)"/>
<ellipse cx="133.4" cy="149.5" rx="2.3" ry="0.7" fill="#263597" transform="rotate(-1 133.4 149.5)"/>
<ellipse cx="111.3" cy="170.2" rx="3.3" ry="1.7" fill="#2A56A8" transform="rotate(-1 111.3 170.2)"/>
<ellipse cx="128.0" cy="145.1" rx="2.9" ry="1.6" fill="#263597" transform="rotate(7 128.0 145.1)"/>
<ellipse cx="133.4" cy="189.4" rx="2.5" ry="1.3" fill="#263597" transform="rotate(-2 133.4 189.4)"/>
<ellipse cx="125.3" cy="154.7" rx="3.4" ry="2.2" fill="#2A56A8" transform="rotate(-2 125.3 154.7)"/>
<ellipse cx="73.5" cy="157.2" rx="3.6" ry="1.1" fill="#263597" transform="rotate(4 73.5 157.2)"/>
<ellipse cx="93.3" cy="162.3" rx="4.0" ry="2.3" fill="#2A56A8" transform="rotate(-1 93.3 162.3)"/>
<ellipse cx="71.3" cy="148.0" rx="2.5" ry="1.3" fill="#263597" transform="rotate(-22 71.3 148.0)"/>
<ellipse cx="123.4" cy="194.4" rx="3.6" ry="2.2" fill="#263597" transform="rotate(5 123.4 194.4)"/>
<ellipse cx="80.1" cy="148.3" rx="3.2" ry="1.0" fill="#263597" transform="rotate(-16 80.1 148.3)"/>
<ellipse cx="84.6" cy="139.6" rx="1.6" ry="0.7" fill="#2A56A8" transform="rotate(-24 84.6 139.6)"/>
<ellipse cx="80.5" cy="189.9" rx="1.5" ry="0.6" fill="#263597" transform="rotate(8 80.5 189.9)"/>
<ellipse cx="110.4" cy="204.2" rx="1.9" ry="1.3" fill="#263597" transform="rotate(-10 110.4 204.2)"/>
<ellipse cx="82.3" cy="186.6" rx="1.5" ry="1.0" fill="#263597" transform="rotate(-13 82.3 186.6)"/>
<ellipse cx="88.4" cy="147.2" rx="2.1" ry="1.2" fill="#263597" transform="rotate(-10 88.4 147.2)"/>
<ellipse cx="129.8" cy="151.9" rx="2.7" ry="1.4" fill="#263597" transform="rotate(5 129.8 151.9)"/>
<ellipse cx="87.3" cy="193.6" rx="2.5" ry="0.9" fill="#263597" transform="rotate(-1 87.3 193.6)"/>
<ellipse cx="96.4" cy="154.6" rx="2.5" ry="1.4" fill="#263597" transform="rotate(-24 96.4 154.6)"/>
<ellipse cx="80.9" cy="181.9" rx="3.9" ry="1.3" fill="#263597" transform="rotate(-24 80.9 181.9)"/>
<ellipse cx="141.4" cy="157.6" rx="2.2" ry="1.4" fill="#263597" transform="rotate(9 141.4 157.6)"/>
<ellipse cx="124.0" cy="158.3" rx="4.0" ry="1.9" fill="#263597" transform="rotate(-2 124.0 158.3)"/>
<ellipse cx="125.0" cy="160.8" rx="1.2" ry="0.9" fill="#263597" transform="rotate(0 125.0 160.8)"/>
<ellipse cx="137.8" cy="158.9" rx="1.8" ry="0.7" fill="#263597" transform="rotate(10 137.8 158.9)"/>
<ellipse cx="67.7" cy="153.7" rx="1.4" ry="0.9" fill="#263597" transform="rotate(1 67.7 153.7)"/>
<ellipse cx="74.7" cy="143.7" rx="1.3" ry="0.4" fill="#263597" transform="rotate(2 74.7 143.7)"/>
<ellipse cx="129.4" cy="179.4" rx="1.4" ry="0.5" fill="#263597" transform="rotate(-13 129.4 179.4)"/>
<ellipse cx="75.3" cy="159.6" rx="2.3" ry="1.1" fill="#2A56A8" transform="rotate(-23 75.3 159.6)"/>
<ellipse cx="123.0" cy="160.7" rx="3.2" ry="1.2" fill="#2A56A8" transform="rotate(-15 123.0 160.7)"/>
<ellipse cx="100.6" cy="176.7" rx="3.9" ry="1.5" fill="#263597" transform="rotate(-1 100.6 176.7)"/>
<ellipse cx="116.4" cy="151.6" rx="3.6" ry="1.7" fill="#263597" transform="rotate(-17 116.4 151.6)"/>
<ellipse cx="124.2" cy="180.8" rx="3.9" ry="2.0" fill="#263597" transform="rotate(-17 124.2 180.8)"/>
<ellipse cx="80.9" cy="158.2" rx="3.3" ry="2.3" fill="#263597" transform="rotate(-19 80.9 158.2)"/>
<ellipse cx="97.2" cy="174.5" rx="3.0" ry="1.8" fill="#2A56A8" transform="rotate(-6 97.2 174.5)"/>
<ellipse cx="118.6" cy="141.3" rx="1.7" ry="0.8" fill="#263597" transform="rotate(-23 118.6 141.3)"/>
<ellipse cx="128.8" cy="147.1" rx="3.6" ry="2.3" fill="#263597" transform="rotate(-11 128.8 147.1)"/>
<ellipse cx="105.4" cy="195.0" rx="3.8" ry="2.0" fill="#2A56A8" transform="rotate(-6 105.4 195.0)"/>
<ellipse cx="102.4" cy="168.4" rx="1.6" ry="0.6" fill="#263597" transform="rotate(-8 102.4 168.4)"/>
<ellipse cx="136.4" cy="172.4" rx="1.7" ry="1.0" fill="#263597" transform="rotate(-10 136.4 172.4)"/>
<ellipse cx="101.8" cy="145.0" rx="4.0" ry="1.2" fill="#263597" transform="rotate(-23 101.8 145.0)"/>
<ellipse cx="87.4" cy="169.5" rx="2.5" ry="1.4" fill="#263597" transform="rotate(-0 87.4 169.5)"/>
<ellipse cx="67.9" cy="156.2" rx="2.0" ry="1.0" fill="#2A56A8" transform="rotate(6 67.9 156.2)"/>
<ellipse cx="105.6" cy="196.9" rx="2.7" ry="1.5" fill="#2A56A8" transform="rotate(9 105.6 196.9)"/>
<ellipse cx="114.2" cy="149.6" rx="2.9" ry="1.4" fill="#263597" transform="rotate(-8 114.2 149.6)"/>
<ellipse cx="99.7" cy="191.3" rx="2.5" ry="1.4" fill="#2A56A8" transform="rotate(-20 99.7 191.3)"/>
<ellipse cx="68.0" cy="152.8" rx="1.6" ry="0.5" fill="#263597" transform="rotate(-7 68.0 152.8)"/>
<ellipse cx="138.0" cy="187.8" rx="1.4" ry="0.5" fill="#263597" transform="rotate(-6 138.0 187.8)"/>
<ellipse cx="140.6" cy="166.7" rx="2.0" ry="1.3" fill="#263597" transform="rotate(-20 140.6 166.7)"/>
<ellipse cx="139.6" cy="143.4" rx="1.5" ry="0.6" fill="#263597" transform="rotate(-1 139.6 143.4)"/>
<ellipse cx="109.9" cy="166.6" rx="3.5" ry="1.7" fill="#263597" transform="rotate(-19 109.9 166.6)"/>
<ellipse cx="137.0" cy="147.8" rx="3.1" ry="1.8" fill="#263597" transform="rotate(-12 137.0 147.8)"/>
<ellipse cx="89.9" cy="181.8" rx="3.1" ry="1.7" fill="#2A56A8" transform="rotate(-1 89.9 181.8)"/>
<ellipse cx="123.0" cy="186.3" rx="3.5" ry="1.4" fill="#263597" transform="rotate(4 123.0 186.3)"/>
<ellipse cx="79.3" cy="149.0" rx="1.8" ry="0.9" fill="#263597" transform="rotate(-14 79.3 149.0)"/>
<ellipse cx="89.2" cy="174.8" rx="2.2" ry="0.9" fill="#2A56A8" transform="rotate(2 89.2 174.8)"/>
<ellipse cx="87.4" cy="165.0" rx="2.7" ry="1.8" fill="#2A56A8" transform="rotate(-23 87.4 165.0)"/>
<ellipse cx="67.6" cy="170.7" rx="3.0" ry="1.0" fill="#263597" transform="rotate(-1 67.6 170.7)"/>
<ellipse cx="93.6" cy="148.4" rx="2.6" ry="1.7" fill="#263597" transform="rotate(-6 93.6 148.4)"/>
<ellipse cx="81.4" cy="146.1" rx="1.9" ry="0.8" fill="#2A56A8" transform="rotate(-5 81.4 146.1)"/>
<ellipse cx="98.2" cy="181.1" rx="1.6" ry="0.7" fill="#263597" transform="rotate(-14 98.2 181.1)"/>
<ellipse cx="141.5" cy="145.1" rx="1.3" ry="0.4" fill="#263597" transform="rotate(-8 141.5 145.1)"/>
<ellipse cx="111.6" cy="181.3" rx="3.3" ry="2.2" fill="#263597" transform="rotate(-19 111.6 181.3)"/>
<ellipse cx="141.7" cy="183.8" rx="3.4" ry="1.8" fill="#263597" transform="rotate(-20 141.7 183.8)"/>
<ellipse cx="131.2" cy="170.6" rx="2.7" ry="1.6" fill="#263597" transform="rotate(4 131.2 170.6)"/>
<ellipse cx="90.8" cy="160.2" rx="2.3" ry="1.4" fill="#263597" transform="rotate(-14 90.8 160.2)"/>
<ellipse cx="113.2" cy="181.5" rx="2.1" ry="0.9" fill="#2A56A8" transform="rotate(-8 113.2 181.5)"/>
<ellipse cx="113.4" cy="191.8" rx="3.1" ry="1.1" fill="#2A56A8" transform="rotate(-14 113.4 191.8)"/>
<ellipse cx="78.8" cy="160.2" rx="1.6" ry="0.7" fill="#2A56A8" transform="rotate(-5 78.8 160.2)"/>
<ellipse cx="120.9" cy="174.9" rx="1.9" ry="1.3" fill="#2A56A8" transform="rotate(-11 120.9 174.9)"/>
<ellipse cx="97.9" cy="142.0" rx="2.6" ry="1.7" fill="#263597" transform="rotate(-4 97.9 142.0)"/>
<ellipse cx="96.3" cy="191.8" rx="2.5" ry="1.7" fill="#2A56A8" transform="rotate(-1 96.3 191.8)"/>
<ellipse cx="76.3" cy="184.6" rx="3.9" ry="2.5" fill="#263597" transform="rotate(-16 76.3 184.6)"/>
<ellipse cx="79.9" cy="182.3" rx="2.4" ry="1.0" fill="#2A56A8" transform="rotate(-6 79.9 182.3)"/>
<ellipse cx="126.3" cy="173.7" rx="3.4" ry="1.2" fill="#2A56A8" transform="rotate(-1 126.3 173.7)"/>
<ellipse cx="85.1" cy="167.0" rx="2.7" ry="1.6" fill="#2A56A8" transform="rotate(-3 85.1 167.0)"/>
<ellipse cx="114.6" cy="168.7" rx="2.4" ry="1.3" fill="#263597" transform="rotate(-18 114.6 168.7)"/>
<ellipse cx="102.3" cy="149.7" rx="2.1" ry="0.9" fill="#263597" transform="rotate(4 102.3 149.7)"/>
<ellipse cx="124.4" cy="152.9" rx="1.2" ry="0.4" fill="#263597" transform="rotate(-19 124.4 152.9)"/>
<ellipse cx="99.3" cy="152.4" rx="1.6" ry="0.7" fill="#2A56A8" transform="rotate(-8 99.3 152.4)"/>
<ellipse cx="98.8" cy="172.3" rx="3.2" ry="2.1" fill="#263597" transform="rotate(-15 98.8 172.3)"/>
<ellipse cx="81.1" cy="152.6" rx="3.9" ry="2.1" fill="#263597" transform="rotate(10 81.1 152.6)"/>
<ellipse cx="120.0" cy="153.1" rx="3.9" ry="2.6" fill="#263597" transform="rotate(-22 120.0 153.1)"/>
<ellipse cx="135.9" cy="163.9" rx="1.4" ry="0.6" fill="#2A56A8" transform="rotate(-13 135.9 163.9)"/>
<ellipse cx="97.2" cy="180.4" rx="2.6" ry="0.9" fill="#263597" transform="rotate(-2 97.2 180.4)"/>
<ellipse cx="107.3" cy="146.8" rx="2.8" ry="1.1" fill="#263597" transform="rotate(2 107.3 146.8)"/>
<ellipse cx="77.0" cy="157.7" rx="1.7" ry="1.1" fill="#2A56A8" transform="rotate(-5 77.0 157.7)"/>
<ellipse cx="107.8" cy="166.4" rx="2.0" ry="1.4" fill="#263597" transform="rotate(-21 107.8 166.4)"/>
<ellipse cx="117.3" cy="200.3" rx="3.5" ry="1.8" fill="#263597" transform="rotate(-22 117.3 200.3)"/>
<ellipse cx="87.5" cy="143.0" rx="3.1" ry="1.2" fill="#263597" transform="rotate(-16 87.5 143.0)"/>
<ellipse cx="101.9" cy="152.8" rx="1.8" ry="1.0" fill="#263597" transform="rotate(5 101.9 152.8)"/>
<ellipse cx="67.4" cy="169.9" rx="2.6" ry="1.1" fill="#263597" transform="rotate(-17 67.4 169.9)"/>
<ellipse cx="70.4" cy="175.9" rx="3.1" ry="1.7" fill="#2A56A8" transform="rotate(-6 70.4 175.9)"/>
<ellipse cx="126.8" cy="154.7" rx="3.2" ry="2.1" fill="#263597" transform="rotate(-1 126.8 154.7)"/>
<ellipse cx="111.0" cy="141.3" rx="3.5" ry="1.8" fill="#263597" transform="rotate(-23 111.0 141.3)"/>
<ellipse cx="103.4" cy="179.3" rx="2.9" ry="1.8" fill="#2A56A8" transform="rotate(9 103.4 179.3)"/>
<ellipse cx="72.6" cy="163.5" rx="2.4" ry="0.8" fill="#263597" transform="rotate(-1 72.6 163.5)"/>
<ellipse cx="135.7" cy="154.8" rx="3.0" ry="1.4" fill="#263597" transform="rotate(-21 135.7 154.8)"/>
<ellipse cx="121.2" cy="187.5" rx="3.0" ry="1.8" fill="#263597" transform="rotate(-15 121.2 187.5)"/>
<ellipse cx="113.3" cy="160.2" rx="3.2" ry="2.0" fill="#263597" transform="rotate(4 113.3 160.2)"/>
<ellipse cx="136.2" cy="146.8" rx="3.7" ry="2.3" fill="#263597" transform="rotate(3 136.2 146.8)"/>
<ellipse cx="133.5" cy="186.1" rx="2.5" ry="0.8" fill="#2A56A8" transform="rotate(-12 133.5 186.1)"/>
<ellipse cx="130.6" cy="192.5" rx="3.7" ry="1.2" fill="#2A56A8" transform="rotate(-17 130.6 192.5)"/>
<ellipse cx="78.5" cy="178.2" rx="3.2" ry="1.3" fill="#263597" transform="rotate(-11 78.5 178.2)"/>
<ellipse cx="120.3" cy="197.2" rx="3.9" ry="2.2" fill="#263597" transform="rotate(-15 120.3 197.2)"/>
<ellipse cx="116.8" cy="178.7" rx="2.8" ry="1.5" fill="#263597" transform="rotate(-23 116.8 178.7)"/>
<ellipse cx="105.3" cy="179.0" rx="2.1" ry="1.1" fill="#263597" transform="rotate(-1 105.3 179.0)"/>
<ellipse cx="117.0" cy="162.8" rx="3.4" ry="1.4" fill="#2A56A8" transform="rotate(6 117.0 162.8)"/>
<ellipse cx="75.7" cy="176.2" rx="2.7" ry="1.7" fill="#263597" transform="rotate(-1 75.7 176.2)"/>
<ellipse cx="136.6" cy="165.3" rx="3.9" ry="1.3" fill="#263597" transform="rotate(2 136.6 165.3)"/>
<ellipse cx="130.8" cy="156.6" rx="3.0" ry="1.5" fill="#2A56A8" transform="rotate(7 130.8 156.6)"/>
<ellipse cx="132.8" cy="184.4" rx="3.9" ry="1.4" fill="#263597" transform="rotate(9 132.8 184.4)"/>
<ellipse cx="71.7" cy="170.7" rx="2.6" ry="1.6" fill="#263597" transform="rotate(-18 71.7 170.7)"/>
<ellipse cx="147.9" cy="159.3" rx="2.9" ry="1.3" fill="#2A56A8" transform="rotate(1 147.9 159.3)"/>
<ellipse cx="91.7" cy="189.3" rx="2.6" ry="1.5" fill="#2A56A8" transform="rotate(-5 91.7 189.3)"/>
<ellipse cx="99.2" cy="169.7" rx="1.5" ry="0.7" fill="#263597" transform="rotate(-12 99.2 169.7)"/>
<ellipse cx="134.0" cy="154.6" rx="2.3" ry="1.3" fill="#263597" transform="rotate(-19 134.0 154.6)"/>
<ellipse cx="103.1" cy="162.7" rx="3.8" ry="2.1" fill="#2A56A8" transform="rotate(-6 103.1 162.7)"/>
<ellipse cx="128.5" cy="163.6" rx="2.7" ry="1.2" fill="#263597" transform="rotate(-2 128.5 163.6)"/>
<ellipse cx="127.5" cy="178.8" rx="3.1" ry="1.5" fill="#263597" transform="rotate(-15 127.5 178.8)"/>
<ellipse cx="102.7" cy="169.0" rx="2.6" ry="1.8" fill="#2A56A8" transform="rotate(10 102.7 169.0)"/>
<ellipse cx="66.1" cy="168.2" rx="2.2" ry="0.7" fill="#263597" transform="rotate(-5 66.1 168.2)"/>
<ellipse cx="110.4" cy="168.0" rx="4.0" ry="1.7" fill="#263597" transform="rotate(-12 110.4 168.0)"/>
<ellipse cx="74.6" cy="159.8" rx="3.6" ry="1.3" fill="#263597" transform="rotate(-13 74.6 159.8)"/>
<ellipse cx="88.7" cy="143.8" rx="1.5" ry="0.7" fill="#263597" transform="rotate(4 88.7 143.8)"/>
<ellipse cx="83.4" cy="149.0" rx="3.2" ry="1.5" fill="#263597" transform="rotate(-21 83.4 149.0)"/>
<ellipse cx="89.3" cy="144.3" rx="3.3" ry="1.5" fill="#2A56A8" transform="rotate(1 89.3 144.3)"/>
<ellipse cx="76.1" cy="169.3" rx="2.0" ry="1.1" fill="#263597" transform="rotate(-20 76.1 169.3)"/>
<ellipse cx="118.0" cy="169.0" rx="1.8" ry="0.6" fill="#2A56A8" transform="rotate(-9 118.0 169.0)"/>
<ellipse cx="107.1" cy="181.5" rx="1.9" ry="0.7" fill="#2A56A8" transform="rotate(-13 107.1 181.5)"/>
<ellipse cx="115.9" cy="154.7" rx="1.3" ry="0.9" fill="#263597" transform="rotate(-3 115.9 154.7)"/>
<ellipse cx="132.7" cy="161.5" rx="2.8" ry="1.6" fill="#263597" transform="rotate(-15 132.7 161.5)"/>
<ellipse cx="131.1" cy="158.0" rx="2.6" ry="0.9" fill="#2A56A8" transform="rotate(4 131.1 158.0)"/>
<ellipse cx="79.0" cy="140.2" rx="3.9" ry="1.9" fill="#263597" transform="rotate(-1 79.0 140.2)"/>
<ellipse cx="122.4" cy="185.7" rx="2.9" ry="1.0" fill="#263597" transform="rotate(-15 122.4 185.7)"/>
<ellipse cx="128.9" cy="179.0" rx="1.3" ry="0.7" fill="#263597" transform="rotate(-1 128.9 179.0)"/>
<ellipse cx="87.5" cy="149.5" rx="1.9" ry="1.3" fill="#2A56A8" transform="rotate(8 87.5 149.5)"/>
<ellipse cx="124.1" cy="165.6" rx="3.1" ry="1.4" fill="#263597" transform="rotate(-23 124.1 165.6)"/>
<ellipse cx="138.5" cy="143.3" rx="3.6" ry="2.3" fill="#263597" transform="rotate(-24 138.5 143.3)"/>
<ellipse cx="112.5" cy="170.1" rx="3.3" ry="1.9" fill="#263597" transform="rotate(5 112.5 170.1)"/>
<ellipse cx="115.3" cy="198.5" rx="3.7" ry="1.4" fill="#2A56A8" transform="rotate(1 115.3 198.5)"/>
<ellipse cx="100.3" cy="141.7" rx="3.5" ry="1.5" fill="#263597" transform="rotate(-7 100.3 141.7)"/>
<ellipse cx="92.0" cy="184.7" rx="4.0" ry="2.2" fill="#263597" transform="rotate(-3 92.0 184.7)"/>
<ellipse cx="154.5" cy="167.5" rx="2.9" ry="1.8" fill="#2A56A8" transform="rotate(2 154.5 167.5)"/>
<ellipse cx="170.8" cy="191.1" rx="1.9" ry="0.7" fill="#2E98C2" transform="rotate(-16 170.8 191.1)"/>
<ellipse cx="196.9" cy="175.7" rx="2.6" ry="1.1" fill="#2E98C2" transform="rotate(24 196.9 175.7)"/>
<ellipse cx="208.0" cy="192.4" rx="2.9" ry="0.9" fill="#2E98C2" transform="rotate(-16 208.0 192.4)"/>
<ellipse cx="167.4" cy="162.3" rx="2.6" ry="2.0" fill="#2E98C2" transform="rotate(21 167.4 162.3)"/>
<ellipse cx="204.4" cy="199.8" rx="1.8" ry="1.0" fill="#2E98C2" transform="rotate(-28 204.4 199.8)"/>
<ellipse cx="207.8" cy="202.6" rx="3.9" ry="2.3" fill="#2D7DB9" transform="rotate(8 207.8 202.6)"/>
<ellipse cx="184.8" cy="179.0" rx="2.1" ry="1.5" fill="#2D7DB9" transform="rotate(24 184.8 179.0)"/>
<ellipse cx="169.4" cy="182.8" rx="3.1" ry="1.6" fill="#2D7DB9" transform="rotate(-0 169.4 182.8)"/>
<ellipse cx="162.2" cy="172.6" rx="2.9" ry="1.1" fill="#2E98C2" transform="rotate(1 162.2 172.6)"/>
<ellipse cx="220.6" cy="176.8" rx="2.6" ry="1.0" fill="#2A56A8" transform="rotate(10 220.6 176.8)"/>
<ellipse cx="162.0" cy="161.6" rx="3.1" ry="1.4" fill="#2E98C2" transform="rotate(-0 162.0 161.6)"/>
<ellipse cx="165.6" cy="181.2" rx="2.2" ry="0.9" fill="#2E98C2" transform="rotate(2 165.6 181.2)"/>
<ellipse cx="170.1" cy="179.2" rx="3.3" ry="2.0" fill="#2E98C2" transform="rotate(16 170.1 179.2)"/>
<ellipse cx="177.9" cy="179.8" rx="1.5" ry="0.6" fill="#2E98C2" transform="rotate(-0 177.9 179.8)"/>
<ellipse cx="182.2" cy="191.8" rx="1.8" ry="0.7" fill="#2A56A8" transform="rotate(8 182.2 191.8)"/>
<ellipse cx="171.6" cy="184.1" rx="3.9" ry="2.8" fill="#2E98C2" transform="rotate(24 171.6 184.1)"/>
<ellipse cx="165.0" cy="165.0" rx="1.7" ry="0.8" fill="#2A56A8" transform="rotate(17 165.0 165.0)"/>
<ellipse cx="168.6" cy="183.5" rx="3.5" ry="2.6" fill="#2E98C2" transform="rotate(20 168.6 183.5)"/>
<ellipse cx="177.2" cy="168.4" rx="4.3" ry="3.1" fill="#2D7DB9" transform="rotate(24 177.2 168.4)"/>
<ellipse cx="170.1" cy="185.8" rx="2.5" ry="1.7" fill="#2E98C2" transform="rotate(3 170.1 185.8)"/>
<ellipse cx="212.5" cy="180.6" rx="2.3" ry="1.6" fill="#2D7DB9" transform="rotate(-8 212.5 180.6)"/>
<ellipse cx="208.9" cy="179.3" rx="4.1" ry="3.1" fill="#2D7DB9" transform="rotate(-10 208.9 179.3)"/>
<ellipse cx="199.5" cy="203.0" rx="3.9" ry="2.7" fill="#2D7DB9" transform="rotate(-29 199.5 203.0)"/>
<ellipse cx="189.7" cy="188.7" rx="1.9" ry="1.2" fill="#2A56A8" transform="rotate(-11 189.7 188.7)"/>
<ellipse cx="207.3" cy="196.9" rx="2.2" ry="1.7" fill="#2E98C2" transform="rotate(14 207.3 196.9)"/>
<ellipse cx="218.6" cy="173.0" rx="3.7" ry="1.4" fill="#2E98C2" transform="rotate(4 218.6 173.0)"/>
<ellipse cx="194.5" cy="174.1" rx="1.9" ry="1.1" fill="#2D7DB9" transform="rotate(-22 194.5 174.1)"/>
<ellipse cx="178.4" cy="164.3" rx="3.4" ry="2.1" fill="#2E98C2" transform="rotate(0 178.4 164.3)"/>
<ellipse cx="217.2" cy="177.7" rx="3.8" ry="1.9" fill="#2D7DB9" transform="rotate(25 217.2 177.7)"/>
<ellipse cx="164.3" cy="180.1" rx="2.9" ry="1.6" fill="#2A56A8" transform="rotate(-28 164.3 180.1)"/>
<ellipse cx="216.7" cy="174.4" rx="4.5" ry="2.3" fill="#2E98C2" transform="rotate(-14 216.7 174.4)"/>
<ellipse cx="168.7" cy="192.8" rx="1.9" ry="0.8" fill="#2E98C2" transform="rotate(-10 168.7 192.8)"/>
<ellipse cx="172.4" cy="179.8" rx="3.8" ry="2.8" fill="#2D7DB9" transform="rotate(-26 172.4 179.8)"/>
<ellipse cx="212.0" cy="173.3" rx="2.3" ry="0.9" fill="#2E98C2" transform="rotate(19 212.0 173.3)"/>
<ellipse cx="222.7" cy="178.3" rx="4.0" ry="3.1" fill="#2A56A8" transform="rotate(20 222.7 178.3)"/>
<ellipse cx="162.5" cy="160.2" rx="4.0" ry="1.3" fill="#2A56A8" transform="rotate(-25 162.5 160.2)"/>
<ellipse cx="171.6" cy="170.2" rx="3.9" ry="2.8" fill="#2A56A8" transform="rotate(-18 171.6 170.2)"/>
<ellipse cx="164.3" cy="167.2" rx="1.5" ry="0.5" fill="#2E98C2" transform="rotate(0 164.3 167.2)"/>
<ellipse cx="203.5" cy="176.5" rx="4.1" ry="1.6" fill="#2A56A8" transform="rotate(-21 203.5 176.5)"/>
<ellipse cx="154.3" cy="170.3" rx="2.4" ry="0.8" fill="#2A56A8" transform="rotate(28 154.3 170.3)"/>
<ellipse cx="184.9" cy="183.4" rx="3.2" ry="2.3" fill="#2E98C2" transform="rotate(-25 184.9 183.4)"/>
<ellipse cx="206.4" cy="188.3" rx="3.4" ry="2.0" fill="#2E98C2" transform="rotate(21 206.4 188.3)"/>
<ellipse cx="216.4" cy="200.6" rx="2.8" ry="1.9" fill="#2E98C2" transform="rotate(9 216.4 200.6)"/>
<ellipse cx="179.4" cy="190.6" rx="3.8" ry="1.8" fill="#2A56A8" transform="rotate(21 179.4 190.6)"/>
<ellipse cx="174.0" cy="168.6" rx="2.1" ry="1.2" fill="#2D7DB9" transform="rotate(-3 174.0 168.6)"/>
<ellipse cx="185.0" cy="190.6" rx="3.8" ry="1.4" fill="#2D7DB9" transform="rotate(20 185.0 190.6)"/>
<ellipse cx="165.0" cy="176.9" rx="2.2" ry="1.6" fill="#2E98C2" transform="rotate(-18 165.0 176.9)"/>
<ellipse cx="188.0" cy="191.2" rx="3.7" ry="2.9" fill="#2D7DB9" transform="rotate(-9 188.0 191.2)"/>
<ellipse cx="172.4" cy="186.7" rx="2.5" ry="1.1" fill="#2D7DB9" transform="rotate(-10 172.4 186.7)"/>
<ellipse cx="177.6" cy="168.0" rx="3.2" ry="1.0" fill="#2D7DB9" transform="rotate(-8 177.6 168.0)"/>
<ellipse cx="177.1" cy="175.0" rx="1.8" ry="1.0" fill="#2A56A8" transform="rotate(15 177.1 175.0)"/>
<ellipse cx="195.0" cy="176.2" rx="3.6" ry="2.2" fill="#2A56A8" transform="rotate(-13 195.0 176.2)"/>
<ellipse cx="172.4" cy="187.1" rx="1.5" ry="0.9" fill="#2E98C2" transform="rotate(-2 172.4 187.1)"/>
<ellipse cx="161.1" cy="184.4" rx="4.4" ry="3.4" fill="#2A56A8" transform="rotate(-11 161.1 184.4)"/>
<ellipse cx="175.1" cy="178.6" rx="2.7" ry="2.1" fill="#2D7DB9" transform="rotate(-14 175.1 178.6)"/>
<ellipse cx="202.5" cy="196.5" rx="4.5" ry="3.0" fill="#2E98C2" transform="rotate(2 202.5 196.5)"/>
<ellipse cx="207.1" cy="185.6" rx="1.7" ry="1.2" fill="#2D7DB9" transform="rotate(-20 207.1 185.6)"/>
<ellipse cx="205.9" cy="202.0" rx="2.5" ry="1.9" fill="#2D7DB9" transform="rotate(12 205.9 202.0)"/>
<ellipse cx="176.7" cy="168.0" rx="2.5" ry="1.8" fill="#2A56A8" transform="rotate(9 176.7 168.0)"/>
<path d="M140.0,130.0 156.0,127.0 168.0,130.0 176.0,138.0 178.0,150.0 170.0,153.0 156.0,148.0 146.0,140.0Z" fill="#6CC5B4"/>
<path d="M146.0,131.0 160.0,130.0 168.0,134.0 172.0,142.0 170.0,150.0 160.0,146.0 150.0,139.0Z" fill="#A9DDBB"/>
<path d="M196.0,162.0 214.0,160.0 226.0,168.0 228.0,186.0 224.0,200.0 216.0,210.0 206.0,214.0 200.0,204.0 204.0,190.0 200.0,176.0Z" fill="#2D7DB9"/>
<ellipse cx="211.5" cy="198.3" rx="2.9" ry="2.4" fill="#45B7C6" transform="rotate(-17 211.5 198.3)"/>
<ellipse cx="216.9" cy="202.9" rx="2.9" ry="1.5" fill="#45B7C6" transform="rotate(-22 216.9 202.9)"/>
<ellipse cx="205.9" cy="190.2" rx="3.1" ry="2.3" fill="#45B7C6" transform="rotate(17 205.9 190.2)"/>
<ellipse cx="217.1" cy="189.1" rx="2.4" ry="1.2" fill="#2A56A8" transform="rotate(0 217.1 189.1)"/>
<ellipse cx="211.5" cy="199.7" rx="3.2" ry="2.8" fill="#45B7C6" transform="rotate(17 211.5 199.7)"/>
<ellipse cx="220.9" cy="198.4" rx="2.8" ry="1.4" fill="#2E98C2" transform="rotate(17 220.9 198.4)"/>
<ellipse cx="206.7" cy="197.2" rx="3.2" ry="3.0" fill="#45B7C6" transform="rotate(-14 206.7 197.2)"/>
<ellipse cx="201.0" cy="171.4" rx="1.4" ry="0.9" fill="#2E98C2" transform="rotate(-9 201.0 171.4)"/>
<ellipse cx="211.8" cy="163.0" rx="1.7" ry="1.4" fill="#45B7C6" transform="rotate(-27 211.8 163.0)"/>
<ellipse cx="219.6" cy="166.6" rx="2.3" ry="1.1" fill="#45B7C6" transform="rotate(-4 219.6 166.6)"/>
<ellipse cx="212.7" cy="184.8" rx="3.0" ry="2.9" fill="#2A56A8" transform="rotate(23 212.7 184.8)"/>
<ellipse cx="209.6" cy="182.6" rx="2.0" ry="1.6" fill="#2E98C2" transform="rotate(15 209.6 182.6)"/>
<ellipse cx="219.8" cy="205.2" rx="2.4" ry="1.6" fill="#2E98C2" transform="rotate(-6 219.8 205.2)"/>
<ellipse cx="209.7" cy="192.7" rx="1.4" ry="1.2" fill="#2A56A8" transform="rotate(10 209.7 192.7)"/>
<ellipse cx="217.6" cy="201.0" rx="1.7" ry="1.4" fill="#45B7C6" transform="rotate(11 217.6 201.0)"/>
<ellipse cx="225.7" cy="192.0" rx="2.5" ry="1.6" fill="#45B7C6" transform="rotate(-16 225.7 192.0)"/>
<ellipse cx="204.7" cy="184.6" rx="1.6" ry="1.4" fill="#2A56A8" transform="rotate(24 204.7 184.6)"/>
<ellipse cx="215.4" cy="171.0" rx="2.5" ry="1.2" fill="#45B7C6" transform="rotate(15 215.4 171.0)"/>
<ellipse cx="208.0" cy="177.5" rx="3.2" ry="2.1" fill="#2A56A8" transform="rotate(-27 208.0 177.5)"/>
<ellipse cx="218.4" cy="186.5" rx="3.4" ry="2.1" fill="#45B7C6" transform="rotate(-19 218.4 186.5)"/>
<ellipse cx="212.9" cy="173.5" rx="2.0" ry="1.3" fill="#45B7C6" transform="rotate(5 212.9 173.5)"/>
<ellipse cx="209.8" cy="204.9" rx="3.3" ry="3.2" fill="#2A56A8" transform="rotate(-27 209.8 204.9)"/>
<ellipse cx="225.3" cy="187.9" rx="1.9" ry="1.4" fill="#2E98C2" transform="rotate(-18 225.3 187.9)"/>
<ellipse cx="203.7" cy="188.8" rx="1.6" ry="0.9" fill="#45B7C6" transform="rotate(-24 203.7 188.8)"/>
<ellipse cx="221.3" cy="172.1" rx="2.4" ry="2.4" fill="#2A56A8" transform="rotate(-23 221.3 172.1)"/>
<ellipse cx="211.1" cy="201.4" rx="1.5" ry="1.0" fill="#2A56A8" transform="rotate(7 211.1 201.4)"/>
<ellipse cx="211.4" cy="189.1" rx="1.7" ry="0.7" fill="#2A56A8" transform="rotate(-3 211.4 189.1)"/>
<ellipse cx="210.1" cy="180.5" rx="3.0" ry="2.3" fill="#45B7C6" transform="rotate(11 210.1 180.5)"/>
<ellipse cx="204.8" cy="183.3" rx="1.7" ry="1.3" fill="#2E98C2" transform="rotate(-1 204.8 183.3)"/>
<ellipse cx="218.9" cy="167.1" rx="2.8" ry="1.4" fill="#2E98C2" transform="rotate(6 218.9 167.1)"/>
<path d="M140.0,220.0 160.0,212.0 175.0,210.0 186.0,214.0 190.0,226.0 172.0,226.0 156.0,232.0 142.0,230.0Z" fill="#45B7C6"/>
<ellipse cx="169.9" cy="212.8" rx="1.3" ry="0.9" fill="#6CC5B4" transform="rotate(4 169.9 212.8)"/>
<ellipse cx="165.9" cy="214.5" rx="1.8" ry="1.1" fill="#2E98C2" transform="rotate(6 165.9 214.5)"/>
<ellipse cx="174.0" cy="217.5" rx="2.2" ry="1.2" fill="#6CC5B4" transform="rotate(25 174.0 217.5)"/>
<ellipse cx="145.5" cy="224.5" rx="2.9" ry="1.3" fill="#6CC5B4" transform="rotate(22 145.5 224.5)"/>
<ellipse cx="148.1" cy="221.0" rx="1.7" ry="0.8" fill="#2E98C2" transform="rotate(-30 148.1 221.0)"/>
<ellipse cx="145.3" cy="229.0" rx="1.8" ry="1.3" fill="#2E98C2" transform="rotate(5 145.3 229.0)"/>
<ellipse cx="168.8" cy="214.1" rx="3.0" ry="1.9" fill="#2E98C2" transform="rotate(8 168.8 214.1)"/>
<ellipse cx="151.5" cy="222.3" rx="2.8" ry="2.1" fill="#2E98C2" transform="rotate(7 151.5 222.3)"/>
<ellipse cx="178.3" cy="223.7" rx="1.2" ry="0.9" fill="#2E98C2" transform="rotate(13 178.3 223.7)"/>
<ellipse cx="180.6" cy="217.5" rx="2.5" ry="2.2" fill="#6CC5B4" transform="rotate(-8 180.6 217.5)"/>
<ellipse cx="177.4" cy="225.0" rx="2.3" ry="2.2" fill="#2E98C2" transform="rotate(-22 177.4 225.0)"/>
<ellipse cx="141.6" cy="224.5" rx="1.3" ry="1.2" fill="#6CC5B4" transform="rotate(8 141.6 224.5)"/>
<ellipse cx="152.3" cy="225.0" rx="2.6" ry="2.3" fill="#6CC5B4" transform="rotate(17 152.3 225.0)"/>
<ellipse cx="168.4" cy="213.6" rx="2.3" ry="2.0" fill="#6CC5B4" transform="rotate(14 168.4 213.6)"/>
<ellipse cx="162.7" cy="214.0" rx="2.9" ry="2.5" fill="#2E98C2" transform="rotate(13 162.7 214.0)"/>
<path d="M188.0,214.0 200.0,212.0 214.0,210.0 226.0,204.0 236.0,214.0 244.0,226.0 252.0,240.0 250.0,256.0 244.0,270.0 230.0,274.0 212.0,276.0 200.0,282.0 188.0,272.0 178.0,262.0 184.0,246.0 190.0,234.0Z" fill="#45B7C6"/>
<path d="M188.0,214.0 204.0,212.0 218.0,210.0 222.0,222.0 216.0,236.0 210.0,248.0 200.0,258.0 190.0,250.0 186.0,236.0Z" fill="#2D7DB9"/>
<path d="M192.0,212.0 206.0,210.0 214.0,214.0 208.0,224.0 198.0,230.0 192.0,224.0Z" fill="#2A56A8"/>
<path d="M204.0,240.0 216.0,236.0 226.0,242.0 230.0,254.0 222.0,260.0 210.0,258.0Z" fill="#6CC5B4"/>
<path d="M226.0,226.0 240.0,232.0 250.0,248.0 242.0,258.0 232.0,248.0Z" fill="#2E98C2"/>
<path d="M186.0,248.0 198.0,252.0 204.0,266.0 196.0,274.0 188.0,266.0Z" fill="#2E98C2"/>
<ellipse cx="203.9" cy="231.2" rx="1.9" ry="0.8" fill="#2D7DB9" transform="rotate(19 203.9 231.2)"/>
<ellipse cx="197.4" cy="219.2" rx="1.6" ry="0.9" fill="#45B7C6" transform="rotate(-15 197.4 219.2)"/>
<ellipse cx="197.2" cy="235.6" rx="2.3" ry="1.9" fill="#2E98C2" transform="rotate(-29 197.2 235.6)"/>
<ellipse cx="221.3" cy="232.3" rx="1.3" ry="1.0" fill="#2D7DB9" transform="rotate(-13 221.3 232.3)"/>
<ellipse cx="232.1" cy="268.6" rx="2.0" ry="1.2" fill="#45B7C6" transform="rotate(-1 232.1 268.6)"/>
<ellipse cx="233.7" cy="239.4" rx="2.1" ry="2.0" fill="#2E98C2" transform="rotate(10 233.7 239.4)"/>
<ellipse cx="214.1" cy="213.7" rx="1.7" ry="1.1" fill="#45B7C6" transform="rotate(2 214.1 213.7)"/>
<ellipse cx="198.0" cy="244.5" rx="1.4" ry="1.2" fill="#2D7DB9" transform="rotate(16 198.0 244.5)"/>
<ellipse cx="192.3" cy="238.8" rx="1.0" ry="0.5" fill="#2D7DB9" transform="rotate(25 192.3 238.8)"/>
<ellipse cx="200.9" cy="266.2" rx="1.7" ry="0.9" fill="#6CC5B4" transform="rotate(23 200.9 266.2)"/>
<ellipse cx="201.4" cy="231.9" rx="1.0" ry="0.8" fill="#2E98C2" transform="rotate(-27 201.4 231.9)"/>
<ellipse cx="244.8" cy="234.4" rx="0.9" ry="0.5" fill="#2D7DB9" transform="rotate(-26 244.8 234.4)"/>
<ellipse cx="203.4" cy="214.1" rx="1.6" ry="1.5" fill="#45B7C6" transform="rotate(-14 203.4 214.1)"/>
<ellipse cx="226.2" cy="253.2" rx="1.6" ry="0.7" fill="#6CC5B4" transform="rotate(22 226.2 253.2)"/>
<ellipse cx="209.4" cy="265.5" rx="1.8" ry="1.6" fill="#2E98C2" transform="rotate(-21 209.4 265.5)"/>
<ellipse cx="192.0" cy="249.8" rx="1.4" ry="0.8" fill="#2E98C2" transform="rotate(-19 192.0 249.8)"/>
<ellipse cx="220.4" cy="218.4" rx="2.2" ry="2.0" fill="#2D7DB9" transform="rotate(6 220.4 218.4)"/>
<ellipse cx="216.9" cy="232.4" rx="2.1" ry="1.0" fill="#2E98C2" transform="rotate(8 216.9 232.4)"/>
<ellipse cx="213.4" cy="220.3" rx="1.7" ry="1.1" fill="#2E98C2" transform="rotate(11 213.4 220.3)"/>
<ellipse cx="212.2" cy="243.0" rx="0.9" ry="0.9" fill="#2E98C2" transform="rotate(-6 212.2 243.0)"/>
<ellipse cx="188.1" cy="256.4" rx="1.9" ry="1.7" fill="#2E98C2" transform="rotate(20 188.1 256.4)"/>
<ellipse cx="214.1" cy="213.3" rx="1.2" ry="0.7" fill="#2E98C2" transform="rotate(29 214.1 213.3)"/>
<ellipse cx="236.5" cy="262.6" rx="1.5" ry="1.2" fill="#2E98C2" transform="rotate(-9 236.5 262.6)"/>
<ellipse cx="210.0" cy="232.4" rx="2.1" ry="1.7" fill="#2D7DB9" transform="rotate(28 210.0 232.4)"/>
<ellipse cx="222.2" cy="220.1" rx="1.7" ry="1.0" fill="#45B7C6" transform="rotate(18 222.2 220.1)"/>
<ellipse cx="185.6" cy="254.6" rx="2.0" ry="1.7" fill="#2E98C2" transform="rotate(15 185.6 254.6)"/>
<ellipse cx="226.2" cy="253.5" rx="1.8" ry="1.3" fill="#2E98C2" transform="rotate(-5 226.2 253.5)"/>
<ellipse cx="216.1" cy="212.7" rx="1.7" ry="0.8" fill="#45B7C6" transform="rotate(6 216.1 212.7)"/>
<ellipse cx="222.8" cy="268.3" rx="2.3" ry="1.3" fill="#45B7C6" transform="rotate(15 222.8 268.3)"/>
<ellipse cx="211.7" cy="240.1" rx="2.2" ry="1.0" fill="#2D7DB9" transform="rotate(22 211.7 240.1)"/>
<ellipse cx="197.2" cy="248.9" rx="2.6" ry="1.6" fill="#2D7DB9" transform="rotate(-22 197.2 248.9)"/>
<ellipse cx="217.6" cy="221.6" rx="1.8" ry="1.1" fill="#45B7C6" transform="rotate(20 217.6 221.6)"/>
<ellipse cx="206.8" cy="263.3" rx="1.9" ry="0.9" fill="#2D7DB9" transform="rotate(26 206.8 263.3)"/>
<ellipse cx="233.6" cy="237.2" rx="1.7" ry="0.8" fill="#2D7DB9" transform="rotate(17 233.6 237.2)"/>
<ellipse cx="241.5" cy="260.6" rx="1.9" ry="0.9" fill="#2D7DB9" transform="rotate(-4 241.5 260.6)"/>
<ellipse cx="225.3" cy="231.8" rx="0.8" ry="0.6" fill="#2D7DB9" transform="rotate(-0 225.3 231.8)"/>
<ellipse cx="244.8" cy="234.2" rx="1.3" ry="0.6" fill="#2D7DB9" transform="rotate(6 244.8 234.2)"/>
<ellipse cx="223.3" cy="260.6" rx="1.0" ry="0.6" fill="#2D7DB9" transform="rotate(-11 223.3 260.6)"/>
<ellipse cx="243.6" cy="255.2" rx="1.4" ry="1.4" fill="#6CC5B4" transform="rotate(5 243.6 255.2)"/>
<ellipse cx="192.6" cy="248.3" rx="1.3" ry="1.2" fill="#2E98C2" transform="rotate(-23 192.6 248.3)"/>
<ellipse cx="206.2" cy="213.0" rx="2.0" ry="1.7" fill="#45B7C6" transform="rotate(-27 206.2 213.0)"/>
<ellipse cx="241.2" cy="265.7" rx="1.4" ry="0.7" fill="#45B7C6" transform="rotate(-18 241.2 265.7)"/>
<ellipse cx="194.0" cy="254.6" rx="2.5" ry="2.1" fill="#2D7DB9" transform="rotate(8 194.0 254.6)"/>
<ellipse cx="215.0" cy="230.6" rx="2.3" ry="1.2" fill="#2E98C2" transform="rotate(8 215.0 230.6)"/>
<ellipse cx="196.1" cy="247.5" rx="2.4" ry="1.4" fill="#2D7DB9" transform="rotate(-26 196.1 247.5)"/>
<ellipse cx="238.4" cy="219.2" rx="2.2" ry="1.6" fill="#2D7DB9" transform="rotate(2 238.4 219.2)"/>
<ellipse cx="218.7" cy="235.2" rx="1.0" ry="0.7" fill="#6CC5B4" transform="rotate(-13 218.7 235.2)"/>
<ellipse cx="230.0" cy="234.7" rx="1.2" ry="1.2" fill="#2E98C2" transform="rotate(-17 230.0 234.7)"/>
<ellipse cx="187.8" cy="247.3" rx="0.9" ry="0.9" fill="#2D7DB9" transform="rotate(-1 187.8 247.3)"/>
<ellipse cx="195.8" cy="263.0" rx="0.9" ry="0.5" fill="#45B7C6" transform="rotate(11 195.8 263.0)"/>
<ellipse cx="210.1" cy="248.2" rx="1.2" ry="1.0" fill="#2D7DB9" transform="rotate(-6 210.1 248.2)"/>
<ellipse cx="211.7" cy="223.3" rx="1.1" ry="0.5" fill="#45B7C6" transform="rotate(-14 211.7 223.3)"/>
<ellipse cx="244.3" cy="250.1" rx="1.8" ry="1.7" fill="#2E98C2" transform="rotate(-24 244.3 250.1)"/>
<ellipse cx="238.7" cy="231.0" rx="1.5" ry="0.8" fill="#45B7C6" transform="rotate(-7 238.7 231.0)"/>
<ellipse cx="206.3" cy="250.5" rx="0.9" ry="0.8" fill="#2D7DB9" transform="rotate(-3 206.3 250.5)"/>
<ellipse cx="215.1" cy="222.5" rx="2.4" ry="1.7" fill="#6CC5B4" transform="rotate(-21 215.1 222.5)"/>
<ellipse cx="202.2" cy="275.5" rx="1.7" ry="1.4" fill="#2E98C2" transform="rotate(-17 202.2 275.5)"/>
<ellipse cx="215.9" cy="224.4" rx="2.4" ry="1.3" fill="#2D7DB9" transform="rotate(3 215.9 224.4)"/>
<ellipse cx="196.7" cy="272.5" rx="2.3" ry="1.9" fill="#2E98C2" transform="rotate(-9 196.7 272.5)"/>
<ellipse cx="239.9" cy="269.1" rx="1.5" ry="1.5" fill="#6CC5B4" transform="rotate(-17 239.9 269.1)"/>
<ellipse cx="218.8" cy="271.9" rx="1.2" ry="1.1" fill="#2D7DB9" transform="rotate(30 218.8 271.9)"/>
<ellipse cx="242.1" cy="267.1" rx="2.3" ry="1.7" fill="#45B7C6" transform="rotate(4 242.1 267.1)"/>
<ellipse cx="199.9" cy="275.4" rx="1.6" ry="1.1" fill="#2E98C2" transform="rotate(8 199.9 275.4)"/>
<ellipse cx="245.1" cy="259.1" rx="0.9" ry="0.4" fill="#2E98C2" transform="rotate(-22 245.1 259.1)"/>
<ellipse cx="231.5" cy="236.8" rx="2.2" ry="1.5" fill="#6CC5B4" transform="rotate(-7 231.5 236.8)"/>
<ellipse cx="246.4" cy="263.4" rx="2.4" ry="1.3" fill="#45B7C6" transform="rotate(-21 246.4 263.4)"/>
<ellipse cx="236.8" cy="230.6" rx="1.4" ry="0.7" fill="#2D7DB9" transform="rotate(18 236.8 230.6)"/>
<ellipse cx="201.4" cy="248.9" rx="1.9" ry="1.5" fill="#45B7C6" transform="rotate(-23 201.4 248.9)"/>
<ellipse cx="199.4" cy="218.8" rx="2.2" ry="1.7" fill="#2D7DB9" transform="rotate(-27 199.4 218.8)"/>
<ellipse cx="223.0" cy="249.7" rx="2.0" ry="1.3" fill="#2D7DB9" transform="rotate(21 223.0 249.7)"/>
<ellipse cx="248.5" cy="259.2" rx="0.9" ry="0.6" fill="#2E98C2" transform="rotate(-5 248.5 259.2)"/>
<ellipse cx="223.3" cy="234.6" rx="2.5" ry="1.3" fill="#2D7DB9" transform="rotate(-29 223.3 234.6)"/>
<ellipse cx="199.3" cy="237.1" rx="2.4" ry="1.2" fill="#6CC5B4" transform="rotate(-17 199.3 237.1)"/>
<ellipse cx="189.0" cy="215.7" rx="2.1" ry="1.6" fill="#2D7DB9" transform="rotate(21 189.0 215.7)"/>
<ellipse cx="196.6" cy="244.9" rx="1.4" ry="1.0" fill="#6CC5B4" transform="rotate(13 196.6 244.9)"/>
<ellipse cx="238.5" cy="263.2" rx="1.7" ry="1.1" fill="#2D7DB9" transform="rotate(-6 238.5 263.2)"/>
<ellipse cx="238.2" cy="227.0" rx="2.1" ry="1.9" fill="#2E98C2" transform="rotate(4 238.2 227.0)"/>
<ellipse cx="222.1" cy="217.1" rx="2.3" ry="1.2" fill="#2E98C2" transform="rotate(15 222.1 217.1)"/>
<ellipse cx="229.1" cy="222.3" rx="2.2" ry="1.1" fill="#2D7DB9" transform="rotate(-7 229.1 222.3)"/>
<ellipse cx="213.6" cy="243.9" rx="1.0" ry="0.4" fill="#6CC5B4" transform="rotate(-28 213.6 243.9)"/>
<ellipse cx="204.6" cy="267.9" rx="1.9" ry="1.6" fill="#2E98C2" transform="rotate(-14 204.6 267.9)"/>
<ellipse cx="193.0" cy="214.7" rx="2.4" ry="1.7" fill="#45B7C6" transform="rotate(11 193.0 214.7)"/>
<ellipse cx="216.3" cy="211.3" rx="2.1" ry="2.0" fill="#45B7C6" transform="rotate(-30 216.3 211.3)"/>
<ellipse cx="184.5" cy="266.6" rx="1.9" ry="1.6" fill="#2E98C2" transform="rotate(-14 184.5 266.6)"/>
<ellipse cx="197.9" cy="244.0" rx="1.4" ry="1.4" fill="#6CC5B4" transform="rotate(21 197.9 244.0)"/>
<ellipse cx="185.2" cy="249.9" rx="1.9" ry="1.4" fill="#45B7C6" transform="rotate(14 185.2 249.9)"/>
<ellipse cx="236.9" cy="248.8" rx="1.3" ry="1.3" fill="#2D7DB9" transform="rotate(5 236.9 248.8)"/>
<ellipse cx="229.2" cy="248.3" rx="0.9" ry="0.5" fill="#2D7DB9" transform="rotate(-19 229.2 248.3)"/>
<ellipse cx="220.8" cy="212.9" rx="2.5" ry="1.5" fill="#45B7C6" transform="rotate(23 220.8 212.9)"/>
<ellipse cx="206.9" cy="214.2" rx="2.2" ry="1.1" fill="#2D7DB9" transform="rotate(22 206.9 214.2)"/>
<ellipse cx="220.3" cy="254.2" rx="0.9" ry="0.5" fill="#2E98C2" transform="rotate(8 220.3 254.2)"/>
<ellipse cx="196.6" cy="255.2" rx="1.2" ry="0.8" fill="#45B7C6" transform="rotate(-19 196.6 255.2)"/>
<ellipse cx="224.8" cy="251.9" rx="1.1" ry="0.7" fill="#2E98C2" transform="rotate(7 224.8 251.9)"/>
<ellipse cx="200.2" cy="242.7" rx="1.8" ry="1.6" fill="#2E98C2" transform="rotate(-11 200.2 242.7)"/>
<ellipse cx="230.4" cy="232.4" rx="2.2" ry="1.0" fill="#2D7DB9" transform="rotate(-15 230.4 232.4)"/>
<ellipse cx="232.7" cy="229.2" rx="0.8" ry="0.6" fill="#2E98C2" transform="rotate(1 232.7 229.2)"/>
<ellipse cx="220.5" cy="220.8" rx="1.6" ry="1.0" fill="#45B7C6" transform="rotate(-12 220.5 220.8)"/>
<ellipse cx="219.6" cy="216.9" rx="1.1" ry="1.0" fill="#2E98C2" transform="rotate(-13 219.6 216.9)"/>
<ellipse cx="235.4" cy="236.1" rx="2.3" ry="1.4" fill="#45B7C6" transform="rotate(-16 235.4 236.1)"/>
<ellipse cx="215.9" cy="218.8" rx="2.1" ry="1.9" fill="#2E98C2" transform="rotate(24 215.9 218.8)"/>
<ellipse cx="224.7" cy="257.0" rx="1.9" ry="1.4" fill="#2E98C2" transform="rotate(6 224.7 257.0)"/>
<ellipse cx="216.7" cy="249.9" rx="1.5" ry="1.1" fill="#6CC5B4" transform="rotate(23 216.7 249.9)"/>
<ellipse cx="204.1" cy="211.9" rx="2.4" ry="1.7" fill="#45B7C6" transform="rotate(-11 204.1 211.9)"/>
<ellipse cx="215.8" cy="270.7" rx="1.9" ry="1.8" fill="#2D7DB9" transform="rotate(29 215.8 270.7)"/>
<ellipse cx="243.3" cy="229.7" rx="1.1" ry="0.9" fill="#45B7C6" transform="rotate(7 243.3 229.7)"/>
<ellipse cx="225.1" cy="249.9" rx="0.9" ry="0.6" fill="#6CC5B4" transform="rotate(-16 225.1 249.9)"/>
<ellipse cx="240.2" cy="224.6" rx="2.3" ry="2.1" fill="#2E98C2" transform="rotate(15 240.2 224.6)"/>
<ellipse cx="214.9" cy="239.5" rx="1.3" ry="0.9" fill="#2E98C2" transform="rotate(4 214.9 239.5)"/>
<ellipse cx="243.5" cy="268.5" rx="1.0" ry="0.7" fill="#2D7DB9" transform="rotate(30 243.5 268.5)"/>
<ellipse cx="247.3" cy="235.1" rx="2.1" ry="1.9" fill="#2D7DB9" transform="rotate(6 247.3 235.1)"/>
<ellipse cx="240.1" cy="263.1" rx="2.5" ry="2.3" fill="#2E98C2" transform="rotate(16 240.1 263.1)"/>
<ellipse cx="191.7" cy="261.0" rx="1.6" ry="1.1" fill="#2D7DB9" transform="rotate(-5 191.7 261.0)"/>
<ellipse cx="244.1" cy="255.3" rx="1.0" ry="0.4" fill="#2D7DB9" transform="rotate(-3 244.1 255.3)"/>
<ellipse cx="210.0" cy="259.7" rx="1.1" ry="0.7" fill="#2E98C2" transform="rotate(3 210.0 259.7)"/>
<ellipse cx="237.9" cy="260.9" rx="2.5" ry="1.5" fill="#2E98C2" transform="rotate(-8 237.9 260.9)"/>
<ellipse cx="237.9" cy="270.2" rx="2.3" ry="1.9" fill="#2D7DB9" transform="rotate(12 237.9 270.2)"/>
<ellipse cx="202.8" cy="276.2" rx="0.9" ry="0.9" fill="#45B7C6" transform="rotate(-12 202.8 276.2)"/>
<ellipse cx="200.9" cy="268.3" rx="1.7" ry="0.8" fill="#45B7C6" transform="rotate(7 200.9 268.3)"/>
<ellipse cx="241.5" cy="256.0" rx="2.5" ry="2.3" fill="#2E98C2" transform="rotate(15 241.5 256.0)"/>
<ellipse cx="194.1" cy="268.4" rx="2.1" ry="1.1" fill="#2E98C2" transform="rotate(-23 194.1 268.4)"/>
<ellipse cx="224.4" cy="215.1" rx="1.6" ry="0.6" fill="#6CC5B4" transform="rotate(-21 224.4 215.1)"/>
<ellipse cx="204.4" cy="279.2" rx="1.1" ry="0.5" fill="#2E98C2" transform="rotate(-5 204.4 279.2)"/>
<ellipse cx="181.1" cy="257.9" rx="1.4" ry="0.7" fill="#2D7DB9" transform="rotate(2 181.1 257.9)"/>
<ellipse cx="209.6" cy="224.7" rx="2.1" ry="0.9" fill="#2D7DB9" transform="rotate(12 209.6 224.7)"/>
<ellipse cx="203.8" cy="235.2" rx="1.4" ry="1.0" fill="#2E98C2" transform="rotate(1 203.8 235.2)"/>
<ellipse cx="195.3" cy="241.1" rx="2.6" ry="2.3" fill="#2D7DB9" transform="rotate(-0 195.3 241.1)"/>
<ellipse cx="217.5" cy="272.3" rx="2.1" ry="1.7" fill="#2D7DB9" transform="rotate(16 217.5 272.3)"/>
<ellipse cx="205.5" cy="266.6" rx="2.5" ry="2.0" fill="#2D7DB9" transform="rotate(5 205.5 266.6)"/>
<ellipse cx="184.3" cy="256.8" rx="1.3" ry="1.1" fill="#2D7DB9" transform="rotate(21 184.3 256.8)"/>
<ellipse cx="233.8" cy="212.1" rx="2.4" ry="2.2" fill="#2E98C2" transform="rotate(20 233.8 212.1)"/>
<ellipse cx="215.2" cy="223.2" rx="1.8" ry="1.8" fill="#2D7DB9" transform="rotate(-26 215.2 223.2)"/>
<ellipse cx="195.9" cy="255.3" rx="0.9" ry="0.8" fill="#2D7DB9" transform="rotate(-12 195.9 255.3)"/>
<ellipse cx="234.1" cy="266.3" rx="2.2" ry="1.1" fill="#2E98C2" transform="rotate(-24 234.1 266.3)"/>
<ellipse cx="211.2" cy="226.0" rx="1.8" ry="1.6" fill="#45B7C6" transform="rotate(-7 211.2 226.0)"/>
<ellipse cx="216.3" cy="269.9" rx="2.6" ry="1.7" fill="#2D7DB9" transform="rotate(23 216.3 269.9)"/>
<ellipse cx="223.8" cy="245.7" rx="2.5" ry="2.2" fill="#2D7DB9" transform="rotate(1 223.8 245.7)"/>
<ellipse cx="242.4" cy="266.0" rx="0.9" ry="0.5" fill="#45B7C6" transform="rotate(-16 242.4 266.0)"/>
<ellipse cx="205.6" cy="255.2" rx="1.3" ry="1.2" fill="#2D7DB9" transform="rotate(-2 205.6 255.2)"/>
<ellipse cx="221.8" cy="216.1" rx="1.4" ry="0.9" fill="#2E98C2" transform="rotate(6 221.8 216.1)"/>
<ellipse cx="224.5" cy="260.6" rx="2.4" ry="1.2" fill="#45B7C6" transform="rotate(27 224.5 260.6)"/>
<ellipse cx="234.9" cy="266.5" rx="1.5" ry="1.5" fill="#6CC5B4" transform="rotate(-25 234.9 266.5)"/>
<ellipse cx="190.3" cy="260.3" rx="0.9" ry="0.7" fill="#2D7DB9" transform="rotate(-13 190.3 260.3)"/>
<ellipse cx="210.8" cy="239.7" rx="1.0" ry="0.8" fill="#2D7DB9" transform="rotate(4 210.8 239.7)"/>
<ellipse cx="228.6" cy="269.9" rx="1.0" ry="0.7" fill="#2E98C2" transform="rotate(-14 228.6 269.9)"/>
<ellipse cx="237.3" cy="239.6" rx="2.6" ry="2.2" fill="#2E98C2" transform="rotate(-5 237.3 239.6)"/>
<ellipse cx="203.1" cy="251.0" rx="2.4" ry="1.1" fill="#6CC5B4" transform="rotate(4 203.1 251.0)"/>
<ellipse cx="235.4" cy="261.0" rx="0.9" ry="0.5" fill="#2E98C2" transform="rotate(10 235.4 261.0)"/>
<ellipse cx="199.8" cy="272.0" rx="1.2" ry="0.7" fill="#2E98C2" transform="rotate(-21 199.8 272.0)"/>
<ellipse cx="231.7" cy="233.5" rx="1.3" ry="0.8" fill="#2D7DB9" transform="rotate(-23 231.7 233.5)"/>
<ellipse cx="242.6" cy="237.2" rx="1.7" ry="0.8" fill="#6CC5B4" transform="rotate(-13 242.6 237.2)"/>
<ellipse cx="235.2" cy="236.5" rx="1.1" ry="1.1" fill="#45B7C6" transform="rotate(-26 235.2 236.5)"/>
<ellipse cx="224.9" cy="250.8" rx="2.2" ry="1.3" fill="#45B7C6" transform="rotate(11 224.9 250.8)"/>
<ellipse cx="190.1" cy="255.3" rx="2.3" ry="1.7" fill="#2D7DB9" transform="rotate(18 190.1 255.3)"/>
<ellipse cx="215.9" cy="243.8" rx="1.9" ry="1.6" fill="#2D7DB9" transform="rotate(29 215.9 243.8)"/>
<ellipse cx="229.7" cy="265.9" rx="1.5" ry="1.5" fill="#45B7C6" transform="rotate(21 229.7 265.9)"/>
<ellipse cx="242.8" cy="245.5" rx="1.8" ry="1.2" fill="#45B7C6" transform="rotate(-25 242.8 245.5)"/>
<ellipse cx="207.2" cy="216.7" rx="1.3" ry="1.2" fill="#45B7C6" transform="rotate(-24 207.2 216.7)"/>
<ellipse cx="196.1" cy="252.1" rx="1.3" ry="1.1" fill="#45B7C6" transform="rotate(-12 196.1 252.1)"/>
<ellipse cx="202.2" cy="246.4" rx="2.5" ry="2.4" fill="#6CC5B4" transform="rotate(-3 202.2 246.4)"/>
<ellipse cx="195.4" cy="236.4" rx="1.6" ry="1.4" fill="#2E98C2" transform="rotate(-17 195.4 236.4)"/>
<ellipse cx="216.8" cy="236.9" rx="2.3" ry="1.2" fill="#45B7C6" transform="rotate(16 216.8 236.9)"/>
<ellipse cx="227.6" cy="224.5" rx="2.2" ry="1.6" fill="#45B7C6" transform="rotate(-14 227.6 224.5)"/>
<ellipse cx="234.1" cy="224.0" rx="2.6" ry="1.3" fill="#2D7DB9" transform="rotate(29 234.1 224.0)"/>
<ellipse cx="233.2" cy="251.0" rx="1.3" ry="0.9" fill="#2D7DB9" transform="rotate(19 233.2 251.0)"/>
<ellipse cx="221.6" cy="226.3" rx="1.8" ry="1.8" fill="#2D7DB9" transform="rotate(22 221.6 226.3)"/>
<ellipse cx="246.9" cy="233.7" rx="1.1" ry="0.8" fill="#2E98C2" transform="rotate(-7 246.9 233.7)"/>
<ellipse cx="193.7" cy="238.2" rx="2.2" ry="0.9" fill="#6CC5B4" transform="rotate(25 193.7 238.2)"/>
<ellipse cx="213.4" cy="238.8" rx="1.7" ry="0.9" fill="#45B7C6" transform="rotate(-12 213.4 238.8)"/>
<ellipse cx="188.9" cy="257.3" rx="1.7" ry="1.3" fill="#2E98C2" transform="rotate(-1 188.9 257.3)"/>
<ellipse cx="193.9" cy="239.7" rx="1.2" ry="0.6" fill="#2E98C2" transform="rotate(6 193.9 239.7)"/>
<ellipse cx="209.7" cy="272.4" rx="1.3" ry="0.9" fill="#45B7C6" transform="rotate(-8 209.7 272.4)"/>
<ellipse cx="210.1" cy="211.7" rx="2.5" ry="1.8" fill="#2D7DB9" transform="rotate(-30 210.1 211.7)"/>
<ellipse cx="241.6" cy="255.0" rx="1.7" ry="1.3" fill="#2E98C2" transform="rotate(-9 241.6 255.0)"/>
<ellipse cx="225.5" cy="209.7" rx="2.6" ry="2.3" fill="#2E98C2" transform="rotate(4 225.5 209.7)"/>
<ellipse cx="203.1" cy="228.1" rx="2.5" ry="1.9" fill="#6CC5B4" transform="rotate(-26 203.1 228.1)"/>
<ellipse cx="201.9" cy="279.5" rx="1.3" ry="1.1" fill="#2D7DB9" transform="rotate(-30 201.9 279.5)"/>
<ellipse cx="213.4" cy="229.7" rx="2.3" ry="1.0" fill="#45B7C6" transform="rotate(19 213.4 229.7)"/>
<ellipse cx="249.0" cy="248.2" rx="1.2" ry="1.0" fill="#2E98C2" transform="rotate(19 249.0 248.2)"/>
<ellipse cx="229.7" cy="233.4" rx="1.9" ry="1.2" fill="#45B7C6" transform="rotate(-22 229.7 233.4)"/>
<ellipse cx="203.4" cy="242.8" rx="1.5" ry="1.0" fill="#2D7DB9" transform="rotate(24 203.4 242.8)"/>
<ellipse cx="201.8" cy="234.9" rx="2.1" ry="1.6" fill="#2D7DB9" transform="rotate(1 201.8 234.9)"/>
<ellipse cx="198.2" cy="263.8" rx="2.1" ry="1.7" fill="#2D7DB9" transform="rotate(14 198.2 263.8)"/>
<ellipse cx="207.4" cy="230.2" rx="2.5" ry="2.4" fill="#2E98C2" transform="rotate(1 207.4 230.2)"/>
<ellipse cx="199.7" cy="245.6" rx="1.0" ry="0.8" fill="#2E98C2" transform="rotate(26 199.7 245.6)"/>
<ellipse cx="207.0" cy="258.3" rx="1.2" ry="1.0" fill="#2E98C2" transform="rotate(-3 207.0 258.3)"/>
<ellipse cx="193.0" cy="237.0" rx="1.0" ry="0.5" fill="#2D7DB9" transform="rotate(28 193.0 237.0)"/>
<ellipse cx="220.0" cy="245.0" rx="1.6" ry="1.3" fill="#2D7DB9" transform="rotate(-22 220.0 245.0)"/>
<ellipse cx="204.4" cy="243.2" rx="1.1" ry="0.5" fill="#45B7C6" transform="rotate(9 204.4 243.2)"/>
<ellipse cx="236.1" cy="241.8" rx="1.9" ry="1.5" fill="#45B7C6" transform="rotate(19 236.1 241.8)"/>
<ellipse cx="222.1" cy="210.2" rx="1.0" ry="0.9" fill="#2D7DB9" transform="rotate(13 222.1 210.2)"/>
<ellipse cx="201.8" cy="248.4" rx="1.0" ry="0.9" fill="#2D7DB9" transform="rotate(-22 201.8 248.4)"/>
<ellipse cx="196.5" cy="234.7" rx="1.8" ry="1.7" fill="#2E98C2" transform="rotate(-3 196.5 234.7)"/>
<ellipse cx="196.7" cy="243.7" rx="1.7" ry="1.4" fill="#2D7DB9" transform="rotate(-20 196.7 243.7)"/>
<ellipse cx="242.0" cy="262.6" rx="1.6" ry="1.2" fill="#2E98C2" transform="rotate(-23 242.0 262.6)"/>
<ellipse cx="218.3" cy="217.4" rx="0.9" ry="0.8" fill="#6CC5B4" transform="rotate(-23 218.3 217.4)"/>
<ellipse cx="193.8" cy="262.0" rx="2.3" ry="1.3" fill="#2D7DB9" transform="rotate(-8 193.8 262.0)"/>
<ellipse cx="196.5" cy="253.8" rx="2.1" ry="1.4" fill="#2E98C2" transform="rotate(-13 196.5 253.8)"/>
<ellipse cx="194.7" cy="243.5" rx="1.3" ry="0.7" fill="#2E98C2" transform="rotate(24 194.7 243.5)"/>
<ellipse cx="182.7" cy="261.5" rx="1.3" ry="1.3" fill="#6CC5B4" transform="rotate(-21 182.7 261.5)"/>
<ellipse cx="209.4" cy="250.1" rx="1.0" ry="0.6" fill="#2D7DB9" transform="rotate(10 209.4 250.1)"/>
<ellipse cx="192.6" cy="217.7" rx="1.3" ry="0.5" fill="#6CC5B4" transform="rotate(19 192.6 217.7)"/>
<ellipse cx="241.9" cy="248.7" rx="1.2" ry="1.2" fill="#2E98C2" transform="rotate(-3 241.9 248.7)"/>
<ellipse cx="241.9" cy="237.2" rx="1.6" ry="0.9" fill="#45B7C6" transform="rotate(1 241.9 237.2)"/>
<ellipse cx="230.9" cy="222.3" rx="1.8" ry="1.0" fill="#6CC5B4" transform="rotate(-30 230.9 222.3)"/>
<ellipse cx="194.3" cy="236.2" rx="0.8" ry="0.5" fill="#2D7DB9" transform="rotate(-11 194.3 236.2)"/>
<ellipse cx="211.8" cy="269.7" rx="1.0" ry="0.9" fill="#6CC5B4" transform="rotate(-30 211.8 269.7)"/>
<ellipse cx="203.5" cy="223.5" rx="0.9" ry="0.4" fill="#2E98C2" transform="rotate(-18 203.5 223.5)"/>
<ellipse cx="195.7" cy="229.4" rx="1.6" ry="1.4" fill="#2E98C2" transform="rotate(22 195.7 229.4)"/>
<ellipse cx="190.7" cy="221.5" rx="0.9" ry="0.8" fill="#2D7DB9" transform="rotate(-7 190.7 221.5)"/>
<ellipse cx="236.1" cy="265.7" rx="0.8" ry="0.4" fill="#6CC5B4" transform="rotate(-17 236.1 265.7)"/>
<ellipse cx="230.2" cy="269.4" rx="2.3" ry="2.0" fill="#2E98C2" transform="rotate(-10 230.2 269.4)"/>
<ellipse cx="209.7" cy="248.8" rx="1.5" ry="0.8" fill="#2D7DB9" transform="rotate(16 209.7 248.8)"/>
<ellipse cx="243.8" cy="249.5" rx="1.7" ry="0.8" fill="#2E98C2" transform="rotate(25 243.8 249.5)"/>
<ellipse cx="231.7" cy="215.7" rx="2.4" ry="1.6" fill="#6CC5B4" transform="rotate(19 231.7 215.7)"/>
<ellipse cx="212.7" cy="218.2" rx="1.1" ry="0.6" fill="#2E98C2" transform="rotate(22 212.7 218.2)"/>
<ellipse cx="227.3" cy="240.3" rx="2.3" ry="1.0" fill="#2E98C2" transform="rotate(11 227.3 240.3)"/>
<ellipse cx="205.9" cy="248.8" rx="1.3" ry="0.9" fill="#45B7C6" transform="rotate(18 205.9 248.8)"/>
<ellipse cx="215.5" cy="217.0" rx="1.7" ry="0.9" fill="#2D7DB9" transform="rotate(-9 215.5 217.0)"/>
<ellipse cx="199.1" cy="233.9" rx="2.0" ry="1.7" fill="#6CC5B4" transform="rotate(24 199.1 233.9)"/>
<ellipse cx="219.1" cy="239.7" rx="1.4" ry="1.2" fill="#2E98C2" transform="rotate(-24 219.1 239.7)"/>
<ellipse cx="197.2" cy="256.2" rx="2.1" ry="1.4" fill="#6CC5B4" transform="rotate(-24 197.2 256.2)"/>
<ellipse cx="216.8" cy="209.3" rx="1.3" ry="0.8" fill="#2D7DB9" transform="rotate(-2 216.8 209.3)"/>
<ellipse cx="215.1" cy="263.3" rx="1.3" ry="1.3" fill="#45B7C6" transform="rotate(9 215.1 263.3)"/>
<ellipse cx="218.5" cy="266.8" rx="1.7" ry="1.5" fill="#2D7DB9" transform="rotate(-1 218.5 266.8)"/>
<ellipse cx="200.2" cy="235.5" rx="2.6" ry="1.6" fill="#2D7DB9" transform="rotate(-3 200.2 235.5)"/>
<ellipse cx="198.2" cy="227.5" rx="1.1" ry="0.8" fill="#2E98C2" transform="rotate(24 198.2 227.5)"/>
<ellipse cx="200.7" cy="253.6" rx="2.2" ry="2.0" fill="#6CC5B4" transform="rotate(-10 200.7 253.6)"/>
<ellipse cx="218.3" cy="253.2" rx="0.9" ry="0.7" fill="#2D7DB9" transform="rotate(-24 218.3 253.2)"/>
<ellipse cx="245.6" cy="233.0" rx="2.2" ry="2.1" fill="#6CC5B4" transform="rotate(11 245.6 233.0)"/>
<ellipse cx="202.0" cy="243.6" rx="1.5" ry="1.3" fill="#2D7DB9" transform="rotate(-6 202.0 243.6)"/>
<ellipse cx="193.8" cy="248.6" rx="0.9" ry="0.6" fill="#6CC5B4" transform="rotate(11 193.8 248.6)"/>
<ellipse cx="228.4" cy="223.0" rx="2.4" ry="1.9" fill="#2D7DB9" transform="rotate(-19 228.4 223.0)"/>
<ellipse cx="205.3" cy="238.5" rx="1.4" ry="1.0" fill="#45B7C6" transform="rotate(-24 205.3 238.5)"/>
<ellipse cx="200.8" cy="212.3" rx="1.1" ry="0.8" fill="#2D7DB9" transform="rotate(8 200.8 212.3)"/>
<ellipse cx="188.5" cy="244.0" rx="1.1" ry="0.6" fill="#2D7DB9" transform="rotate(13 188.5 244.0)"/>
<ellipse cx="184.0" cy="267.9" rx="1.5" ry="1.2" fill="#2E98C2" transform="rotate(-27 184.0 267.9)"/>
<ellipse cx="193.0" cy="233.1" rx="1.4" ry="0.8" fill="#2D7DB9" transform="rotate(-3 193.0 233.1)"/>
<ellipse cx="216.0" cy="224.6" rx="2.5" ry="2.4" fill="#2D7DB9" transform="rotate(5 216.0 224.6)"/>
<ellipse cx="228.4" cy="268.3" rx="1.8" ry="0.9" fill="#2E98C2" transform="rotate(-10 228.4 268.3)"/>
<ellipse cx="246.2" cy="241.0" rx="1.0" ry="0.7" fill="#2D7DB9" transform="rotate(-25 246.2 241.0)"/>
<ellipse cx="205.7" cy="272.9" rx="1.7" ry="1.7" fill="#2E98C2" transform="rotate(18 205.7 272.9)"/>
<ellipse cx="212.6" cy="215.8" rx="1.4" ry="0.6" fill="#2D7DB9" transform="rotate(21 212.6 215.8)"/>
<ellipse cx="205.7" cy="263.9" rx="2.3" ry="1.3" fill="#2D7DB9" transform="rotate(5 205.7 263.9)"/>
<ellipse cx="187.3" cy="262.3" rx="1.8" ry="1.0" fill="#2D7DB9" transform="rotate(-17 187.3 262.3)"/>
<ellipse cx="216.6" cy="239.5" rx="2.2" ry="2.0" fill="#2D7DB9" transform="rotate(28 216.6 239.5)"/>
<ellipse cx="187.9" cy="243.2" rx="1.7" ry="1.1" fill="#2E98C2" transform="rotate(22 187.9 243.2)"/>
<ellipse cx="197.8" cy="235.6" rx="1.2" ry="0.6" fill="#2E98C2" transform="rotate(14 197.8 235.6)"/>
<ellipse cx="237.2" cy="265.1" rx="1.4" ry="0.7" fill="#6CC5B4" transform="rotate(25 237.2 265.1)"/>
<ellipse cx="216.9" cy="256.1" rx="1.0" ry="0.9" fill="#2D7DB9" transform="rotate(15 216.9 256.1)"/>
<ellipse cx="202.6" cy="230.0" rx="1.7" ry="1.2" fill="#2D7DB9" transform="rotate(3 202.6 230.0)"/>
<ellipse cx="188.6" cy="261.8" rx="1.5" ry="1.1" fill="#45B7C6" transform="rotate(0 188.6 261.8)"/>
<ellipse cx="211.4" cy="230.2" rx="2.2" ry="0.9" fill="#2E98C2" transform="rotate(-27 211.4 230.2)"/>
<ellipse cx="205.3" cy="266.3" rx="1.3" ry="0.6" fill="#2E98C2" transform="rotate(8 205.3 266.3)"/>
<ellipse cx="189.1" cy="245.8" rx="1.9" ry="1.9" fill="#6CC5B4" transform="rotate(11 189.1 245.8)"/>
<ellipse cx="220.6" cy="273.0" rx="2.5" ry="1.5" fill="#2E98C2" transform="rotate(3 220.6 273.0)"/>
<ellipse cx="227.7" cy="251.2" rx="0.8" ry="0.7" fill="#45B7C6" transform="rotate(19 227.7 251.2)"/>
<ellipse cx="234.4" cy="264.1" rx="2.1" ry="1.8" fill="#2E98C2" transform="rotate(-11 234.4 264.1)"/>
<ellipse cx="225.4" cy="244.6" rx="0.8" ry="0.5" fill="#2E98C2" transform="rotate(18 225.4 244.6)"/>
<ellipse cx="235.2" cy="221.4" rx="2.5" ry="1.7" fill="#2D7DB9" transform="rotate(-21 235.2 221.4)"/>
<ellipse cx="223.4" cy="271.9" rx="1.3" ry="1.2" fill="#45B7C6" transform="rotate(-22 223.4 271.9)"/>
<ellipse cx="215.7" cy="237.7" rx="2.1" ry="2.1" fill="#2E98C2" transform="rotate(-28 215.7 237.7)"/>
<ellipse cx="243.9" cy="250.5" rx="2.6" ry="1.1" fill="#2D7DB9" transform="rotate(-30 243.9 250.5)"/>
<ellipse cx="236.1" cy="252.5" rx="2.5" ry="2.2" fill="#2E98C2" transform="rotate(-27 236.1 252.5)"/>
<ellipse cx="202.5" cy="270.9" rx="2.6" ry="1.6" fill="#2E98C2" transform="rotate(-3 202.5 270.9)"/>
<ellipse cx="221.0" cy="223.2" rx="2.1" ry="1.1" fill="#2D7DB9" transform="rotate(-18 221.0 223.2)"/>
<ellipse cx="189.2" cy="249.3" rx="1.8" ry="1.6" fill="#6CC5B4" transform="rotate(4 189.2 249.3)"/>
<ellipse cx="231.2" cy="251.2" rx="1.2" ry="0.7" fill="#2E98C2" transform="rotate(-14 231.2 251.2)"/>
<ellipse cx="193.3" cy="259.9" rx="1.6" ry="1.4" fill="#2D7DB9" transform="rotate(29 193.3 259.9)"/>
<ellipse cx="202.3" cy="256.6" rx="2.6" ry="1.4" fill="#2D7DB9" transform="rotate(-10 202.3 256.6)"/>
<ellipse cx="217.6" cy="239.4" rx="1.8" ry="1.4" fill="#2D7DB9" transform="rotate(-20 217.6 239.4)"/>
<ellipse cx="240.2" cy="257.2" rx="2.5" ry="1.6" fill="#2D7DB9" transform="rotate(-19 240.2 257.2)"/>
<ellipse cx="223.0" cy="224.5" rx="1.5" ry="1.4" fill="#2D7DB9" transform="rotate(-19 223.0 224.5)"/>
<ellipse cx="233.0" cy="270.2" rx="2.3" ry="1.1" fill="#2D7DB9" transform="rotate(26 233.0 270.2)"/>
<ellipse cx="211.5" cy="210.7" rx="1.8" ry="1.3" fill="#6CC5B4" transform="rotate(-19 211.5 210.7)"/>
<ellipse cx="211.5" cy="213.9" rx="1.2" ry="1.1" fill="#45B7C6" transform="rotate(10 211.5 213.9)"/>
<ellipse cx="225.0" cy="219.0" rx="0.9" ry="0.7" fill="#2D7DB9" transform="rotate(-4 225.0 219.0)"/>
<ellipse cx="191.0" cy="225.5" rx="1.3" ry="0.9" fill="#2D7DB9" transform="rotate(-29 191.0 225.5)"/>
<ellipse cx="239.6" cy="262.5" rx="1.9" ry="0.8" fill="#2D7DB9" transform="rotate(20 239.6 262.5)"/>
<ellipse cx="212.4" cy="210.6" rx="2.4" ry="1.3" fill="#2E98C2" transform="rotate(27 212.4 210.6)"/>
<ellipse cx="216.8" cy="249.2" rx="1.1" ry="0.6" fill="#2D7DB9" transform="rotate(-5 216.8 249.2)"/>
<ellipse cx="219.4" cy="234.6" rx="1.9" ry="1.8" fill="#2E98C2" transform="rotate(22 219.4 234.6)"/>
<ellipse cx="219.0" cy="212.1" rx="1.0" ry="1.0" fill="#6CC5B4" transform="rotate(-8 219.0 212.1)"/>
<ellipse cx="218.4" cy="223.5" rx="1.1" ry="0.8" fill="#2D7DB9" transform="rotate(28 218.4 223.5)"/>
<ellipse cx="208.6" cy="223.1" rx="1.4" ry="0.6" fill="#45B7C6" transform="rotate(-22 208.6 223.1)"/>
<ellipse cx="245.5" cy="242.7" rx="1.9" ry="1.5" fill="#45B7C6" transform="rotate(23 245.5 242.7)"/>
<ellipse cx="210.1" cy="238.6" rx="2.4" ry="1.3" fill="#45B7C6" transform="rotate(-16 210.1 238.6)"/>
<ellipse cx="192.5" cy="256.6" rx="1.6" ry="1.5" fill="#2D7DB9" transform="rotate(29 192.5 256.6)"/>
<ellipse cx="243.5" cy="266.0" rx="0.9" ry="0.8" fill="#2E98C2" transform="rotate(-20 243.5 266.0)"/>
<ellipse cx="204.4" cy="231.2" rx="1.3" ry="0.7" fill="#2D7DB9" transform="rotate(-25 204.4 231.2)"/>
<ellipse cx="226.0" cy="234.4" rx="1.7" ry="0.9" fill="#2D7DB9" transform="rotate(22 226.0 234.4)"/>
<ellipse cx="203.0" cy="233.2" rx="1.0" ry="0.9" fill="#2D7DB9" transform="rotate(-7 203.0 233.2)"/>
<ellipse cx="197.7" cy="249.2" rx="1.6" ry="1.5" fill="#6CC5B4" transform="rotate(2 197.7 249.2)"/>
<ellipse cx="230.3" cy="216.6" rx="2.6" ry="2.5" fill="#2D7DB9" transform="rotate(4 230.3 216.6)"/>
<ellipse cx="201.0" cy="236.6" rx="1.9" ry="1.7" fill="#6CC5B4" transform="rotate(-27 201.0 236.6)"/>
<ellipse cx="231.6" cy="210.8" rx="0.9" ry="0.7" fill="#2D7DB9" transform="rotate(-24 231.6 210.8)"/>
<ellipse cx="227.2" cy="235.2" rx="2.3" ry="1.0" fill="#2E98C2" transform="rotate(-21 227.2 235.2)"/>
<ellipse cx="181.6" cy="264.7" rx="1.3" ry="0.7" fill="#2E98C2" transform="rotate(-6 181.6 264.7)"/>
<ellipse cx="203.7" cy="224.3" rx="2.0" ry="1.3" fill="#45B7C6" transform="rotate(9 203.7 224.3)"/>
<ellipse cx="224.1" cy="219.0" rx="1.0" ry="0.5" fill="#2D7DB9" transform="rotate(16 224.1 219.0)"/>
<ellipse cx="244.2" cy="243.4" rx="2.1" ry="1.3" fill="#45B7C6" transform="rotate(-21 244.2 243.4)"/>
<path d="M244.0,224.0 262.0,226.0 278.0,236.0 282.0,250.0 272.0,262.0 258.0,266.0 250.0,256.0 252.0,240.0Z" fill="#A6DCB8"/>
<ellipse cx="265.5" cy="235.7" rx="2.8" ry="2.0" fill="#45B7C6" transform="rotate(28 265.5 235.7)"/>
<ellipse cx="276.8" cy="248.8" rx="1.3" ry="1.3" fill="#D3ECC3" transform="rotate(-12 276.8 248.8)"/>
<ellipse cx="277.7" cy="240.5" rx="2.3" ry="1.0" fill="#D3ECC3" transform="rotate(-26 277.7 240.5)"/>
<ellipse cx="256.4" cy="263.7" rx="1.9" ry="1.3" fill="#D3ECC3" transform="rotate(-1 256.4 263.7)"/>
<ellipse cx="252.4" cy="232.2" rx="3.5" ry="3.2" fill="#D3ECC3" transform="rotate(12 252.4 232.2)"/>
<ellipse cx="252.6" cy="251.2" rx="2.8" ry="2.3" fill="#D3ECC3" transform="rotate(-10 252.6 251.2)"/>
<ellipse cx="278.8" cy="239.0" rx="1.7" ry="1.6" fill="#6CC5B4" transform="rotate(-17 278.8 239.0)"/>
<ellipse cx="264.0" cy="230.6" rx="3.0" ry="1.4" fill="#D3ECC3" transform="rotate(24 264.0 230.6)"/>
<ellipse cx="257.8" cy="262.3" rx="2.2" ry="1.7" fill="#45B7C6" transform="rotate(-29 257.8 262.3)"/>
<ellipse cx="264.5" cy="254.9" rx="1.7" ry="0.7" fill="#45B7C6" transform="rotate(-1 264.5 254.9)"/>
<ellipse cx="252.5" cy="240.3" rx="2.1" ry="0.9" fill="#45B7C6" transform="rotate(-1 252.5 240.3)"/>
<ellipse cx="262.0" cy="247.4" rx="3.0" ry="1.2" fill="#45B7C6" transform="rotate(-27 262.0 247.4)"/>
<ellipse cx="264.0" cy="248.9" rx="3.4" ry="2.0" fill="#45B7C6" transform="rotate(-16 264.0 248.9)"/>
<ellipse cx="267.5" cy="244.8" rx="3.0" ry="2.3" fill="#6CC5B4" transform="rotate(17 267.5 244.8)"/>
<ellipse cx="265.3" cy="260.0" rx="1.8" ry="1.5" fill="#6CC5B4" transform="rotate(16 265.3 260.0)"/>
<ellipse cx="280.4" cy="249.3" rx="1.7" ry="1.5" fill="#D3ECC3" transform="rotate(-30 280.4 249.3)"/>
<ellipse cx="262.7" cy="259.4" rx="2.9" ry="2.0" fill="#D3ECC3" transform="rotate(-24 262.7 259.4)"/>
<ellipse cx="258.1" cy="239.2" rx="1.4" ry="1.2" fill="#D3ECC3" transform="rotate(7 258.1 239.2)"/>
<ellipse cx="262.9" cy="258.3" rx="1.4" ry="0.7" fill="#45B7C6" transform="rotate(-26 262.9 258.3)"/>
<ellipse cx="248.3" cy="224.8" rx="1.8" ry="1.0" fill="#6CC5B4" transform="rotate(-9 248.3 224.8)"/>
<ellipse cx="249.1" cy="229.4" rx="2.2" ry="1.6" fill="#45B7C6" transform="rotate(-16 249.1 229.4)"/>
<ellipse cx="258.3" cy="244.7" rx="3.5" ry="3.0" fill="#D3ECC3" transform="rotate(-17 258.3 244.7)"/>
<ellipse cx="248.4" cy="227.7" rx="2.2" ry="1.1" fill="#45B7C6" transform="rotate(-25 248.4 227.7)"/>
<ellipse cx="256.0" cy="236.8" rx="1.7" ry="1.1" fill="#45B7C6" transform="rotate(14 256.0 236.8)"/>
<ellipse cx="259.7" cy="259.9" rx="1.8" ry="1.7" fill="#45B7C6" transform="rotate(-24 259.7 259.9)"/>
<ellipse cx="250.0" cy="232.9" rx="3.4" ry="3.0" fill="#D3ECC3" transform="rotate(-19 250.0 232.9)"/>
<ellipse cx="252.6" cy="237.7" rx="1.6" ry="1.2" fill="#D3ECC3" transform="rotate(19 252.6 237.7)"/>
<ellipse cx="256.9" cy="261.6" rx="2.1" ry="1.6" fill="#6CC5B4" transform="rotate(16 256.9 261.6)"/>
<ellipse cx="265.4" cy="238.1" rx="1.6" ry="1.0" fill="#45B7C6" transform="rotate(30 265.4 238.1)"/>
<ellipse cx="277.3" cy="254.4" rx="1.2" ry="0.9" fill="#D3ECC3" transform="rotate(1 277.3 254.4)"/>
<ellipse cx="268.5" cy="249.5" rx="2.5" ry="2.0" fill="#D3ECC3" transform="rotate(12 268.5 249.5)"/>
<ellipse cx="277.2" cy="244.9" rx="1.5" ry="1.4" fill="#45B7C6" transform="rotate(-29 277.2 244.9)"/>
<ellipse cx="278.3" cy="247.9" rx="2.7" ry="2.6" fill="#D3ECC3" transform="rotate(28 278.3 247.9)"/>
<ellipse cx="260.8" cy="250.7" rx="2.4" ry="2.4" fill="#45B7C6" transform="rotate(-14 260.8 250.7)"/>
<ellipse cx="274.5" cy="249.2" rx="1.7" ry="1.2" fill="#45B7C6" transform="rotate(-22 274.5 249.2)"/>
<ellipse cx="276.1" cy="239.9" rx="1.8" ry="1.6" fill="#45B7C6" transform="rotate(-28 276.1 239.9)"/>
<ellipse cx="257.0" cy="247.3" rx="3.4" ry="3.3" fill="#D3ECC3" transform="rotate(6 257.0 247.3)"/>
<ellipse cx="259.9" cy="259.4" rx="3.1" ry="2.2" fill="#6CC5B4" transform="rotate(-2 259.9 259.4)"/>
<ellipse cx="253.0" cy="254.4" rx="2.0" ry="1.4" fill="#45B7C6" transform="rotate(-23 253.0 254.4)"/>
<ellipse cx="268.4" cy="258.2" rx="2.7" ry="2.7" fill="#45B7C6" transform="rotate(-21 268.4 258.2)"/>
<ellipse cx="240.0" cy="211.0" rx="16.0" ry="15.0" fill="#C9E8C2" transform="rotate(-20 240.0 211.0)"/>
<ellipse cx="264.3" cy="208.3" rx="1.7" ry="1.1" fill="#6CC5B4" transform="rotate(-1 264.3 208.3)"/>
<ellipse cx="256.5" cy="208.0" rx="1.2" ry="0.6" fill="#45B7C6" transform="rotate(21 256.5 208.0)"/>
<ellipse cx="277.5" cy="205.7" rx="1.5" ry="1.3" fill="#6CC5B4" transform="rotate(14 277.5 205.7)"/>
<ellipse cx="273.6" cy="207.1" rx="0.9" ry="0.8" fill="#45B7C6" transform="rotate(-6 273.6 207.1)"/>
<ellipse cx="275.0" cy="210.2" rx="2.0" ry="1.7" fill="#45B7C6" transform="rotate(14 275.0 210.2)"/>
<ellipse cx="265.3" cy="206.3" rx="2.2" ry="0.9" fill="#45B7C6" transform="rotate(-18 265.3 206.3)"/>
<ellipse cx="257.0" cy="207.2" rx="1.0" ry="0.7" fill="#6CC5B4" transform="rotate(-26 257.0 207.2)"/>
<ellipse cx="271.6" cy="200.8" rx="1.7" ry="1.0" fill="#6CC5B4" transform="rotate(-2 271.6 200.8)"/>
<ellipse cx="259.1" cy="213.0" rx="1.6" ry="1.2" fill="#45B7C6" transform="rotate(-26 259.1 213.0)"/>
<ellipse cx="263.0" cy="202.3" rx="1.3" ry="0.5" fill="#A6DCB8" transform="rotate(-18 263.0 202.3)"/>
<ellipse cx="271.1" cy="209.5" rx="1.7" ry="0.9" fill="#A6DCB8" transform="rotate(-27 271.1 209.5)"/>
<ellipse cx="270.9" cy="217.3" rx="0.9" ry="0.6" fill="#A6DCB8" transform="rotate(21 270.9 217.3)"/>
<ellipse cx="263.6" cy="197.7" rx="1.3" ry="0.6" fill="#A6DCB8" transform="rotate(26 263.6 197.7)"/>
<ellipse cx="281.3" cy="210.2" rx="2.0" ry="1.1" fill="#6CC5B4" transform="rotate(19 281.3 210.2)"/>
<ellipse cx="258.3" cy="208.5" rx="1.0" ry="0.5" fill="#6CC5B4" transform="rotate(-2 258.3 208.5)"/>
<ellipse cx="281.3" cy="202.9" rx="2.0" ry="1.6" fill="#45B7C6" transform="rotate(17 281.3 202.9)"/>
<ellipse cx="274.3" cy="208.7" rx="0.9" ry="0.4" fill="#45B7C6" transform="rotate(27 274.3 208.7)"/>
<ellipse cx="262.0" cy="200.3" rx="2.3" ry="1.6" fill="#A6DCB8" transform="rotate(-3 262.0 200.3)"/>
<ellipse cx="268.0" cy="211.4" rx="1.3" ry="0.5" fill="#A6DCB8" transform="rotate(4 268.0 211.4)"/>
<ellipse cx="264.9" cy="212.3" rx="2.0" ry="1.5" fill="#45B7C6" transform="rotate(-3 264.9 212.3)"/>
<ellipse cx="261.9" cy="195.6" rx="1.5" ry="1.2" fill="#45B7C6" transform="rotate(12 261.9 195.6)"/>
<ellipse cx="259.0" cy="206.0" rx="1.7" ry="1.3" fill="#A6DCB8" transform="rotate(-18 259.0 206.0)"/>
<ellipse cx="260.2" cy="213.3" rx="1.9" ry="1.1" fill="#6CC5B4" transform="rotate(-6 260.2 213.3)"/>
<ellipse cx="255.7" cy="208.2" rx="1.1" ry="1.0" fill="#6CC5B4" transform="rotate(8 255.7 208.2)"/>
<ellipse cx="270.4" cy="217.2" rx="1.7" ry="1.2" fill="#45B7C6" transform="rotate(15 270.4 217.2)"/>
<ellipse cx="270.5" cy="205.0" rx="1.0" ry="0.7" fill="#A6DCB8" transform="rotate(-1 270.5 205.0)"/>
<ellipse cx="272.9" cy="197.3" rx="1.1" ry="0.7" fill="#45B7C6" transform="rotate(6 272.9 197.3)"/>
<ellipse cx="265.5" cy="202.8" rx="1.5" ry="1.1" fill="#45B7C6" transform="rotate(25 265.5 202.8)"/>
<ellipse cx="270.8" cy="213.6" rx="1.1" ry="0.5" fill="#45B7C6" transform="rotate(-10 270.8 213.6)"/>
<ellipse cx="271.9" cy="209.0" rx="1.4" ry="1.0" fill="#45B7C6" transform="rotate(0 271.9 209.0)"/>
<ellipse cx="266.7" cy="194.9" rx="1.8" ry="1.7" fill="#45B7C6" transform="rotate(19 266.7 194.9)"/>
<ellipse cx="276.2" cy="198.2" rx="1.7" ry="1.7" fill="#A6DCB8" transform="rotate(14 276.2 198.2)"/>
<ellipse cx="258.6" cy="202.1" rx="1.5" ry="0.6" fill="#A6DCB8" transform="rotate(-21 258.6 202.1)"/>
<ellipse cx="280.6" cy="199.6" rx="2.3" ry="1.7" fill="#45B7C6" transform="rotate(27 280.6 199.6)"/>
<ellipse cx="265.7" cy="209.3" rx="1.8" ry="1.3" fill="#6CC5B4" transform="rotate(-21 265.7 209.3)"/>
<ellipse cx="265.4" cy="196.8" rx="1.7" ry="0.7" fill="#45B7C6" transform="rotate(9 265.4 196.8)"/>
<ellipse cx="268.5" cy="208.1" rx="1.3" ry="1.1" fill="#6CC5B4" transform="rotate(-14 268.5 208.1)"/>
<ellipse cx="260.5" cy="212.1" rx="1.4" ry="0.6" fill="#A6DCB8" transform="rotate(27 260.5 212.1)"/>
<ellipse cx="270.6" cy="213.7" rx="1.1" ry="0.6" fill="#45B7C6" transform="rotate(-0 270.6 213.7)"/>
<ellipse cx="256.4" cy="199.4" rx="1.4" ry="0.8" fill="#45B7C6" transform="rotate(6 256.4 199.4)"/>
<path d="M222.0,186.0 232.0,180.0 246.0,184.0 258.0,190.0 256.0,200.0 246.0,198.0 234.0,196.0 224.0,198.0Z" fill="#45B7C6"/>
<ellipse cx="245.1" cy="184.9" rx="2.2" ry="1.6" fill="#2E98C2" transform="rotate(-10 245.1 184.9)"/>
<ellipse cx="229.1" cy="196.6" rx="1.7" ry="1.0" fill="#6CC5B4" transform="rotate(-20 229.1 196.6)"/>
<ellipse cx="234.2" cy="182.2" rx="2.0" ry="1.0" fill="#2E98C2" transform="rotate(-19 234.2 182.2)"/>
<ellipse cx="241.9" cy="193.7" rx="1.2" ry="0.7" fill="#2E98C2" transform="rotate(-8 241.9 193.7)"/>
<ellipse cx="245.2" cy="193.0" rx="2.5" ry="1.9" fill="#2E98C2" transform="rotate(12 245.2 193.0)"/>
<ellipse cx="250.5" cy="190.5" rx="2.3" ry="2.2" fill="#2E98C2" transform="rotate(3 250.5 190.5)"/>
<ellipse cx="222.6" cy="185.7" rx="2.5" ry="1.7" fill="#2E98C2" transform="rotate(-7 222.6 185.7)"/>
<ellipse cx="227.1" cy="189.9" rx="1.5" ry="1.1" fill="#2E98C2" transform="rotate(5 227.1 189.9)"/>
<ellipse cx="232.5" cy="183.7" rx="1.9" ry="1.3" fill="#2E98C2" transform="rotate(-13 232.5 183.7)"/>
<ellipse cx="239.4" cy="196.6" rx="2.6" ry="2.3" fill="#6CC5B4" transform="rotate(6 239.4 196.6)"/>
<ellipse cx="231.5" cy="196.4" rx="2.2" ry="1.1" fill="#2E98C2" transform="rotate(14 231.5 196.4)"/>
<ellipse cx="232.7" cy="186.4" rx="3.0" ry="2.9" fill="#2E98C2" transform="rotate(-5 232.7 186.4)"/>
<ellipse cx="225.1" cy="186.8" rx="2.9" ry="2.0" fill="#2E98C2" transform="rotate(-28 225.1 186.8)"/>
<ellipse cx="227.2" cy="185.4" rx="2.6" ry="1.1" fill="#2E98C2" transform="rotate(-8 227.2 185.4)"/>
<ellipse cx="236.2" cy="192.4" rx="2.2" ry="1.1" fill="#2E98C2" transform="rotate(4 236.2 192.4)"/>
<ellipse cx="290.3" cy="164.4" rx="2.2" ry="1.8" fill="#A6DCB8" transform="rotate(-1 290.3 164.4)"/>
<ellipse cx="276.3" cy="183.4" rx="1.6" ry="0.8" fill="#45B7C6" transform="rotate(22 276.3 183.4)"/>
<ellipse cx="286.3" cy="147.2" rx="2.4" ry="1.2" fill="#45B7C6" transform="rotate(15 286.3 147.2)"/>
<ellipse cx="295.2" cy="148.3" rx="1.8" ry="1.3" fill="#45B7C6" transform="rotate(3 295.2 148.3)"/>
<ellipse cx="275.3" cy="182.5" rx="1.5" ry="0.9" fill="#45B7C6" transform="rotate(-9 275.3 182.5)"/>
<ellipse cx="273.1" cy="171.5" rx="2.4" ry="1.0" fill="#A6DCB8" transform="rotate(6 273.1 171.5)"/>
<ellipse cx="271.2" cy="171.7" rx="1.8" ry="1.2" fill="#A6DCB8" transform="rotate(28 271.2 171.7)"/>
<ellipse cx="295.3" cy="153.5" rx="0.8" ry="0.4" fill="#A6DCB8" transform="rotate(17 295.3 153.5)"/>
<ellipse cx="283.0" cy="170.6" rx="2.1" ry="1.8" fill="#B6E2BE" transform="rotate(-6 283.0 170.6)"/>
<ellipse cx="287.7" cy="170.1" rx="0.8" ry="0.6" fill="#B6E2BE" transform="rotate(-17 287.7 170.1)"/>
<ellipse cx="281.4" cy="172.1" rx="0.9" ry="0.6" fill="#B6E2BE" transform="rotate(-26 281.4 172.1)"/>
<ellipse cx="270.8" cy="178.5" rx="2.1" ry="1.0" fill="#45B7C6" transform="rotate(-6 270.8 178.5)"/>
<ellipse cx="272.9" cy="178.1" rx="1.3" ry="0.6" fill="#B6E2BE" transform="rotate(-30 272.9 178.1)"/>
<ellipse cx="292.6" cy="160.6" rx="1.2" ry="1.0" fill="#A6DCB8" transform="rotate(18 292.6 160.6)"/>
<ellipse cx="273.3" cy="175.2" rx="1.7" ry="1.3" fill="#B6E2BE" transform="rotate(-1 273.3 175.2)"/>
<ellipse cx="281.1" cy="177.5" rx="1.1" ry="1.1" fill="#45B7C6" transform="rotate(-23 281.1 177.5)"/>
<ellipse cx="266.0" cy="169.1" rx="2.1" ry="1.7" fill="#45B7C6" transform="rotate(7 266.0 169.1)"/>
<ellipse cx="276.8" cy="164.2" rx="0.9" ry="0.6" fill="#A6DCB8" transform="rotate(0 276.8 164.2)"/>
<ellipse cx="279.2" cy="171.6" rx="0.9" ry="0.7" fill="#45B7C6" transform="rotate(4 279.2 171.6)"/>
<ellipse cx="293.7" cy="151.9" rx="1.5" ry="1.2" fill="#A6DCB8" transform="rotate(-27 293.7 151.9)"/>
<ellipse cx="275.8" cy="155.8" rx="1.4" ry="0.9" fill="#45B7C6" transform="rotate(-5 275.8 155.8)"/>
<ellipse cx="290.2" cy="148.8" rx="1.9" ry="1.4" fill="#A6DCB8" transform="rotate(22 290.2 148.8)"/>
<ellipse cx="281.8" cy="152.0" rx="1.1" ry="1.1" fill="#A6DCB8" transform="rotate(-28 281.8 152.0)"/>
<ellipse cx="288.0" cy="150.3" rx="0.8" ry="0.4" fill="#A6DCB8" transform="rotate(10 288.0 150.3)"/>
<ellipse cx="287.0" cy="150.9" rx="1.3" ry="0.8" fill="#45B7C6" transform="rotate(28 287.0 150.9)"/>
<ellipse cx="268.9" cy="187.3" rx="2.0" ry="1.0" fill="#B6E2BE" transform="rotate(-12 268.9 187.3)"/>
<ellipse cx="266.0" cy="184.9" rx="1.1" ry="0.6" fill="#A6DCB8" transform="rotate(-15 266.0 184.9)"/>
<ellipse cx="292.8" cy="146.3" rx="2.5" ry="2.0" fill="#B6E2BE" transform="rotate(-21 292.8 146.3)"/>
<ellipse cx="277.9" cy="161.6" rx="1.4" ry="1.0" fill="#B6E2BE" transform="rotate(4 277.9 161.6)"/>
<ellipse cx="266.7" cy="165.0" rx="1.8" ry="1.2" fill="#45B7C6" transform="rotate(10 266.7 165.0)"/>
<ellipse cx="293.2" cy="150.5" rx="1.1" ry="0.5" fill="#B6E2BE" transform="rotate(-7 293.2 150.5)"/>
<ellipse cx="275.6" cy="182.4" rx="1.7" ry="0.9" fill="#A6DCB8" transform="rotate(4 275.6 182.4)"/>
<ellipse cx="278.9" cy="153.8" rx="2.2" ry="1.8" fill="#A6DCB8" transform="rotate(8 278.9 153.8)"/>
<ellipse cx="292.6" cy="146.4" rx="2.0" ry="1.2" fill="#B6E2BE" transform="rotate(-3 292.6 146.4)"/>
<ellipse cx="285.3" cy="151.1" rx="1.7" ry="1.4" fill="#45B7C6" transform="rotate(-14 285.3 151.1)"/>
<ellipse cx="265.9" cy="189.5" rx="2.3" ry="1.8" fill="#A6DCB8" transform="rotate(7 265.9 189.5)"/>
<ellipse cx="276.0" cy="183.9" rx="2.2" ry="1.5" fill="#B6E2BE" transform="rotate(4 276.0 183.9)"/>
<ellipse cx="282.9" cy="161.6" rx="2.0" ry="0.8" fill="#A6DCB8" transform="rotate(25 282.9 161.6)"/>
<ellipse cx="279.6" cy="162.6" rx="1.7" ry="1.3" fill="#45B7C6" transform="rotate(16 279.6 162.6)"/>
<ellipse cx="297.5" cy="148.0" rx="2.2" ry="1.5" fill="#45B7C6" transform="rotate(5 297.5 148.0)"/>
<ellipse cx="282.6" cy="177.3" rx="2.4" ry="1.8" fill="#45B7C6" transform="rotate(27 282.6 177.3)"/>
<ellipse cx="294.5" cy="151.9" rx="2.0" ry="1.3" fill="#A6DCB8" transform="rotate(-27 294.5 151.9)"/>
<ellipse cx="268.0" cy="175.2" rx="1.3" ry="0.7" fill="#B6E2BE" transform="rotate(16 268.0 175.2)"/>
<ellipse cx="296.1" cy="148.9" rx="1.6" ry="1.5" fill="#B6E2BE" transform="rotate(-20 296.1 148.9)"/>
<ellipse cx="266.8" cy="187.9" rx="2.1" ry="1.5" fill="#A6DCB8" transform="rotate(1 266.8 187.9)"/>
<ellipse cx="284.4" cy="167.9" rx="2.2" ry="1.9" fill="#A6DCB8" transform="rotate(4 284.4 167.9)"/>
<ellipse cx="265.7" cy="165.1" rx="0.8" ry="0.3" fill="#45B7C6" transform="rotate(27 265.7 165.1)"/>
<ellipse cx="289.2" cy="155.5" rx="1.6" ry="0.8" fill="#B6E2BE" transform="rotate(8 289.2 155.5)"/>
<ellipse cx="290.9" cy="160.4" rx="0.8" ry="0.5" fill="#45B7C6" transform="rotate(13 290.9 160.4)"/>
<ellipse cx="277.3" cy="180.7" rx="1.7" ry="1.6" fill="#B6E2BE" transform="rotate(-10 277.3 180.7)"/>
<ellipse cx="309.2" cy="219.6" rx="1.7" ry="1.4" fill="#B6E2BE" transform="rotate(-1 309.2 219.6)"/>
<ellipse cx="250.8" cy="251.8" rx="1.1" ry="1.0" fill="#B6E2BE" transform="rotate(3 250.8 251.8)"/>
<ellipse cx="302.9" cy="256.3" rx="1.0" ry="0.8" fill="#B6E2BE" transform="rotate(-23 302.9 256.3)"/>
<ellipse cx="270.6" cy="269.1" rx="0.8" ry="0.6" fill="#B6E2BE" transform="rotate(16 270.6 269.1)"/>
<ellipse cx="285.6" cy="217.7" rx="2.1" ry="2.0" fill="#6CC5B4" transform="rotate(16 285.6 217.7)"/>
<ellipse cx="317.8" cy="262.7" rx="0.8" ry="0.5" fill="#6CC5B4" transform="rotate(-18 317.8 262.7)"/>
<ellipse cx="290.8" cy="234.3" rx="1.0" ry="0.6" fill="#B6E2BE" transform="rotate(9 290.8 234.3)"/>
<ellipse cx="334.6" cy="209.0" rx="2.0" ry="1.4" fill="#B6E2BE" transform="rotate(4 334.6 209.0)"/>
<ellipse cx="328.2" cy="220.7" rx="1.3" ry="0.8" fill="#B6E2BE" transform="rotate(-15 328.2 220.7)"/>
<ellipse cx="329.9" cy="250.5" rx="2.1" ry="1.9" fill="#B6E2BE" transform="rotate(-6 329.9 250.5)"/>
<ellipse cx="272.6" cy="258.2" rx="1.6" ry="1.1" fill="#6CC5B4" transform="rotate(-28 272.6 258.2)"/>
<ellipse cx="313.8" cy="269.6" rx="1.0" ry="0.5" fill="#B6E2BE" transform="rotate(-4 313.8 269.6)"/>
<ellipse cx="315.8" cy="221.1" rx="1.2" ry="1.0" fill="#A6DCB8" transform="rotate(4 315.8 221.1)"/>
<ellipse cx="306.2" cy="233.3" rx="2.0" ry="1.0" fill="#B6E2BE" transform="rotate(-2 306.2 233.3)"/>
<ellipse cx="270.8" cy="200.6" rx="1.9" ry="0.8" fill="#B6E2BE" transform="rotate(18 270.8 200.6)"/>
<ellipse cx="282.2" cy="248.6" rx="2.2" ry="2.0" fill="#6CC5B4" transform="rotate(-6 282.2 248.6)"/>
<ellipse cx="341.5" cy="246.5" rx="1.9" ry="1.5" fill="#A6DCB8" transform="rotate(-10 341.5 246.5)"/>
<ellipse cx="292.8" cy="253.9" rx="2.2" ry="1.1" fill="#B6E2BE" transform="rotate(-3 292.8 253.9)"/>
<ellipse cx="305.2" cy="240.4" rx="1.3" ry="0.6" fill="#B6E2BE" transform="rotate(-18 305.2 240.4)"/>
<ellipse cx="329.1" cy="233.7" rx="1.8" ry="1.3" fill="#6CC5B4" transform="rotate(22 329.1 233.7)"/>
<ellipse cx="314.2" cy="228.9" rx="1.3" ry="1.0" fill="#A6DCB8" transform="rotate(14 314.2 228.9)"/>
<ellipse cx="307.1" cy="241.3" rx="0.8" ry="0.8" fill="#A6DCB8" transform="rotate(-21 307.1 241.3)"/>
<ellipse cx="303.3" cy="197.3" rx="1.5" ry="1.5" fill="#A6DCB8" transform="rotate(9 303.3 197.3)"/>
<ellipse cx="293.1" cy="216.0" rx="1.7" ry="1.4" fill="#B6E2BE" transform="rotate(-7 293.1 216.0)"/>
<ellipse cx="312.5" cy="216.3" rx="1.2" ry="0.6" fill="#6CC5B4" transform="rotate(-15 312.5 216.3)"/>
<ellipse cx="301.1" cy="212.6" rx="2.0" ry="0.8" fill="#B6E2BE" transform="rotate(28 301.1 212.6)"/>
<ellipse cx="292.3" cy="254.3" rx="1.7" ry="1.6" fill="#6CC5B4" transform="rotate(-4 292.3 254.3)"/>
<ellipse cx="317.0" cy="207.1" rx="0.8" ry="0.5" fill="#B6E2BE" transform="rotate(-23 317.0 207.1)"/>
<ellipse cx="298.7" cy="258.5" rx="1.2" ry="0.9" fill="#A6DCB8" transform="rotate(30 298.7 258.5)"/>
<ellipse cx="262.1" cy="231.4" rx="1.6" ry="1.2" fill="#B6E2BE" transform="rotate(29 262.1 231.4)"/>
<ellipse cx="272.0" cy="274.6" rx="1.7" ry="1.1" fill="#A6DCB8" transform="rotate(22 272.0 274.6)"/>
<ellipse cx="329.1" cy="217.1" rx="0.8" ry="0.8" fill="#B6E2BE" transform="rotate(-25 329.1 217.1)"/>
<ellipse cx="288.2" cy="218.7" rx="1.8" ry="1.7" fill="#A6DCB8" transform="rotate(-12 288.2 218.7)"/>
<ellipse cx="293.1" cy="211.8" rx="1.4" ry="0.9" fill="#A6DCB8" transform="rotate(29 293.1 211.8)"/>
<ellipse cx="354.9" cy="216.1" rx="1.6" ry="1.1" fill="#B6E2BE" transform="rotate(-11 354.9 216.1)"/>
<ellipse cx="300.2" cy="203.4" rx="2.1" ry="1.1" fill="#B6E2BE" transform="rotate(11 300.2 203.4)"/>
<ellipse cx="338.3" cy="243.6" rx="1.4" ry="1.0" fill="#A6DCB8" transform="rotate(-27 338.3 243.6)"/>
<ellipse cx="271.0" cy="247.6" rx="2.2" ry="0.9" fill="#B6E2BE" transform="rotate(-3 271.0 247.6)"/>
<ellipse cx="308.0" cy="250.7" rx="1.1" ry="1.1" fill="#A6DCB8" transform="rotate(-9 308.0 250.7)"/>
<ellipse cx="316.6" cy="223.2" rx="1.8" ry="1.6" fill="#B6E2BE" transform="rotate(28 316.6 223.2)"/>
<ellipse cx="313.2" cy="232.4" rx="1.6" ry="0.8" fill="#B6E2BE" transform="rotate(27 313.2 232.4)"/>
<ellipse cx="296.7" cy="255.7" rx="0.9" ry="0.7" fill="#B6E2BE" transform="rotate(13 296.7 255.7)"/>
<ellipse cx="314.9" cy="235.3" rx="2.0" ry="1.8" fill="#A6DCB8" transform="rotate(27 314.9 235.3)"/>
<ellipse cx="329.5" cy="200.6" rx="1.0" ry="0.7" fill="#B6E2BE" transform="rotate(-11 329.5 200.6)"/>
<ellipse cx="254.1" cy="258.2" rx="1.6" ry="0.9" fill="#B6E2BE" transform="rotate(-6 254.1 258.2)"/>
<ellipse cx="329.0" cy="200.4" rx="1.1" ry="0.9" fill="#A6DCB8" transform="rotate(7 329.0 200.4)"/>
<ellipse cx="281.5" cy="203.3" rx="1.0" ry="1.0" fill="#6CC5B4" transform="rotate(-10 281.5 203.3)"/>
<ellipse cx="272.7" cy="271.7" rx="1.0" ry="0.9" fill="#6CC5B4" transform="rotate(2 272.7 271.7)"/>
<ellipse cx="348.7" cy="215.4" rx="1.3" ry="1.2" fill="#B6E2BE" transform="rotate(-14 348.7 215.4)"/>
<ellipse cx="270.5" cy="244.4" rx="1.5" ry="0.9" fill="#A6DCB8" transform="rotate(10 270.5 244.4)"/>
<ellipse cx="276.2" cy="270.7" rx="1.5" ry="0.6" fill="#B6E2BE" transform="rotate(27 276.2 270.7)"/>
<ellipse cx="256.9" cy="240.3" rx="2.1" ry="1.0" fill="#B6E2BE" transform="rotate(12 256.9 240.3)"/>
<ellipse cx="260.8" cy="251.5" rx="2.1" ry="1.2" fill="#A6DCB8" transform="rotate(-19 260.8 251.5)"/>
<ellipse cx="285.6" cy="225.5" rx="1.9" ry="1.4" fill="#A6DCB8" transform="rotate(-16 285.6 225.5)"/>
<ellipse cx="301.8" cy="250.9" rx="1.1" ry="0.6" fill="#A6DCB8" transform="rotate(0 301.8 250.9)"/>
<ellipse cx="262.3" cy="260.0" rx="1.6" ry="0.7" fill="#B6E2BE" transform="rotate(22 262.3 260.0)"/>
<ellipse cx="320.5" cy="213.4" rx="1.2" ry="1.1" fill="#B6E2BE" transform="rotate(10 320.5 213.4)"/>
<ellipse cx="305.4" cy="267.9" rx="0.8" ry="0.6" fill="#A6DCB8" transform="rotate(-15 305.4 267.9)"/>
<ellipse cx="259.8" cy="237.6" rx="1.6" ry="1.1" fill="#A6DCB8" transform="rotate(5 259.8 237.6)"/>
<ellipse cx="256.2" cy="222.4" rx="2.0" ry="1.5" fill="#A6DCB8" transform="rotate(14 256.2 222.4)"/>
<ellipse cx="343.1" cy="221.1" rx="0.9" ry="0.8" fill="#6CC5B4" transform="rotate(-6 343.1 221.1)"/>
<ellipse cx="328.8" cy="222.2" rx="2.2" ry="1.5" fill="#6CC5B4" transform="rotate(5 328.8 222.2)"/>
<ellipse cx="322.3" cy="209.3" rx="0.7" ry="0.7" fill="#B6E2BE" transform="rotate(-8 322.3 209.3)"/>
<ellipse cx="314.3" cy="254.1" rx="1.3" ry="1.2" fill="#B6E2BE" transform="rotate(15 314.3 254.1)"/>
<ellipse cx="323.0" cy="210.3" rx="1.5" ry="1.2" fill="#A6DCB8" transform="rotate(23 323.0 210.3)"/>
<ellipse cx="322.3" cy="239.0" rx="0.9" ry="0.5" fill="#B6E2BE" transform="rotate(5 322.3 239.0)"/>
<ellipse cx="274.1" cy="257.9" rx="1.3" ry="1.0" fill="#B6E2BE" transform="rotate(-26 274.1 257.9)"/>
<ellipse cx="305.1" cy="218.9" rx="0.9" ry="0.4" fill="#B6E2BE" transform="rotate(-16 305.1 218.9)"/>
<ellipse cx="327.7" cy="249.0" rx="0.8" ry="0.6" fill="#A6DCB8" transform="rotate(19 327.7 249.0)"/>
<ellipse cx="314.1" cy="224.2" rx="1.6" ry="1.4" fill="#B6E2BE" transform="rotate(7 314.1 224.2)"/>
<ellipse cx="328.9" cy="219.3" rx="2.1" ry="1.0" fill="#B6E2BE" transform="rotate(-22 328.9 219.3)"/>
<ellipse cx="253.9" cy="249.9" rx="2.0" ry="0.9" fill="#A6DCB8" transform="rotate(-21 253.9 249.9)"/>
<ellipse cx="320.5" cy="265.2" rx="1.8" ry="1.3" fill="#B6E2BE" transform="rotate(4 320.5 265.2)"/>
<ellipse cx="287.0" cy="240.6" rx="1.0" ry="0.6" fill="#6CC5B4" transform="rotate(-8 287.0 240.6)"/>
<ellipse cx="260.3" cy="256.5" rx="1.5" ry="0.9" fill="#B6E2BE" transform="rotate(1 260.3 256.5)"/>
<ellipse cx="307.2" cy="252.7" rx="1.0" ry="0.8" fill="#A6DCB8" transform="rotate(19 307.2 252.7)"/>
<ellipse cx="275.7" cy="214.1" rx="0.8" ry="0.7" fill="#6CC5B4" transform="rotate(-21 275.7 214.1)"/>
<ellipse cx="333.4" cy="246.3" rx="1.5" ry="0.9" fill="#B6E2BE" transform="rotate(20 333.4 246.3)"/>
<ellipse cx="334.7" cy="200.8" rx="1.8" ry="1.0" fill="#6CC5B4" transform="rotate(-6 334.7 200.8)"/>
<ellipse cx="262.0" cy="228.0" rx="1.2" ry="0.7" fill="#B6E2BE" transform="rotate(-24 262.0 228.0)"/>
<ellipse cx="332.0" cy="207.8" rx="2.1" ry="0.9" fill="#B6E2BE" transform="rotate(-6 332.0 207.8)"/>
<ellipse cx="283.2" cy="220.6" rx="0.8" ry="0.5" fill="#B6E2BE" transform="rotate(27 283.2 220.6)"/>
<ellipse cx="275.3" cy="233.6" rx="1.0" ry="0.7" fill="#B6E2BE" transform="rotate(19 275.3 233.6)"/>
<ellipse cx="288.2" cy="217.7" rx="1.6" ry="1.4" fill="#B6E2BE" transform="rotate(26 288.2 217.7)"/>
<ellipse cx="330.2" cy="253.8" rx="1.0" ry="1.0" fill="#B6E2BE" transform="rotate(28 330.2 253.8)"/>
<ellipse cx="323.3" cy="265.6" rx="1.5" ry="1.4" fill="#B6E2BE" transform="rotate(24 323.3 265.6)"/>
<ellipse cx="319.6" cy="253.4" rx="2.0" ry="1.6" fill="#A6DCB8" transform="rotate(2 319.6 253.4)"/>
<ellipse cx="277.1" cy="215.3" rx="2.0" ry="1.0" fill="#B6E2BE" transform="rotate(25 277.1 215.3)"/>
<ellipse cx="274.2" cy="266.0" rx="2.0" ry="1.8" fill="#A6DCB8" transform="rotate(18 274.2 266.0)"/>
<ellipse cx="334.8" cy="233.3" rx="2.1" ry="1.3" fill="#A6DCB8" transform="rotate(16 334.8 233.3)"/>
<ellipse cx="269.6" cy="209.3" rx="2.1" ry="1.6" fill="#B6E2BE" transform="rotate(4 269.6 209.3)"/>
<ellipse cx="298.3" cy="247.5" rx="0.7" ry="0.7" fill="#A6DCB8" transform="rotate(20 298.3 247.5)"/>
<ellipse cx="261.3" cy="257.5" rx="1.5" ry="0.7" fill="#B6E2BE" transform="rotate(-6 261.3 257.5)"/>
<ellipse cx="271.8" cy="262.1" rx="1.8" ry="1.0" fill="#B6E2BE" transform="rotate(15 271.8 262.1)"/>
<ellipse cx="325.9" cy="261.9" rx="2.2" ry="1.3" fill="#B6E2BE" transform="rotate(15 325.9 261.9)"/>
<ellipse cx="328.5" cy="248.8" rx="2.2" ry="1.7" fill="#B6E2BE" transform="rotate(-5 328.5 248.8)"/>
<ellipse cx="327.0" cy="224.2" rx="2.0" ry="0.9" fill="#A6DCB8" transform="rotate(-13 327.0 224.2)"/>
<ellipse cx="330.4" cy="259.8" rx="1.7" ry="1.3" fill="#6CC5B4" transform="rotate(12 330.4 259.8)"/>
<ellipse cx="305.5" cy="243.1" rx="0.9" ry="0.8" fill="#B6E2BE" transform="rotate(10 305.5 243.1)"/>
<ellipse cx="334.2" cy="236.7" rx="1.0" ry="0.6" fill="#B6E2BE" transform="rotate(-22 334.2 236.7)"/>
<ellipse cx="316.2" cy="260.0" rx="1.7" ry="0.9" fill="#B6E2BE" transform="rotate(-16 316.2 260.0)"/>
<ellipse cx="298.2" cy="271.6" rx="1.3" ry="0.7" fill="#B6E2BE" transform="rotate(-8 298.2 271.6)"/>
<ellipse cx="338.5" cy="233.2" rx="2.2" ry="1.8" fill="#6CC5B4" transform="rotate(15 338.5 233.2)"/>
<ellipse cx="312.8" cy="235.9" rx="1.0" ry="0.8" fill="#B6E2BE" transform="rotate(30 312.8 235.9)"/>
<ellipse cx="277.0" cy="251.3" rx="1.3" ry="0.9" fill="#B6E2BE" transform="rotate(-8 277.0 251.3)"/>
<ellipse cx="258.5" cy="256.0" rx="1.3" ry="1.0" fill="#B6E2BE" transform="rotate(12 258.5 256.0)"/>
<ellipse cx="273.4" cy="242.7" rx="1.1" ry="0.7" fill="#B6E2BE" transform="rotate(3 273.4 242.7)"/>
<ellipse cx="307.4" cy="218.3" rx="1.9" ry="1.7" fill="#B6E2BE" transform="rotate(-24 307.4 218.3)"/>
<ellipse cx="349.1" cy="232.3" rx="1.3" ry="0.8" fill="#B6E2BE" transform="rotate(-11 349.1 232.3)"/>
<ellipse cx="296.2" cy="205.8" rx="1.4" ry="0.7" fill="#B6E2BE" transform="rotate(-1 296.2 205.8)"/>
<ellipse cx="331.6" cy="257.0" rx="1.3" ry="1.0" fill="#B6E2BE" transform="rotate(-10 331.6 257.0)"/>
<ellipse cx="294.4" cy="200.4" rx="1.1" ry="0.9" fill="#B6E2BE" transform="rotate(10 294.4 200.4)"/>
<ellipse cx="323.1" cy="243.7" rx="1.3" ry="1.1" fill="#A6DCB8" transform="rotate(27 323.1 243.7)"/>
<ellipse cx="341.5" cy="244.1" rx="1.6" ry="1.0" fill="#6CC5B4" transform="rotate(-21 341.5 244.1)"/>
<ellipse cx="329.0" cy="238.3" rx="1.4" ry="1.1" fill="#B6E2BE" transform="rotate(17 329.0 238.3)"/>
<ellipse cx="287.5" cy="255.3" rx="1.3" ry="0.5" fill="#B6E2BE" transform="rotate(-25 287.5 255.3)"/>
<ellipse cx="345.7" cy="218.1" rx="1.7" ry="1.4" fill="#A6DCB8" transform="rotate(6 345.7 218.1)"/>
<ellipse cx="280.5" cy="227.5" rx="0.7" ry="0.4" fill="#A6DCB8" transform="rotate(-2 280.5 227.5)"/>
<ellipse cx="286.1" cy="208.0" rx="2.0" ry="0.8" fill="#6CC5B4" transform="rotate(12 286.1 208.0)"/>
<ellipse cx="291.3" cy="253.6" rx="1.4" ry="0.7" fill="#A6DCB8" transform="rotate(4 291.3 253.6)"/>
<ellipse cx="299.9" cy="225.5" rx="1.3" ry="0.6" fill="#B6E2BE" transform="rotate(27 299.9 225.5)"/>
<ellipse cx="339.7" cy="204.7" rx="2.0" ry="0.9" fill="#B6E2BE" transform="rotate(20 339.7 204.7)"/>
<ellipse cx="286.0" cy="250.4" rx="2.0" ry="1.0" fill="#A6DCB8" transform="rotate(24 286.0 250.4)"/>
<ellipse cx="307.6" cy="221.3" rx="1.1" ry="0.9" fill="#B6E2BE" transform="rotate(-10 307.6 221.3)"/>
<ellipse cx="276.5" cy="254.0" rx="1.5" ry="0.8" fill="#B6E2BE" transform="rotate(12 276.5 254.0)"/>
<ellipse cx="287.2" cy="264.9" rx="1.6" ry="1.0" fill="#A6DCB8" transform="rotate(-0 287.2 264.9)"/>
<ellipse cx="292.2" cy="258.6" rx="1.9" ry="0.8" fill="#B6E2BE" transform="rotate(24 292.2 258.6)"/>
<ellipse cx="274.9" cy="198.7" rx="2.0" ry="1.8" fill="#6CC5B4" transform="rotate(27 274.9 198.7)"/>
<ellipse cx="305.8" cy="245.6" rx="1.6" ry="1.3" fill="#A6DCB8" transform="rotate(24 305.8 245.6)"/>
<ellipse cx="321.2" cy="226.9" rx="2.0" ry="1.2" fill="#6CC5B4" transform="rotate(-5 321.2 226.9)"/>
<ellipse cx="258.5" cy="243.1" rx="1.8" ry="0.7" fill="#A6DCB8" transform="rotate(5 258.5 243.1)"/>
<ellipse cx="261.2" cy="234.3" rx="1.3" ry="0.7" fill="#6CC5B4" transform="rotate(29 261.2 234.3)"/>
<ellipse cx="320.2" cy="206.5" rx="0.8" ry="0.4" fill="#B6E2BE" transform="rotate(-16 320.2 206.5)"/>
<ellipse cx="308.0" cy="248.9" rx="2.0" ry="0.9" fill="#B6E2BE" transform="rotate(25 308.0 248.9)"/>
<ellipse cx="342.3" cy="249.1" rx="2.1" ry="1.5" fill="#B6E2BE" transform="rotate(-11 342.3 249.1)"/>
<ellipse cx="260.0" cy="205.0" rx="1.7" ry="1.0" fill="#B6E2BE" transform="rotate(30 260.0 205.0)"/>
<ellipse cx="352.6" cy="217.3" rx="2.2" ry="1.7" fill="#B6E2BE" transform="rotate(17 352.6 217.3)"/>
<ellipse cx="303.0" cy="196.8" rx="1.8" ry="1.3" fill="#6CC5B4" transform="rotate(-15 303.0 196.8)"/>
<ellipse cx="317.9" cy="257.1" rx="2.1" ry="0.9" fill="#B6E2BE" transform="rotate(7 317.9 257.1)"/>
<ellipse cx="332.7" cy="241.6" rx="1.0" ry="0.4" fill="#A6DCB8" transform="rotate(22 332.7 241.6)"/>
<ellipse cx="293.3" cy="242.5" rx="0.7" ry="0.7" fill="#B6E2BE" transform="rotate(-13 293.3 242.5)"/>
<ellipse cx="343.4" cy="204.0" rx="1.7" ry="1.2" fill="#B6E2BE" transform="rotate(26 343.4 204.0)"/>
<ellipse cx="267.3" cy="244.5" rx="1.0" ry="0.6" fill="#A6DCB8" transform="rotate(30 267.3 244.5)"/>
<ellipse cx="339.0" cy="201.6" rx="1.2" ry="0.9" fill="#B6E2BE" transform="rotate(27 339.0 201.6)"/>
<ellipse cx="331.9" cy="199.9" rx="0.8" ry="0.7" fill="#B6E2BE" transform="rotate(-16 331.9 199.9)"/>
<ellipse cx="280.0" cy="210.1" rx="1.8" ry="1.0" fill="#6CC5B4" transform="rotate(-6 280.0 210.1)"/>
<ellipse cx="298.4" cy="231.9" rx="2.0" ry="1.6" fill="#B6E2BE" transform="rotate(-3 298.4 231.9)"/>
<ellipse cx="281.3" cy="215.9" rx="2.2" ry="1.0" fill="#6CC5B4" transform="rotate(-27 281.3 215.9)"/>
<ellipse cx="275.5" cy="215.3" rx="2.1" ry="1.8" fill="#B6E2BE" transform="rotate(19 275.5 215.3)"/>
<ellipse cx="331.1" cy="230.3" rx="1.5" ry="0.7" fill="#6CC5B4" transform="rotate(-13 331.1 230.3)"/>
<ellipse cx="291.9" cy="205.1" rx="0.8" ry="0.6" fill="#A6DCB8" transform="rotate(-21 291.9 205.1)"/>
<ellipse cx="299.1" cy="246.2" rx="1.8" ry="1.0" fill="#B6E2BE" transform="rotate(-13 299.1 246.2)"/>
<ellipse cx="266.7" cy="219.9" rx="1.8" ry="0.9" fill="#A6DCB8" transform="rotate(-14 266.7 219.9)"/>
<ellipse cx="314.1" cy="227.6" rx="0.8" ry="0.5" fill="#A6DCB8" transform="rotate(8 314.1 227.6)"/>
<ellipse cx="281.2" cy="223.7" rx="2.1" ry="2.0" fill="#A6DCB8" transform="rotate(6 281.2 223.7)"/>
<ellipse cx="271.7" cy="256.6" rx="1.1" ry="1.0" fill="#B6E2BE" transform="rotate(10 271.7 256.6)"/>
<ellipse cx="348.0" cy="221.4" rx="2.0" ry="1.1" fill="#B6E2BE" transform="rotate(7 348.0 221.4)"/>
<ellipse cx="338.4" cy="232.9" rx="1.0" ry="0.7" fill="#A6DCB8" transform="rotate(3 338.4 232.9)"/>
<ellipse cx="283.5" cy="203.6" rx="1.8" ry="0.8" fill="#A6DCB8" transform="rotate(-2 283.5 203.6)"/>
<ellipse cx="282.7" cy="253.2" rx="2.1" ry="1.8" fill="#A6DCB8" transform="rotate(-12 282.7 253.2)"/>
<ellipse cx="278.6" cy="239.0" rx="1.7" ry="1.1" fill="#A6DCB8" transform="rotate(-20 278.6 239.0)"/>
<ellipse cx="295.7" cy="225.0" rx="1.7" ry="0.8" fill="#6CC5B4" transform="rotate(-21 295.7 225.0)"/>
<ellipse cx="328.8" cy="212.3" rx="0.9" ry="0.8" fill="#B6E2BE" transform="rotate(29 328.8 212.3)"/>
<ellipse cx="318.5" cy="202.2" rx="1.2" ry="1.0" fill="#A6DCB8" transform="rotate(24 318.5 202.2)"/>
<ellipse cx="319.2" cy="213.8" rx="2.0" ry="1.6" fill="#A6DCB8" transform="rotate(23 319.2 213.8)"/>
<ellipse cx="327.4" cy="261.8" rx="1.2" ry="1.2" fill="#B6E2BE" transform="rotate(-25 327.4 261.8)"/>
<ellipse cx="314.0" cy="213.1" rx="0.9" ry="0.6" fill="#A6DCB8" transform="rotate(-6 314.0 213.1)"/>
<ellipse cx="264.8" cy="206.4" rx="0.9" ry="0.8" fill="#A6DCB8" transform="rotate(-5 264.8 206.4)"/>
<ellipse cx="260.8" cy="237.9" rx="1.8" ry="1.3" fill="#B6E2BE" transform="rotate(-8 260.8 237.9)"/>
<ellipse cx="335.0" cy="203.2" rx="1.0" ry="0.9" fill="#B6E2BE" transform="rotate(21 335.0 203.2)"/>
<ellipse cx="296.0" cy="219.1" rx="1.5" ry="1.0" fill="#B6E2BE" transform="rotate(-19 296.0 219.1)"/>
<ellipse cx="278.7" cy="224.2" rx="1.7" ry="1.3" fill="#B6E2BE" transform="rotate(-4 278.7 224.2)"/>
<ellipse cx="296.1" cy="245.1" rx="1.3" ry="1.3" fill="#B6E2BE" transform="rotate(-26 296.1 245.1)"/>
<ellipse cx="286.9" cy="241.2" rx="1.8" ry="0.8" fill="#B6E2BE" transform="rotate(6 286.9 241.2)"/>
<ellipse cx="255.2" cy="221.2" rx="1.3" ry="0.7" fill="#B6E2BE" transform="rotate(-12 255.2 221.2)"/>
<ellipse cx="254.6" cy="230.1" rx="1.1" ry="1.0" fill="#A6DCB8" transform="rotate(8 254.6 230.1)"/>
<ellipse cx="344.8" cy="229.4" rx="1.5" ry="0.9" fill="#6CC5B4" transform="rotate(23 344.8 229.4)"/>
<ellipse cx="263.0" cy="238.3" rx="0.9" ry="0.5" fill="#B6E2BE" transform="rotate(-11 263.0 238.3)"/>
<ellipse cx="259.5" cy="238.7" rx="1.2" ry="1.0" fill="#A6DCB8" transform="rotate(-5 259.5 238.7)"/>
<ellipse cx="285.9" cy="235.9" rx="1.6" ry="1.0" fill="#B6E2BE" transform="rotate(22 285.9 235.9)"/>
<ellipse cx="333.2" cy="231.8" rx="2.0" ry="1.4" fill="#B6E2BE" transform="rotate(9 333.2 231.8)"/>
<ellipse cx="300.7" cy="238.0" rx="1.6" ry="0.8" fill="#A6DCB8" transform="rotate(-8 300.7 238.0)"/>
<ellipse cx="284.2" cy="248.2" rx="1.6" ry="1.0" fill="#B6E2BE" transform="rotate(-7 284.2 248.2)"/>
<ellipse cx="299.2" cy="269.9" rx="1.2" ry="0.9" fill="#B6E2BE" transform="rotate(14 299.2 269.9)"/>
<ellipse cx="258.0" cy="262.5" rx="2.0" ry="1.1" fill="#A6DCB8" transform="rotate(-28 258.0 262.5)"/>
<ellipse cx="256.5" cy="217.8" rx="1.5" ry="1.4" fill="#B6E2BE" transform="rotate(-23 256.5 217.8)"/>
<ellipse cx="316.2" cy="204.7" rx="1.8" ry="1.3" fill="#B6E2BE" transform="rotate(-21 316.2 204.7)"/>
<ellipse cx="290.1" cy="213.7" rx="2.0" ry="1.6" fill="#A6DCB8" transform="rotate(-28 290.1 213.7)"/>
<ellipse cx="265.9" cy="202.9" rx="0.9" ry="0.8" fill="#B6E2BE" transform="rotate(22 265.9 202.9)"/>
<ellipse cx="310.0" cy="249.2" rx="1.6" ry="0.8" fill="#B6E2BE" transform="rotate(23 310.0 249.2)"/>
<ellipse cx="268.8" cy="267.1" rx="1.8" ry="1.1" fill="#B6E2BE" transform="rotate(-8 268.8 267.1)"/>
<ellipse cx="254.3" cy="243.6" rx="1.7" ry="1.5" fill="#B6E2BE" transform="rotate(24 254.3 243.6)"/>
<ellipse cx="324.3" cy="258.9" rx="0.8" ry="0.5" fill="#A6DCB8" transform="rotate(16 324.3 258.9)"/>
<ellipse cx="253.7" cy="253.8" rx="2.1" ry="1.8" fill="#B6E2BE" transform="rotate(-18 253.7 253.8)"/>
<ellipse cx="267.9" cy="266.9" rx="1.8" ry="1.1" fill="#6CC5B4" transform="rotate(-2 267.9 266.9)"/>
<ellipse cx="294.0" cy="199.5" rx="1.9" ry="1.4" fill="#A6DCB8" transform="rotate(10 294.0 199.5)"/>
<ellipse cx="272.3" cy="214.5" rx="1.3" ry="1.0" fill="#B6E2BE" transform="rotate(-15 272.3 214.5)"/>
<ellipse cx="337.7" cy="203.4" rx="1.9" ry="1.9" fill="#A6DCB8" transform="rotate(15 337.7 203.4)"/>
<ellipse cx="290.8" cy="213.0" rx="2.1" ry="1.7" fill="#6CC5B4" transform="rotate(-1 290.8 213.0)"/>
<ellipse cx="320.6" cy="210.0" rx="1.4" ry="1.0" fill="#A6DCB8" transform="rotate(29 320.6 210.0)"/>
<ellipse cx="254.3" cy="258.4" rx="0.8" ry="0.6" fill="#A6DCB8" transform="rotate(29 254.3 258.4)"/>
<ellipse cx="249.1" cy="241.6" rx="0.9" ry="0.5" fill="#6CC5B4" transform="rotate(26 249.1 241.6)"/>
<ellipse cx="280.0" cy="237.2" rx="1.2" ry="0.7" fill="#A6DCB8" transform="rotate(-12 280.0 237.2)"/>
<ellipse cx="270.3" cy="233.6" rx="1.9" ry="1.7" fill="#45B7C6" transform="rotate(-15 270.3 233.6)"/>
<ellipse cx="277.3" cy="246.7" rx="1.5" ry="1.2" fill="#6CC5B4" transform="rotate(-24 277.3 246.7)"/>
<ellipse cx="275.9" cy="244.0" rx="0.7" ry="0.5" fill="#6CC5B4" transform="rotate(17 275.9 244.0)"/>
<ellipse cx="246.1" cy="258.8" rx="1.9" ry="1.9" fill="#A6DCB8" transform="rotate(-24 246.1 258.8)"/>
<ellipse cx="247.1" cy="267.3" rx="0.7" ry="0.4" fill="#6CC5B4" transform="rotate(-4 247.1 267.3)"/>
<ellipse cx="276.4" cy="239.1" rx="2.1" ry="1.5" fill="#A6DCB8" transform="rotate(4 276.4 239.1)"/>
<ellipse cx="246.1" cy="267.2" rx="2.0" ry="0.9" fill="#A6DCB8" transform="rotate(-18 246.1 267.2)"/>
<ellipse cx="279.7" cy="238.0" rx="1.4" ry="0.9" fill="#45B7C6" transform="rotate(-26 279.7 238.0)"/>
<ellipse cx="254.2" cy="241.8" rx="1.2" ry="0.8" fill="#45B7C6" transform="rotate(29 254.2 241.8)"/>
<ellipse cx="281.7" cy="254.2" rx="2.2" ry="1.0" fill="#6CC5B4" transform="rotate(-9 281.7 254.2)"/>
<ellipse cx="246.4" cy="246.0" rx="2.0" ry="1.3" fill="#6CC5B4" transform="rotate(-16 246.4 246.0)"/>
<ellipse cx="247.4" cy="257.2" rx="0.9" ry="0.7" fill="#A6DCB8" transform="rotate(-11 247.4 257.2)"/>
<ellipse cx="247.5" cy="253.3" rx="1.0" ry="0.5" fill="#6CC5B4" transform="rotate(-6 247.5 253.3)"/>
<ellipse cx="250.1" cy="250.2" rx="1.8" ry="1.7" fill="#6CC5B4" transform="rotate(-22 250.1 250.2)"/>
<ellipse cx="266.9" cy="264.8" rx="1.4" ry="1.0" fill="#A6DCB8" transform="rotate(17 266.9 264.8)"/>
<ellipse cx="268.2" cy="270.0" rx="2.0" ry="1.2" fill="#45B7C6" transform="rotate(24 268.2 270.0)"/>
<ellipse cx="275.5" cy="268.0" rx="0.8" ry="0.7" fill="#6CC5B4" transform="rotate(28 275.5 268.0)"/>
<ellipse cx="267.8" cy="256.8" rx="1.5" ry="0.6" fill="#6CC5B4" transform="rotate(-22 267.8 256.8)"/>
<ellipse cx="263.0" cy="246.0" rx="1.3" ry="1.3" fill="#A6DCB8" transform="rotate(11 263.0 246.0)"/>
<ellipse cx="251.4" cy="234.7" rx="0.9" ry="0.5" fill="#45B7C6" transform="rotate(10 251.4 234.7)"/>
<ellipse cx="277.0" cy="239.1" rx="1.2" ry="1.1" fill="#45B7C6" transform="rotate(-24 277.0 239.1)"/>
<ellipse cx="271.2" cy="232.2" rx="1.4" ry="0.6" fill="#45B7C6" transform="rotate(-28 271.2 232.2)"/>
<ellipse cx="269.4" cy="260.7" rx="1.8" ry="1.0" fill="#6CC5B4" transform="rotate(-16 269.4 260.7)"/>
<ellipse cx="244.0" cy="252.2" rx="1.5" ry="1.2" fill="#A6DCB8" transform="rotate(-2 244.0 252.2)"/>
<ellipse cx="257.3" cy="255.1" rx="1.6" ry="0.8" fill="#A6DCB8" transform="rotate(22 257.3 255.1)"/>
<ellipse cx="269.8" cy="252.4" rx="2.0" ry="1.5" fill="#6CC5B4" transform="rotate(28 269.8 252.4)"/>
<ellipse cx="260.3" cy="268.3" rx="2.1" ry="1.5" fill="#A6DCB8" transform="rotate(14 260.3 268.3)"/>
<ellipse cx="244.1" cy="261.5" rx="1.9" ry="1.1" fill="#A6DCB8" transform="rotate(-5 244.1 261.5)"/>
<ellipse cx="263.9" cy="228.8" rx="0.9" ry="0.9" fill="#45B7C6" transform="rotate(26 263.9 228.8)"/>
<ellipse cx="267.0" cy="233.5" rx="1.3" ry="1.2" fill="#6CC5B4" transform="rotate(17 267.0 233.5)"/>
<ellipse cx="262.0" cy="258.7" rx="1.6" ry="1.1" fill="#6CC5B4" transform="rotate(-17 262.0 258.7)"/>
<ellipse cx="245.7" cy="265.8" rx="1.9" ry="1.7" fill="#6CC5B4" transform="rotate(-29 245.7 265.8)"/>
<ellipse cx="267.8" cy="258.1" rx="2.1" ry="1.8" fill="#45B7C6" transform="rotate(7 267.8 258.1)"/>
<ellipse cx="268.6" cy="250.3" rx="1.4" ry="1.1" fill="#A6DCB8" transform="rotate(-24 268.6 250.3)"/>
<ellipse cx="257.7" cy="231.1" rx="1.8" ry="1.1" fill="#6CC5B4" transform="rotate(23 257.7 231.1)"/>
<ellipse cx="256.8" cy="245.9" rx="1.8" ry="1.1" fill="#6CC5B4" transform="rotate(6 256.8 245.9)"/>
<ellipse cx="249.7" cy="250.1" rx="1.2" ry="0.8" fill="#A6DCB8" transform="rotate(26 249.7 250.1)"/>
<ellipse cx="268.3" cy="243.1" rx="1.6" ry="0.7" fill="#45B7C6" transform="rotate(-19 268.3 243.1)"/>
<ellipse cx="256.5" cy="269.2" rx="1.4" ry="0.9" fill="#6CC5B4" transform="rotate(-25 256.5 269.2)"/>
<ellipse cx="256.1" cy="253.4" rx="1.2" ry="0.7" fill="#A6DCB8" transform="rotate(24 256.1 253.4)"/>
<ellipse cx="258.7" cy="229.4" rx="1.2" ry="1.0" fill="#45B7C6" transform="rotate(16 258.7 229.4)"/>
<ellipse cx="268.1" cy="234.1" rx="1.0" ry="0.8" fill="#45B7C6" transform="rotate(5 268.1 234.1)"/>
<ellipse cx="250.8" cy="246.1" rx="1.7" ry="0.7" fill="#A6DCB8" transform="rotate(19 250.8 246.1)"/>
<ellipse cx="242.8" cy="231.3" rx="1.2" ry="1.1" fill="#A6DCB8" transform="rotate(22 242.8 231.3)"/>
<ellipse cx="263.8" cy="232.8" rx="1.1" ry="0.5" fill="#45B7C6" transform="rotate(-13 263.8 232.8)"/>
<ellipse cx="277.2" cy="256.2" rx="1.7" ry="0.7" fill="#A6DCB8" transform="rotate(-22 277.2 256.2)"/>
<ellipse cx="253.5" cy="260.3" rx="1.8" ry="1.1" fill="#A6DCB8" transform="rotate(21 253.5 260.3)"/>
<ellipse cx="262.2" cy="237.1" rx="1.9" ry="1.0" fill="#6CC5B4" transform="rotate(10 262.2 237.1)"/>
<ellipse cx="240.6" cy="226.9" rx="1.0" ry="0.6" fill="#A6DCB8" transform="rotate(12 240.6 226.9)"/>
<ellipse cx="269.4" cy="238.7" rx="1.5" ry="0.6" fill="#6CC5B4" transform="rotate(-1 269.4 238.7)"/>
<ellipse cx="267.7" cy="233.8" rx="1.8" ry="1.3" fill="#45B7C6" transform="rotate(-11 267.7 233.8)"/>
<ellipse cx="271.0" cy="243.7" rx="0.7" ry="0.4" fill="#45B7C6" transform="rotate(3 271.0 243.7)"/>
<ellipse cx="264.4" cy="251.0" rx="1.4" ry="0.8" fill="#45B7C6" transform="rotate(25 264.4 251.0)"/>
<ellipse cx="244.8" cy="251.5" rx="1.9" ry="1.5" fill="#45B7C6" transform="rotate(-6 244.8 251.5)"/>
<ellipse cx="283.3" cy="257.6" rx="2.0" ry="1.0" fill="#45B7C6" transform="rotate(30 283.3 257.6)"/>
<ellipse cx="244.9" cy="259.3" rx="1.4" ry="0.7" fill="#6CC5B4" transform="rotate(-2 244.9 259.3)"/>
<ellipse cx="264.1" cy="241.8" rx="2.0" ry="1.0" fill="#45B7C6" transform="rotate(-9 264.1 241.8)"/>
<ellipse cx="303.3" cy="100.8" rx="1.0" ry="0.5" fill="#6CC5B4" transform="rotate(-7 303.3 100.8)"/>
<ellipse cx="320.9" cy="86.4" rx="2.3" ry="1.0" fill="#A6DCB8" transform="rotate(-4 320.9 86.4)"/>
<ellipse cx="313.4" cy="113.0" rx="2.5" ry="1.5" fill="#A6DCB8" transform="rotate(8 313.4 113.0)"/>
<ellipse cx="302.4" cy="100.3" rx="1.4" ry="1.4" fill="#A6DCB8" transform="rotate(25 302.4 100.3)"/>
<ellipse cx="328.5" cy="106.9" rx="1.0" ry="0.8" fill="#6CC5B4" transform="rotate(7 328.5 106.9)"/>
<ellipse cx="323.3" cy="98.2" rx="1.2" ry="0.6" fill="#6CC5B4" transform="rotate(11 323.3 98.2)"/>
<ellipse cx="308.1" cy="96.8" rx="1.3" ry="0.8" fill="#A6DCB8" transform="rotate(-25 308.1 96.8)"/>
<ellipse cx="293.0" cy="101.0" rx="1.6" ry="1.4" fill="#A6DCB8" transform="rotate(4 293.0 101.0)"/>
<ellipse cx="328.5" cy="93.7" rx="1.1" ry="0.7" fill="#A6DCB8" transform="rotate(17 328.5 93.7)"/>
<ellipse cx="302.1" cy="99.5" rx="1.6" ry="0.9" fill="#6CC5B4" transform="rotate(-29 302.1 99.5)"/>
<ellipse cx="319.8" cy="119.4" rx="1.5" ry="1.3" fill="#A6DCB8" transform="rotate(23 319.8 119.4)"/>
<ellipse cx="319.6" cy="90.7" rx="1.3" ry="0.8" fill="#A6DCB8" transform="rotate(3 319.6 90.7)"/>
<ellipse cx="309.4" cy="120.0" rx="2.1" ry="1.3" fill="#A6DCB8" transform="rotate(-21 309.4 120.0)"/>
<ellipse cx="314.9" cy="105.6" rx="1.0" ry="0.6" fill="#6CC5B4" transform="rotate(-7 314.9 105.6)"/>
<ellipse cx="305.9" cy="115.7" rx="1.3" ry="0.7" fill="#6CC5B4" transform="rotate(-17 305.9 115.7)"/>
<ellipse cx="313.8" cy="117.4" rx="1.3" ry="0.5" fill="#6CC5B4" transform="rotate(-24 313.8 117.4)"/>
<ellipse cx="315.7" cy="112.0" rx="1.4" ry="1.0" fill="#6CC5B4" transform="rotate(9 315.7 112.0)"/>
<ellipse cx="304.1" cy="114.4" rx="1.4" ry="1.3" fill="#A6DCB8" transform="rotate(-26 304.1 114.4)"/>
<ellipse cx="326.4" cy="83.1" rx="2.0" ry="1.1" fill="#A6DCB8" transform="rotate(-27 326.4 83.1)"/>
<ellipse cx="315.8" cy="92.8" rx="1.6" ry="1.0" fill="#A6DCB8" transform="rotate(15 315.8 92.8)"/>
<ellipse cx="383.2" cy="102.8" rx="1.3" ry="1.2" fill="#6CC5B4" transform="rotate(25 383.2 102.8)"/>
<ellipse cx="389.1" cy="68.6" rx="1.2" ry="0.9" fill="#A6DCB8" transform="rotate(9 389.1 68.6)"/>
<ellipse cx="374.2" cy="96.1" rx="2.3" ry="1.0" fill="#A6DCB8" transform="rotate(12 374.2 96.1)"/>
<ellipse cx="371.8" cy="71.6" rx="2.7" ry="1.8" fill="#A6DCB8" transform="rotate(-7 371.8 71.6)"/>
<ellipse cx="384.0" cy="69.2" rx="2.1" ry="2.1" fill="#A6DCB8" transform="rotate(7 384.0 69.2)"/>
<ellipse cx="393.2" cy="89.2" rx="2.2" ry="1.8" fill="#B6E2BE" transform="rotate(-30 393.2 89.2)"/>
<ellipse cx="377.1" cy="89.2" rx="1.4" ry="1.1" fill="#A6DCB8" transform="rotate(-20 377.1 89.2)"/>
<ellipse cx="383.9" cy="77.4" rx="2.1" ry="2.0" fill="#6CC5B4" transform="rotate(-9 383.9 77.4)"/>
<ellipse cx="398.1" cy="46.6" rx="2.5" ry="1.1" fill="#A6DCB8" transform="rotate(13 398.1 46.6)"/>
<ellipse cx="389.9" cy="97.6" rx="1.8" ry="1.6" fill="#A6DCB8" transform="rotate(-8 389.9 97.6)"/>
<ellipse cx="394.2" cy="83.9" rx="2.3" ry="1.3" fill="#B6E2BE" transform="rotate(7 394.2 83.9)"/>
<ellipse cx="387.8" cy="61.7" rx="2.2" ry="1.7" fill="#A6DCB8" transform="rotate(1 387.8 61.7)"/>
<ellipse cx="374.3" cy="86.0" rx="1.1" ry="1.0" fill="#6CC5B4" transform="rotate(13 374.3 86.0)"/>
<ellipse cx="373.3" cy="63.4" rx="1.0" ry="0.8" fill="#6CC5B4" transform="rotate(27 373.3 63.4)"/>
<ellipse cx="385.7" cy="90.0" rx="2.4" ry="2.0" fill="#A6DCB8" transform="rotate(7 385.7 90.0)"/>
<ellipse cx="373.6" cy="73.0" rx="2.7" ry="1.6" fill="#A6DCB8" transform="rotate(12 373.6 73.0)"/>
<ellipse cx="396.9" cy="71.3" rx="1.9" ry="1.8" fill="#6CC5B4" transform="rotate(-24 396.9 71.3)"/>
<ellipse cx="371.7" cy="60.8" rx="2.3" ry="1.0" fill="#A6DCB8" transform="rotate(-20 371.7 60.8)"/>
<ellipse cx="375.8" cy="58.8" rx="1.8" ry="1.4" fill="#A6DCB8" transform="rotate(10 375.8 58.8)"/>
<ellipse cx="383.0" cy="70.3" rx="0.9" ry="0.8" fill="#A6DCB8" transform="rotate(-18 383.0 70.3)"/>
<ellipse cx="391.4" cy="60.6" rx="1.2" ry="0.6" fill="#A6DCB8" transform="rotate(19 391.4 60.6)"/>
<ellipse cx="380.2" cy="50.4" rx="1.2" ry="0.5" fill="#A6DCB8" transform="rotate(-25 380.2 50.4)"/>
<ellipse cx="377.3" cy="105.3" rx="2.8" ry="2.2" fill="#A6DCB8" transform="rotate(21 377.3 105.3)"/>
<ellipse cx="377.8" cy="81.6" rx="1.4" ry="0.7" fill="#6CC5B4" transform="rotate(13 377.8 81.6)"/>
<ellipse cx="390.6" cy="50.2" rx="1.4" ry="0.6" fill="#A6DCB8" transform="rotate(8 390.6 50.2)"/>
<ellipse cx="395.8" cy="66.0" rx="1.7" ry="1.0" fill="#A6DCB8" transform="rotate(30 395.8 66.0)"/>
<ellipse cx="401.0" cy="46.8" rx="2.8" ry="2.4" fill="#A6DCB8" transform="rotate(-15 401.0 46.8)"/>
<ellipse cx="388.4" cy="47.9" rx="2.5" ry="1.5" fill="#6CC5B4" transform="rotate(7 388.4 47.9)"/>
<ellipse cx="377.3" cy="104.8" rx="1.2" ry="0.5" fill="#A6DCB8" transform="rotate(16 377.3 104.8)"/>
<ellipse cx="397.6" cy="76.9" rx="1.1" ry="1.0" fill="#A6DCB8" transform="rotate(-26 397.6 76.9)"/>
<ellipse cx="392.6" cy="97.1" rx="2.7" ry="2.1" fill="#6CC5B4" transform="rotate(-1 392.6 97.1)"/>
<ellipse cx="370.6" cy="90.2" rx="1.4" ry="1.1" fill="#B6E2BE" transform="rotate(23 370.6 90.2)"/>
<ellipse cx="372.9" cy="64.7" rx="1.0" ry="0.8" fill="#B6E2BE" transform="rotate(-12 372.9 64.7)"/>
<ellipse cx="372.2" cy="61.6" rx="1.3" ry="0.8" fill="#B6E2BE" transform="rotate(19 372.2 61.6)"/>
<ellipse cx="391.4" cy="77.4" rx="2.6" ry="2.5" fill="#A6DCB8" transform="rotate(7 391.4 77.4)"/>
<ellipse cx="376.8" cy="60.6" rx="2.6" ry="2.1" fill="#B6E2BE" transform="rotate(-29 376.8 60.6)"/>
<ellipse cx="384.2" cy="69.0" rx="2.3" ry="2.2" fill="#A6DCB8" transform="rotate(-1 384.2 69.0)"/>
<ellipse cx="380.6" cy="65.0" rx="1.2" ry="0.6" fill="#A6DCB8" transform="rotate(-30 380.6 65.0)"/>
<ellipse cx="386.9" cy="57.8" rx="2.5" ry="1.5" fill="#A6DCB8" transform="rotate(2 386.9 57.8)"/>
<ellipse cx="376.8" cy="65.7" rx="0.8" ry="0.6" fill="#B6E2BE" transform="rotate(-16 376.8 65.7)"/>
<ellipse cx="383.7" cy="95.0" rx="1.4" ry="1.3" fill="#A6DCB8" transform="rotate(-9 383.7 95.0)"/>
<ellipse cx="375.3" cy="93.7" rx="1.1" ry="0.5" fill="#A6DCB8" transform="rotate(14 375.3 93.7)"/>
<ellipse cx="376.8" cy="72.1" rx="1.7" ry="1.7" fill="#6CC5B4" transform="rotate(-4 376.8 72.1)"/>
<ellipse cx="396.0" cy="49.4" rx="2.0" ry="1.9" fill="#A6DCB8" transform="rotate(-4 396.0 49.4)"/>
<ellipse cx="386.8" cy="74.5" rx="1.7" ry="0.9" fill="#B6E2BE" transform="rotate(23 386.8 74.5)"/>
<ellipse cx="381.2" cy="55.3" rx="1.1" ry="1.1" fill="#A6DCB8" transform="rotate(-6 381.2 55.3)"/>
<ellipse cx="377.5" cy="62.0" rx="2.3" ry="1.4" fill="#6CC5B4" transform="rotate(-14 377.5 62.0)"/>
<ellipse cx="399.0" cy="49.9" rx="1.1" ry="0.6" fill="#A6DCB8" transform="rotate(-15 399.0 49.9)"/>
<ellipse cx="390.3" cy="96.9" rx="2.1" ry="1.7" fill="#A6DCB8" transform="rotate(2 390.3 96.9)"/>
<ellipse cx="379.1" cy="88.5" rx="1.5" ry="1.1" fill="#A6DCB8" transform="rotate(-18 379.1 88.5)"/>
<ellipse cx="372.1" cy="75.6" rx="2.7" ry="1.3" fill="#6CC5B4" transform="rotate(-1 372.1 75.6)"/>
<ellipse cx="390.5" cy="70.7" rx="2.3" ry="2.0" fill="#A6DCB8" transform="rotate(2 390.5 70.7)"/>
<ellipse cx="382.9" cy="74.0" rx="1.7" ry="1.3" fill="#A6DCB8" transform="rotate(-25 382.9 74.0)"/>
<ellipse cx="394.9" cy="83.6" rx="1.6" ry="0.7" fill="#6CC5B4" transform="rotate(28 394.9 83.6)"/>
<ellipse cx="385.7" cy="53.1" rx="1.3" ry="0.6" fill="#A6DCB8" transform="rotate(-19 385.7 53.1)"/>
<ellipse cx="371.4" cy="64.2" rx="2.2" ry="2.1" fill="#B6E2BE" transform="rotate(11 371.4 64.2)"/>
<ellipse cx="395.7" cy="73.0" rx="2.4" ry="1.9" fill="#A6DCB8" transform="rotate(-17 395.7 73.0)"/>
<ellipse cx="396.1" cy="46.7" rx="1.2" ry="0.5" fill="#B6E2BE" transform="rotate(4 396.1 46.7)"/>
<ellipse cx="390.0" cy="91.4" rx="2.5" ry="2.2" fill="#B6E2BE" transform="rotate(-23 390.0 91.4)"/>
<ellipse cx="387.4" cy="85.9" rx="2.6" ry="1.3" fill="#6CC5B4" transform="rotate(-21 387.4 85.9)"/>
<ellipse cx="349.1" cy="40.5" rx="1.1" ry="0.6" fill="#A6DCB8" transform="rotate(2 349.1 40.5)"/>
<ellipse cx="358.6" cy="35.0" rx="2.3" ry="1.3" fill="#6CC5B4" transform="rotate(-14 358.6 35.0)"/>
<ellipse cx="354.6" cy="36.9" rx="1.8" ry="1.1" fill="#A6DCB8" transform="rotate(-5 354.6 36.9)"/>
<ellipse cx="340.6" cy="27.8" rx="2.6" ry="2.5" fill="#A6DCB8" transform="rotate(-10 340.6 27.8)"/>
<ellipse cx="331.4" cy="19.9" rx="2.6" ry="1.5" fill="#A6DCB8" transform="rotate(-6 331.4 19.9)"/>
<ellipse cx="336.5" cy="22.5" rx="1.9" ry="0.8" fill="#6CC5B4" transform="rotate(-14 336.5 22.5)"/>
<ellipse cx="342.7" cy="30.5" rx="2.4" ry="1.3" fill="#6CC5B4" transform="rotate(28 342.7 30.5)"/>
<ellipse cx="341.8" cy="39.2" rx="2.7" ry="1.1" fill="#6CC5B4" transform="rotate(-12 341.8 39.2)"/>
<ellipse cx="341.2" cy="22.9" rx="1.7" ry="1.1" fill="#6CC5B4" transform="rotate(-25 341.2 22.9)"/>
<ellipse cx="331.4" cy="24.3" rx="3.0" ry="2.4" fill="#6CC5B4" transform="rotate(5 331.4 24.3)"/>
<ellipse cx="345.7" cy="20.2" rx="1.3" ry="0.8" fill="#A6DCB8" transform="rotate(-15 345.7 20.2)"/>
<ellipse cx="352.9" cy="31.8" rx="1.5" ry="1.4" fill="#A6DCB8" transform="rotate(-29 352.9 31.8)"/>
<ellipse cx="340.0" cy="34.2" rx="2.0" ry="0.9" fill="#A6DCB8" transform="rotate(-18 340.0 34.2)"/>
<ellipse cx="347.5" cy="22.9" rx="2.4" ry="1.7" fill="#A6DCB8" transform="rotate(-12 347.5 22.9)"/>
<ellipse cx="355.6" cy="29.1" rx="2.9" ry="1.6" fill="#A6DCB8" transform="rotate(7 355.6 29.1)"/>
<ellipse cx="339.5" cy="41.1" rx="1.1" ry="0.9" fill="#A6DCB8" transform="rotate(22 339.5 41.1)"/>
<ellipse cx="331.5" cy="18.9" rx="2.8" ry="1.7" fill="#6CC5B4" transform="rotate(-27 331.5 18.9)"/>
<ellipse cx="335.5" cy="35.1" rx="2.0" ry="0.9" fill="#A6DCB8" transform="rotate(-10 335.5 35.1)"/>
<ellipse cx="348.7" cy="21.2" rx="2.5" ry="1.9" fill="#A6DCB8" transform="rotate(-21 348.7 21.2)"/>
<ellipse cx="340.1" cy="22.1" rx="2.4" ry="1.8" fill="#6CC5B4" transform="rotate(14 340.1 22.1)"/>
</g>
</g>

<path d="M263,297 L272,294 L280,294.5 L281.5,300 L278,306 L270,309 L264,305Z" fill="#A9DDBB" stroke="#E438E4" stroke-width="3"/>
<path d="M355,250 L359,248.5 L361.4,254.3 L360,265.7 L356.5,272 L352.5,266 L352,256Z" fill="#45B7C6" stroke="#6E1610" stroke-width="2.6"/>
<path d="M352,268 L356.5,273.5 L361,270" fill="none" stroke="#E438E4" stroke-width="2.4"/>
<circle cx="348" cy="263" r="1.6" fill="#E438E4"/>

<g filter="url(#lb)">
<polyline points="116.5,58.3 114,61.8 100.5,62.7 99.7,73.6 97.1,82 90.4,85.4 82,87 70.3,88.7 65.2,90.4 56.8,89.6 51.8,90.4" fill="none" stroke="#E1363A" stroke-width="3.0" stroke-linejoin="round" stroke-linecap="round"/>
<polyline points="51.8,92 53,104 55.3,116.6 61.9,125.3 72.8,131.9 83.7,135.1 105.6,137.3 127.4,135.1 142.7,134 153.7,147.2 171.1,153.7 188.6,160.3 204,159.2 214.9,157" fill="none" stroke="#E1363A" stroke-width="3.0" stroke-linejoin="round" stroke-linecap="round"/>
<polyline points="163.5,71.4 163.4,76.1 175.2,80.3 183.6,87 188.7,97.1 193.7,102.2 208.8,105.5 222.3,107.2 230.7,112.3 240.8,115.6 250.8,110.6 267.6,107.2 279.4,102.2 282.8,98.8" fill="none" stroke="#E1363A" stroke-width="3.0" stroke-linejoin="round" stroke-linecap="round"/>
<polyline points="116.5,58.3 119,53.4 126,50 135,46 147,40.8 153.7,44 157,50 162.4,58 163.5,71.4" fill="none" stroke="#EAE62C" stroke-width="3.0" stroke-linejoin="round" stroke-linecap="round"/>
<polyline points="282.8,98.8 284.5,90.4 290.2,87.3 300.3,84 307,78.9 312,73.9 320.4,73.9 327.1,70.5 325.5,67.1 313.7,63.8 305.3,62.1 303.6,60.4 307,52 310.3,47 320.4,43.6 323.8,35.2" fill="none" stroke="#EAE62C" stroke-width="3.0" stroke-linejoin="round" stroke-linecap="round"/>
<polyline points="282.8,98.8 281,104 277.7,110.6 268,113 259.2,115.6 254.2,120.7 255.9,129.1 250.8,135.8 247.5,140 246,146.4 236.8,151 224.7,151 215.6,154 214,160 218.6,167.6 230.7,172.3 245.8,170.7 261,166 273,155.5 279,145 290.2,137.3 298.6,132.3 302,123.9 308.7,117.1 313.7,112.1 318.7,110.4 322,114.3 327.2,116 337.3,110.9 350.8,104.2 364.2,94.1 369.2,77.3 367.6,53.8 360.8,45.4 347.4,47 332.3,43.7 322,38.7" fill="none" stroke="#EAE62C" stroke-width="3.0" stroke-linejoin="round" stroke-linecap="round"/>
<polyline points="51.8,90.4 50.1,93.8 47.6,97.1 46.7,103.9 47.6,110.6 48.4,115.6 53.4,122.4 56.8,129.1 61.8,135.8 65,140 67.7,155.3 60,163 60,170.4 67.7,178 77.8,185.6 80,188.2 91.8,201.2" fill="none" stroke="#E6A234" stroke-width="3.0" stroke-linejoin="round" stroke-linecap="round"/>
<polyline points="138.8,220 146,218.4 148.4,213.3 151,203.2 163.6,193 181.2,185.6 201.4,195.7 216.5,193 226.6,180.5 224,176.7 216,158" fill="none" stroke="#E6A234" stroke-width="3.0" stroke-linejoin="round" stroke-linecap="round"/>
<polyline points="91.8,201.2 103.5,209.4 118.8,215.3 129.4,215.3 138.8,220" fill="none" stroke="#E438E4" stroke-width="3.2" stroke-linejoin="round" stroke-linecap="round"/>
<polyline points="138.8,220 141.2,227 153,230.6 162.4,226 171.8,223.5 184.7,224.7 188.2,229.4 189.4,236.5 186,246" fill="none" stroke="#E438E4" stroke-width="3.2" stroke-linejoin="round" stroke-linecap="round"/>
<polyline points="146,218.4 155,214 167,208.2 183.5,214 188.2,227" fill="none" stroke="#E438E4" stroke-width="2.6" stroke-linejoin="round" stroke-linecap="round"/>
<polyline points="182.4,250 177.7,260.3 185.1,264 188.8,269.5 192.5,275.1 198.1,280.6 205.5,284.3 209.2,280.6 207.3,275.1 214.7,274.1 227.7,271.4 236.9,268.6 242.5,267.7 249.9,273.2 261,277.8 272.1,280.6 279.5,280.6 288.7,278.8 302.9,275.7 320,271.4" fill="none" stroke="#E438E4" stroke-width="3.2" stroke-linejoin="round" stroke-linecap="round"/>
<polyline points="244,270 252,276 262,281 274,284 290,282" fill="none" stroke="#E438E4" stroke-width="2.0" stroke-linejoin="round" stroke-linecap="round"/>
<polyline points="270,281 268,287 271,293" fill="none" stroke="#E438E4" stroke-width="2.6" stroke-linejoin="round" stroke-linecap="round"/>
<polyline points="186,246 182.4,250" fill="none" stroke="#6E1610" stroke-width="3.0" stroke-linejoin="round" stroke-linecap="round"/>
<polyline points="344.5,181.6 349,184 352,190 356,192 357,197 361,200 360,205.7 362,210 358,214 359,219 356,224 357,229 354.3,231.4 352,236 349,240 345.7,242.9 343,248 340,254.3 336,258 331.4,262.9 326,266 320,271.4" fill="none" stroke="#6E1610" stroke-width="4.0" stroke-linejoin="round" stroke-linecap="round"/>
<polyline points="224,176.7 240,178 254.3,180 270,181 291.4,182.9 300,191.4 320,192.9 342.9,184.3 344.5,181.6" fill="none" stroke="#6E1610" stroke-width="2.6" stroke-linejoin="round" stroke-linecap="round"/>
<polyline points="368.9,115.2 358.8,125.3 348.7,132 345.4,135.4 343.7,128.7 345.4,120.3 340.3,118.6 335.3,125.3 325.2,133.7 321.8,138.7 325.2,145.5 333.6,148.8 340.3,145.5 352.1,148 353.8,152.2 342,157.2 337,160.6 335.3,169 340.3,177.4 344.5,181.6" fill="none" stroke="#2ADA34" stroke-width="3.0" stroke-linejoin="round" stroke-linecap="round"/>
<polyline points="358.8,98.4 357.1,108.5 356.3,117.7 368.9,115.2" fill="none" stroke="#2ADA34" stroke-width="2.6" stroke-linejoin="round" stroke-linecap="round"/>
<polyline points="364.1,36.9 367.5,41.9 381.4,45.4 401.6,42.8 409.2,44.1 406.7,55.4 399,70.6 396.6,83.2 394,96.7 384,105.1 374,108.5 368.9,115.2" fill="none" stroke="#2CCAE6" stroke-width="3.0" stroke-linejoin="round" stroke-linecap="round"/>
<polyline points="323.8,35.2 325.5,26.8 327.1,20.1 333.9,16.7 340.6,14.2 350.7,16.7 355.7,20.1 360.8,28.5 364.1,36.9" fill="none" stroke="#1E36D2" stroke-width="3.2" stroke-linejoin="round" stroke-linecap="round"/>
</g>
<circle cx="127" cy="41" r="8.2" fill="none" stroke="#111" stroke-width="1.1"/><text x="127" y="46.6" font-size="15.5" text-anchor="middle" font-family="Liberation Sans" fill="#111">6</text>
<circle cx="342" cy="33" r="8.2" fill="none" stroke="#111" stroke-width="1.1"/><text x="342" y="38.6" font-size="15.5" text-anchor="middle" font-family="Liberation Sans" fill="#111">1</text>
<circle cx="379.5" cy="72.5" r="8.2" fill="none" stroke="#111" stroke-width="1.1"/><text x="379.5" y="78.1" font-size="15.5" text-anchor="middle" font-family="Liberation Sans" fill="#111">2</text>
<circle cx="315.9" cy="95.1" r="8.2" fill="none" stroke="#111" stroke-width="1.1"/><text x="315.9" y="100.69999999999999" font-size="15.5" text-anchor="middle" font-family="Liberation Sans" fill="#111">6</text>
<circle cx="311" cy="163.6" r="8.2" fill="none" stroke="#111" stroke-width="1.1"/><text x="311" y="169.2" font-size="15.5" text-anchor="middle" font-family="Liberation Sans" fill="#111">3</text>
<circle cx="293.3" cy="223.3" r="8.2" fill="none" stroke="#111" stroke-width="1.1"/><text x="293.3" y="228.9" font-size="15.5" text-anchor="middle" font-family="Liberation Sans" fill="#111">4</text>
<circle cx="170.5" cy="121.5" r="8.2" fill="none" stroke="#111" stroke-width="1.1"/><text x="170.5" y="127.1" font-size="15.5" text-anchor="middle" font-family="Liberation Sans" fill="#111">7</text>
<circle cx="184.5" cy="177.5" r="8.2" fill="none" stroke="#111" stroke-width="1.1"/><text x="184.5" y="183.1" font-size="15.5" text-anchor="middle" font-family="Liberation Sans" fill="#111">8</text>
<circle cx="172.5" cy="240" r="8.2" fill="none" stroke="#111" stroke-width="1.1"/><text x="172.5" y="245.6" font-size="15.5" text-anchor="middle" font-family="Liberation Sans" fill="#111">5</text>
<circle cx="252" cy="297" r="8.2" fill="none" stroke="#111" stroke-width="1.1"/><text x="252" y="302.6" font-size="15.5" text-anchor="middle" font-family="Liberation Sans" fill="#111">5</text>
<circle cx="341.5" cy="283" r="8.2" fill="none" stroke="#111" stroke-width="1.1"/><text x="341.5" y="288.6" font-size="15.5" text-anchor="middle" font-family="Liberation Sans" fill="#111">5</text>
<ellipse cx="285.8" cy="320.8" rx="2" ry="1.7" fill="none" stroke="#3a3a3a" stroke-width="1.1"/>
<ellipse cx="293.6" cy="323" rx="2" ry="1.7" fill="none" stroke="#3a3a3a" stroke-width="1.1"/>
<ellipse cx="288.3" cy="328.2" rx="2" ry="1.7" fill="none" stroke="#3a3a3a" stroke-width="1.1"/>
<ellipse cx="283" cy="331.8" rx="2" ry="1.7" fill="none" stroke="#3a3a3a" stroke-width="1.1"/>
<ellipse cx="305.3" cy="330.4" rx="2" ry="1.7" fill="none" stroke="#3a3a3a" stroke-width="1.1"/>
<ellipse cx="312" cy="330" rx="2" ry="1.7" fill="none" stroke="#3a3a3a" stroke-width="1.1"/>
<ellipse cx="337" cy="332.5" rx="2" ry="1.7" fill="none" stroke="#3a3a3a" stroke-width="1.1"/>
<ellipse cx="310.2" cy="366" rx="2" ry="1.7" fill="none" stroke="#3a3a3a" stroke-width="1.1"/>
<ellipse cx="323.6" cy="371" rx="2" ry="1.7" fill="none" stroke="#3a3a3a" stroke-width="1.1"/>
<ellipse cx="337" cy="370.6" rx="2" ry="1.7" fill="none" stroke="#3a3a3a" stroke-width="1.1"/>
<ellipse cx="311" cy="375" rx="2" ry="1.7" fill="none" stroke="#3a3a3a" stroke-width="1.1"/>
<ellipse cx="331.8" cy="378.8" rx="2" ry="1.7" fill="none" stroke="#3a3a3a" stroke-width="1.1"/>
<ellipse cx="299.3" cy="386.5" rx="2" ry="1.7" fill="none" stroke="#3a3a3a" stroke-width="1.1"/>
<ellipse cx="275.2" cy="400" rx="2" ry="1.7" fill="none" stroke="#3a3a3a" stroke-width="1.1"/>
<ellipse cx="290" cy="399.3" rx="2" ry="1.7" fill="none" stroke="#3a3a3a" stroke-width="1.1"/>
<ellipse cx="311.6" cy="397" rx="2" ry="1.7" fill="none" stroke="#3a3a3a" stroke-width="1.1"/>
<ellipse cx="298.9" cy="413.7" rx="2" ry="1.7" fill="none" stroke="#3a3a3a" stroke-width="1.1"/>
<ellipse cx="318" cy="285.8" rx="2" ry="1.7" fill="none" stroke="#3a3a3a" stroke-width="1.1"/>
<ellipse cx="324.3" cy="288.7" rx="2" ry="1.7" fill="none" stroke="#3a3a3a" stroke-width="1.1"/>
<ellipse cx="320.8" cy="286.5" rx="2" ry="1.7" fill="none" stroke="#3a3a3a" stroke-width="1.1"/>
<rect x="269.1" y="329.59999999999997" width="3" height="9.2" rx="1" fill="none" stroke="#3a3a3a" stroke-width="1.1" transform="rotate(-30 270.6 334.2)"/>
<rect x="345.1" y="326.09999999999997" width="3" height="9.2" rx="1" fill="none" stroke="#3a3a3a" stroke-width="1.1" transform="rotate(5 346.6 330.7)"/>
<rect x="348.5" y="301.4" width="3" height="9.2" rx="1" fill="none" stroke="#3a3a3a" stroke-width="1.1" transform="rotate(25 350 306)"/>
<rect x="360.0" y="277.7" width="3" height="9.2" rx="1" fill="none" stroke="#3a3a3a" stroke-width="1.1" transform="rotate(35 361.5 282.3)"/>
<rect x="367.0" y="254.4" width="3" height="9.2" rx="1" fill="none" stroke="#3a3a3a" stroke-width="1.1" transform="rotate(0 368.5 259)"/>
<rect x="274.8" y="361.4" width="3" height="9.2" rx="1" fill="none" stroke="#3a3a3a" stroke-width="1.1" transform="rotate(5 276.3 366)"/>
<rect x="345.1" y="359.0" width="3" height="9.2" rx="1" fill="none" stroke="#3a3a3a" stroke-width="1.1" transform="rotate(25 346.6 363.6)"/>
<rect x="323.9" y="392.2" width="3" height="9.2" rx="1" fill="none" stroke="#3a3a3a" stroke-width="1.1" transform="rotate(35 325.4 396.8)"/>
<rect x="261.4" y="403.79999999999995" width="3" height="9.2" rx="1" fill="none" stroke="#3a3a3a" stroke-width="1.1" transform="rotate(-5 262.9 408.4)"/>
<rect x="295.5" y="426.09999999999997" width="3" height="9.2" rx="1" fill="none" stroke="#3a3a3a" stroke-width="1.1" transform="rotate(70 297 430.7)"/>
<circle cx="373" cy="244.8" r="1.1" fill="#444"/><circle cx="380" cy="242.4" r="1.1" fill="#444"/>
<text x="48" y="316.8" font-size="14.7" font-weight="bold" fill="#111">Elevation (m)</text>
<rect x="47.6" y="328.7" width="18" height="10.4" fill="#FFFFCC" stroke="#999" stroke-width="0.8"/>
<text x="70.6" y="338.0" font-size="12.8" fill="#222">-136 - 0</text>
<rect x="47.6" y="345.8" width="18" height="10.4" fill="#D6EEC4" stroke="#999" stroke-width="0.8"/>
<text x="70.6" y="355.1" font-size="12.8" fill="#222">0 - 500</text>
<rect x="47.6" y="362.9" width="18" height="10.4" fill="#A3DAB6" stroke="#999" stroke-width="0.8"/>
<text x="70.6" y="372.2" font-size="12.8" fill="#222">500 - 1000</text>
<rect x="47.6" y="380.0" width="18" height="10.4" fill="#45B8C8" stroke="#999" stroke-width="0.8"/>
<text x="70.6" y="389.3" font-size="12.8" fill="#222">1000 - 1500</text>
<rect x="47.6" y="397.1" width="18" height="10.4" fill="#2C97C2" stroke="#999" stroke-width="0.8"/>
<text x="70.6" y="406.4" font-size="12.8" fill="#222">1500 - 2000</text>
<rect x="139.3" y="328.7" width="18" height="10.4" fill="#67C2B6" stroke="#999" stroke-width="0.8"/>
<text x="163.2" y="338.0" font-size="12.8" fill="#222">2000 - 3000</text>
<rect x="139.3" y="345.8" width="18" height="10.4" fill="#2B7EBB" stroke="#999" stroke-width="0.8"/>
<text x="163.2" y="355.1" font-size="12.8" fill="#222">3000 - 4000</text>
<rect x="139.3" y="362.9" width="18" height="10.4" fill="#2A55AA" stroke="#999" stroke-width="0.8"/>
<text x="163.2" y="372.2" font-size="12.8" fill="#222">4000 - 5000</text>
<rect x="139.3" y="380.0" width="18" height="10.4" fill="#273397" stroke="#999" stroke-width="0.8"/>
<text x="163.2" y="389.3" font-size="12.8" fill="#222">&gt;5000</text>


<g stroke="#fff" stroke-width="1.4">
<circle cx="604" cy="177.5" r="146.4" fill="rgb(68,114,196)" fill-opacity="0.5"/>
<circle cx="712" cy="360" r="146.8" fill="rgb(66,186,144)" fill-opacity="0.5"/>
<circle cx="500" cy="360.3" r="146.3" fill="rgb(112,173,71)" fill-opacity="0.5"/>
</g>


<rect x="639.5" y="19.8" width="401" height="62.8" fill="rgb(162,185,226)"/>
<rect x="44.3" y="441.5" width="432" height="146.8" fill="rgb(184,214,163)"/>
<rect x="757.8" y="441.7" width="214.7" height="147" fill="rgb(161,220,200)"/>

<defs>
<radialGradient id="fe" cx="0.5" cy="0.5" r="0.5">
<stop offset="0.84" stop-color="#fff" stop-opacity="1"/>
<stop offset="0.93" stop-color="#fff" stop-opacity="0.55"/>
<stop offset="1" stop-color="#fff" stop-opacity="0"/>
</radialGradient>
<filter id="pb" x="-10%" y="-10%" width="120%" height="120%"><feGaussianBlur stdDeviation="0.9"/></filter>

<mask id="mgk" maskUnits="userSpaceOnUse" x="752.5" y="92" width="167.0" height="104"><ellipse cx="836" cy="144" rx="78.5" ry="47" fill="url(#fe)"/></mask>
<mask id="mmk" maskUnits="userSpaceOnUse" x="921" y="94.5" width="112" height="104"><ellipse cx="977" cy="146.5" rx="51" ry="47" fill="url(#fe)"/></mask>
<mask id="mpd" maskUnits="userSpaceOnUse" x="841.6" y="191.8" width="168" height="123.0"><ellipse cx="925.6" cy="253.3" rx="79" ry="56.5" fill="url(#fe)"/></mask>
<mask id="mph" maskUnits="userSpaceOnUse" x="859.5" y="316" width="171.0" height="122"><ellipse cx="945" cy="377" rx="80.5" ry="56" fill="url(#fe)"/></mask>
</defs>
<g mask="url(#mgk)"><g filter="url(#pb)">
<rect x="757.5" y="97" width="157.0" height="94" fill="#6c6e52"/>
<ellipse cx="866" cy="134" rx="50" ry="35" fill="#727a58"/>
<ellipse cx="796" cy="139" rx="35" ry="25" fill="#6a6a50"/>
<ellipse cx="826" cy="109" rx="50" ry="14" fill="#747858"/>
<path d="M752,160 C775,167 800,175 820,182 C832,187 842,192 856,199" fill="none" stroke="#98989a" stroke-width="8.5" stroke-linecap="round"/>
<path d="M754,157 C777,164 800,171 820,178" fill="none" stroke="#b4b4b6" stroke-width="2.4"/>
<path d="M808,176 C814,170 818,166 826,160" fill="none" stroke="#8e8e90" stroke-width="5"/>
<ellipse cx="834" cy="165" rx="8" ry="16" fill="#b4c268" transform="rotate(-12 834 165)"/>
<ellipse cx="838" cy="180" rx="6" ry="7" fill="#c0ca78"/>
<ellipse cx="828" cy="150" rx="4" ry="5" fill="#a8bc5c"/>
<path d="M831,150 L831,122 M833,148 L852,128 M838,152 L866,146 M836,158 L860,152" stroke="#86b848" stroke-width="1.8" fill="none"/>
<path d="M814,111 L826,110 L834,116 L836,126 L830,128 L822,120Z" fill="#86c448"/>
<path d="M832,120 L846,122 L850,132 L838,135Z" fill="#90ca50"/>
<path d="M836,113 L846,114 L846,118 L838,118Z" fill="#80b848"/>
<path d="M858,124 L866,128 L870,138 L862,142 L858,134Z" fill="#84c046"/>
<path d="M860,138 L872,140 L874,156 L866,164 L858,152Z" fill="#8cc64c"/>
<path d="M872,140 L882,138 L889,146 L886,152 L874,150Z" fill="#90c850"/>
<path d="M848,152 L856,150 L860,158 L852,162Z" fill="#80bc48"/>
<path d="M876,170 L886,174 L890,182 L882,182Z" fill="#7cb848"/>
</g></g>
<g mask="url(#mmk)"><g filter="url(#pb)">
<rect x="926" y="99.5" width="102" height="94" fill="#a85a26"/>
<ellipse cx="1021" cy="134.5" rx="9" ry="16" fill="#c4c2ba"/>
<ellipse cx="973" cy="140.5" rx="38" ry="40" fill="#c06e2c"/>
<ellipse cx="979" cy="148.5" rx="28" ry="30" fill="#d07c32"/>
<ellipse cx="941" cy="154.5" rx="10" ry="30" fill="#94501e"/>
<ellipse cx="981" cy="188.5" rx="40" ry="10" fill="#8e4c1e"/>
<path d="M970,104 C976,100 990,100 996,106 C994,114 988,120 982,124 C978,118 972,112 970,104Z" fill="#5a3420"/>
<ellipse cx="983" cy="109" rx="7" ry="5" fill="#3e2418"/>
<path d="M954,134 C958,126 970,127 976,132 C982,128 994,130 999,138 C1001,147 995,153 988,154 L966,154 C958,151 952,143 954,134Z" fill="#cfdcf0"/>
<ellipse cx="966" cy="134.5" rx="4.6" ry="4" fill="#1a1c34"/><ellipse cx="989" cy="139.5" rx="4.4" ry="3.8" fill="#1a1c34"/>
<ellipse cx="976" cy="145" rx="4" ry="2.4" fill="#4a5068"/>
<path d="M955,156 C960,146 982,146 988,154 C991,165 986,173 972,174 C960,173 953,166 955,156Z" fill="#dde6f4"/>
<path d="M958,163 C966,158 978,159 985,165" stroke="#5a6078" stroke-width="1.6" fill="none"/>
</g></g>
<g mask="url(#mpd)"><g filter="url(#pb)">
<rect x="846.6" y="196.8" width="158" height="113.0" fill="#4e4e38"/>
<ellipse cx="935.6" cy="215.3" rx="65" ry="22" fill="#6a6448"/>
<ellipse cx="875.6" cy="263.3" rx="28" ry="40" fill="#485636"/>
<line x1="897.8" y1="213.8" x2="894.6" y2="198.7" stroke="#3c4028" stroke-width="1.7" stroke-linecap="round"/>
<line x1="990.3" y1="221.1" x2="987.8" y2="212.2" stroke="#9aa070" stroke-width="1.1" stroke-linecap="round"/>
<line x1="860.9" y1="244.8" x2="863.3" y2="233.9" stroke="#302e22" stroke-width="1.7" stroke-linecap="round"/>
<line x1="856.4" y1="263.0" x2="852.9" y2="255.0" stroke="#8e9a60" stroke-width="1.1" stroke-linecap="round"/>
<line x1="982.2" y1="229.5" x2="985.6" y2="217.7" stroke="#8a7c5c" stroke-width="1.8" stroke-linecap="round"/>
<line x1="862.9" y1="261.3" x2="866.6" y2="251.4" stroke="#7a8a50" stroke-width="1.7" stroke-linecap="round"/>
<line x1="856.5" y1="203.5" x2="861.6" y2="190.5" stroke="#3c4028" stroke-width="1.6" stroke-linecap="round"/>
<line x1="992.5" y1="237.7" x2="1003.6" y2="234.7" stroke="#8e9a60" stroke-width="1.8" stroke-linecap="round"/>
<line x1="885.2" y1="261.7" x2="867.5" y2="266.1" stroke="#3c4028" stroke-width="1.7" stroke-linecap="round"/>
<line x1="858.2" y1="254.6" x2="855.2" y2="244.8" stroke="#3c4028" stroke-width="1.2" stroke-linecap="round"/>
<line x1="923.9" y1="201.2" x2="912.9" y2="189.5" stroke="#8a7c5c" stroke-width="1.4" stroke-linecap="round"/>
<line x1="956.5" y1="264.0" x2="940.8" y2="260.2" stroke="#9aa070" stroke-width="1.1" stroke-linecap="round"/>
<line x1="861.4" y1="227.3" x2="859.4" y2="209.2" stroke="#3c4028" stroke-width="1.8" stroke-linecap="round"/>
<line x1="1003.5" y1="289.7" x2="999.8" y2="278.3" stroke="#9aa070" stroke-width="2.1" stroke-linecap="round"/>
<line x1="901.4" y1="303.1" x2="891.1" y2="292.3" stroke="#8e9a60" stroke-width="1.9" stroke-linecap="round"/>
<line x1="867.0" y1="224.8" x2="878.2" y2="217.2" stroke="#8a7c5c" stroke-width="1.6" stroke-linecap="round"/>
<line x1="872.9" y1="242.2" x2="871.7" y2="228.2" stroke="#6b7a48" stroke-width="1.3" stroke-linecap="round"/>
<line x1="912.2" y1="237.3" x2="921.6" y2="219.3" stroke="#8e9a60" stroke-width="1.2" stroke-linecap="round"/>
<line x1="874.4" y1="223.0" x2="876.2" y2="206.9" stroke="#3c4028" stroke-width="1.3" stroke-linecap="round"/>
<line x1="869.6" y1="257.2" x2="883.8" y2="248.7" stroke="#3c4028" stroke-width="2.1" stroke-linecap="round"/>
<line x1="955.7" y1="255.1" x2="948.3" y2="250.3" stroke="#8a7c5c" stroke-width="1.9" stroke-linecap="round"/>
<line x1="984.8" y1="287.0" x2="974.1" y2="278.7" stroke="#9aa070" stroke-width="1.5" stroke-linecap="round"/>
<line x1="922.7" y1="242.1" x2="934.2" y2="233.8" stroke="#7a8a50" stroke-width="1.4" stroke-linecap="round"/>
<line x1="854.9" y1="196.8" x2="861.6" y2="204.4" stroke="#7a8a50" stroke-width="2.1" stroke-linecap="round"/>
<line x1="943.6" y1="204.7" x2="947.4" y2="188.3" stroke="#3c4028" stroke-width="1.7" stroke-linecap="round"/>
<line x1="921.5" y1="209.8" x2="932.6" y2="200.0" stroke="#9aa070" stroke-width="1.6" stroke-linecap="round"/>
<line x1="895.9" y1="213.1" x2="895.8" y2="198.4" stroke="#302e22" stroke-width="1.2" stroke-linecap="round"/>
<line x1="850.2" y1="304.3" x2="834.9" y2="302.8" stroke="#8e9a60" stroke-width="1.8" stroke-linecap="round"/>
<line x1="991.0" y1="282.5" x2="987.6" y2="273.9" stroke="#8a7c5c" stroke-width="1.3" stroke-linecap="round"/>
<line x1="904.5" y1="215.7" x2="922.3" y2="209.4" stroke="#6b7a48" stroke-width="1.6" stroke-linecap="round"/>
<line x1="926.0" y1="268.7" x2="908.7" y2="262.0" stroke="#8e9a60" stroke-width="2.0" stroke-linecap="round"/>
<line x1="975.9" y1="280.4" x2="966.3" y2="274.7" stroke="#6b7a48" stroke-width="1.6" stroke-linecap="round"/>
<line x1="962.1" y1="308.6" x2="964.8" y2="298.3" stroke="#6b7a48" stroke-width="2.1" stroke-linecap="round"/>
<line x1="917.3" y1="302.7" x2="899.1" y2="290.6" stroke="#3c4028" stroke-width="1.1" stroke-linecap="round"/>
<line x1="862.7" y1="249.9" x2="851.5" y2="231.2" stroke="#6b7a48" stroke-width="2.0" stroke-linecap="round"/>
<line x1="922.4" y1="270.6" x2="937.2" y2="258.4" stroke="#7a8a50" stroke-width="2.0" stroke-linecap="round"/>
<line x1="865.5" y1="240.7" x2="862.6" y2="220.5" stroke="#9aa070" stroke-width="1.9" stroke-linecap="round"/>
<line x1="899.1" y1="287.3" x2="887.3" y2="269.3" stroke="#9aa070" stroke-width="1.6" stroke-linecap="round"/>
<line x1="964.0" y1="206.4" x2="972.4" y2="206.1" stroke="#6b7a48" stroke-width="2.1" stroke-linecap="round"/>
<line x1="974.0" y1="213.3" x2="987.4" y2="227.6" stroke="#9aa070" stroke-width="1.8" stroke-linecap="round"/>
<line x1="902.0" y1="258.8" x2="904.2" y2="237.3" stroke="#302e22" stroke-width="1.1" stroke-linecap="round"/>
<line x1="965.0" y1="212.5" x2="967.5" y2="190.9" stroke="#8e9a60" stroke-width="2.0" stroke-linecap="round"/>
<line x1="879.9" y1="225.3" x2="877.1" y2="209.3" stroke="#3c4028" stroke-width="1.7" stroke-linecap="round"/>
<line x1="978.4" y1="203.7" x2="989.4" y2="189.0" stroke="#9aa070" stroke-width="1.8" stroke-linecap="round"/>
<line x1="975.4" y1="255.2" x2="982.8" y2="248.8" stroke="#8e9a60" stroke-width="1.6" stroke-linecap="round"/>
<line x1="849.6" y1="246.5" x2="839.0" y2="247.2" stroke="#7a8a50" stroke-width="1.9" stroke-linecap="round"/>
<line x1="870.3" y1="212.8" x2="867.4" y2="204.4" stroke="#302e22" stroke-width="1.6" stroke-linecap="round"/>
<line x1="934.4" y1="285.4" x2="931.5" y2="276.4" stroke="#6b7a48" stroke-width="1.1" stroke-linecap="round"/>
<line x1="876.8" y1="201.6" x2="882.9" y2="195.8" stroke="#7a8a50" stroke-width="1.5" stroke-linecap="round"/>
<line x1="943.4" y1="253.9" x2="951.6" y2="241.1" stroke="#302e22" stroke-width="1.3" stroke-linecap="round"/>
<line x1="926.9" y1="288.0" x2="917.3" y2="276.1" stroke="#3c4028" stroke-width="2.1" stroke-linecap="round"/>
<line x1="987.7" y1="219.7" x2="987.2" y2="205.4" stroke="#9aa070" stroke-width="1.1" stroke-linecap="round"/>
<line x1="916.5" y1="205.0" x2="916.8" y2="187.6" stroke="#8a7c5c" stroke-width="1.1" stroke-linecap="round"/>
<line x1="969.4" y1="303.0" x2="975.2" y2="287.0" stroke="#3c4028" stroke-width="1.2" stroke-linecap="round"/>
<line x1="986.1" y1="306.1" x2="991.6" y2="293.7" stroke="#9aa070" stroke-width="1.2" stroke-linecap="round"/>
<line x1="952.1" y1="222.1" x2="966.8" y2="232.3" stroke="#6b7a48" stroke-width="1.5" stroke-linecap="round"/>
<line x1="913.2" y1="237.1" x2="921.5" y2="227.5" stroke="#9aa070" stroke-width="1.5" stroke-linecap="round"/>
<line x1="849.5" y1="234.3" x2="857.0" y2="219.3" stroke="#6b7a48" stroke-width="2.2" stroke-linecap="round"/>
<line x1="864.4" y1="300.6" x2="866.7" y2="291.7" stroke="#3c4028" stroke-width="1.0" stroke-linecap="round"/>
<line x1="969.7" y1="227.4" x2="979.2" y2="229.8" stroke="#9aa070" stroke-width="2.0" stroke-linecap="round"/>
<line x1="953.4" y1="303.7" x2="941.2" y2="294.6" stroke="#9aa070" stroke-width="1.8" stroke-linecap="round"/>
<line x1="860.7" y1="203.3" x2="871.0" y2="189.0" stroke="#9aa070" stroke-width="2.1" stroke-linecap="round"/>
<line x1="889.1" y1="198.7" x2="898.3" y2="185.0" stroke="#8e9a60" stroke-width="1.1" stroke-linecap="round"/>
<line x1="982.9" y1="248.1" x2="987.5" y2="236.2" stroke="#6b7a48" stroke-width="1.5" stroke-linecap="round"/>
<line x1="991.2" y1="267.1" x2="1011.9" y2="262.7" stroke="#8e9a60" stroke-width="1.3" stroke-linecap="round"/>
<line x1="875.2" y1="302.1" x2="881.4" y2="286.5" stroke="#6b7a48" stroke-width="1.9" stroke-linecap="round"/>
<line x1="892.4" y1="253.3" x2="895.3" y2="245.6" stroke="#3c4028" stroke-width="1.0" stroke-linecap="round"/>
<line x1="849.5" y1="253.9" x2="864.3" y2="238.0" stroke="#6b7a48" stroke-width="1.6" stroke-linecap="round"/>
<line x1="994.3" y1="208.8" x2="1000.1" y2="195.1" stroke="#8a7c5c" stroke-width="2.1" stroke-linecap="round"/>
<line x1="999.9" y1="231.6" x2="991.5" y2="224.5" stroke="#8e9a60" stroke-width="1.4" stroke-linecap="round"/>
<line x1="978.1" y1="276.7" x2="970.8" y2="266.1" stroke="#7a8a50" stroke-width="2.0" stroke-linecap="round"/>
<line x1="848.9" y1="267.5" x2="835.9" y2="251.8" stroke="#9aa070" stroke-width="1.2" stroke-linecap="round"/>
<line x1="859.9" y1="291.9" x2="869.5" y2="284.6" stroke="#8e9a60" stroke-width="1.8" stroke-linecap="round"/>
<line x1="853.7" y1="217.7" x2="844.0" y2="211.1" stroke="#7a8a50" stroke-width="1.3" stroke-linecap="round"/>
<line x1="998.6" y1="306.7" x2="985.6" y2="289.5" stroke="#3c4028" stroke-width="1.3" stroke-linecap="round"/>
<line x1="875.5" y1="234.7" x2="873.7" y2="225.7" stroke="#3c4028" stroke-width="1.6" stroke-linecap="round"/>
<line x1="878.4" y1="253.8" x2="884.4" y2="246.8" stroke="#9aa070" stroke-width="1.7" stroke-linecap="round"/>
<line x1="908.8" y1="230.7" x2="909.2" y2="213.8" stroke="#7a8a50" stroke-width="1.7" stroke-linecap="round"/>
<line x1="930.2" y1="281.6" x2="915.9" y2="267.2" stroke="#9aa070" stroke-width="1.9" stroke-linecap="round"/>
<line x1="960.5" y1="252.6" x2="949.3" y2="248.2" stroke="#6b7a48" stroke-width="1.8" stroke-linecap="round"/>
<path d="M918,262 C930,256 950,258 958,266 C966,262 976,270 980,282 C986,296 982,310 976,316 L924,316 C918,300 914,280 918,262Z" fill="#1e1c1c"/>
<path d="M930,276 C944,270 962,272 976,282 C986,296 982,310 976,316 L928,316 C922,300 922,286 930,276Z" fill="#c9baac"/>
<path d="M948,246 C965,248 986,262 996,276 C999,288 990,292 980,288 C966,280 954,270 946,262Z" fill="#1c1a1a"/>
<g transform="translate(0,3)">
<path d="M912,236 C912,224 924,220 934,221 C946,222 954,230 952,244 C950,256 940,262 930,261 C918,260 912,250 912,236Z" fill="#ecebe6"/>
<path d="M910,228 C912,222 918,220 922,224 C920,232 916,238 912,240Z" fill="#1a1a1a"/>
<ellipse cx="929" cy="244" rx="3.6" ry="5.5" fill="#202020" transform="rotate(15 929 244)"/><ellipse cx="946" cy="241" rx="3" ry="4.5" fill="#202020"/>
<ellipse cx="943" cy="250" rx="2.6" ry="2" fill="#303030"/>
</g>
<path d="M916,252 C924,246 936,250 940,256 C944,264 938,272 930,274 C922,276 914,266 914,258Z" fill="#161616"/>
<path d="M940,256 C944,254 948,256 947,260 L942,261Z" fill="#c09890"/>
<line x1="867.6" y1="297.1" x2="893.2" y2="291.0" stroke="#5e7a4a" stroke-width="1.7" stroke-linecap="round"/>
<line x1="896.4" y1="285.2" x2="910.8" y2="261.5" stroke="#6d8a56" stroke-width="2.7" stroke-linecap="round"/>
<line x1="900.0" y1="299.1" x2="911.6" y2="283.8" stroke="#6d8a56" stroke-width="1.6" stroke-linecap="round"/>
<line x1="903.2" y1="301.5" x2="910.3" y2="281.5" stroke="#7e9a66" stroke-width="2.3" stroke-linecap="round"/>
<line x1="902.7" y1="289.5" x2="913.1" y2="277.3" stroke="#6d8a56" stroke-width="2.6" stroke-linecap="round"/>
<line x1="895.2" y1="286.3" x2="906.8" y2="263.9" stroke="#6d8a56" stroke-width="2.6" stroke-linecap="round"/>
<line x1="893.4" y1="296.1" x2="916.7" y2="283.3" stroke="#6d8a56" stroke-width="2.6" stroke-linecap="round"/>
<line x1="923.5" y1="284.8" x2="936.6" y2="267.9" stroke="#7e9a66" stroke-width="2.9" stroke-linecap="round"/>
<line x1="882.2" y1="268.7" x2="898.4" y2="250.4" stroke="#7e9a66" stroke-width="1.9" stroke-linecap="round"/>
<line x1="909.6" y1="278.0" x2="925.1" y2="259.7" stroke="#6d8a56" stroke-width="2.2" stroke-linecap="round"/>
<line x1="879.6" y1="251.3" x2="898.1" y2="247.6" stroke="#7e9a66" stroke-width="2.0" stroke-linecap="round"/>
<line x1="879.0" y1="230.8" x2="901.2" y2="225.2" stroke="#6d8a56" stroke-width="1.8" stroke-linecap="round"/>
<line x1="867.6" y1="239.4" x2="885.1" y2="231.9" stroke="#7e9a66" stroke-width="2.5" stroke-linecap="round"/>
<line x1="876.6" y1="250.0" x2="899.2" y2="244.1" stroke="#6d8a56" stroke-width="2.1" stroke-linecap="round"/>
<line x1="869.3" y1="240.6" x2="890.9" y2="235.8" stroke="#7e9a66" stroke-width="2.4" stroke-linecap="round"/>
</g></g>
<g mask="url(#mph)"><g filter="url(#pb)">
<rect x="864.5" y="321" width="161.0" height="112" fill="#a08464"/>
<ellipse cx="977.7" cy="346.9" rx="9.3" ry="2.7" fill="#d2c2a8" transform="rotate(-48 977.7 346.9)"/>
<ellipse cx="1017.4" cy="397.3" rx="5.8" ry="3.3" fill="#c8b090" transform="rotate(-8 1017.4 397.3)"/>
<ellipse cx="915.4" cy="415.1" rx="3.0" ry="3.4" fill="#bca688" transform="rotate(34 915.4 415.1)"/>
<ellipse cx="1015.8" cy="342.9" rx="3.1" ry="3.3" fill="#bca688" transform="rotate(-25 1015.8 342.9)"/>
<ellipse cx="927.8" cy="432.9" rx="7.1" ry="2.4" fill="#dccab0" transform="rotate(-7 927.8 432.9)"/>
<ellipse cx="1002.0" cy="352.4" rx="3.4" ry="3.2" fill="#6a5038" transform="rotate(13 1002.0 352.4)"/>
<ellipse cx="904.6" cy="350.8" rx="6.6" ry="2.0" fill="#c8b090" transform="rotate(-13 904.6 350.8)"/>
<ellipse cx="1006.9" cy="411.9" rx="7.4" ry="3.8" fill="#b0906c" transform="rotate(44 1006.9 411.9)"/>
<ellipse cx="897.3" cy="330.0" rx="9.5" ry="2.5" fill="#6a5038" transform="rotate(11 897.3 330.0)"/>
<ellipse cx="968.3" cy="353.1" rx="3.3" ry="3.8" fill="#e0d4c0" transform="rotate(-37 968.3 353.1)"/>
<ellipse cx="931.3" cy="352.6" rx="4.8" ry="3.3" fill="#c8b090" transform="rotate(15 931.3 352.6)"/>
<ellipse cx="970.1" cy="354.7" rx="6.9" ry="2.5" fill="#6a5038" transform="rotate(-33 970.1 354.7)"/>
<ellipse cx="876.6" cy="377.1" rx="8.7" ry="2.9" fill="#54402c" transform="rotate(-5 876.6 377.1)"/>
<ellipse cx="1024.9" cy="371.4" rx="4.0" ry="2.0" fill="#54402c" transform="rotate(-41 1024.9 371.4)"/>
<ellipse cx="954.0" cy="356.8" rx="5.6" ry="3.5" fill="#d2c2a8" transform="rotate(-30 954.0 356.8)"/>
<ellipse cx="985.2" cy="367.2" rx="5.9" ry="2.8" fill="#54402c" transform="rotate(-12 985.2 367.2)"/>
<ellipse cx="985.6" cy="376.8" rx="7.0" ry="2.4" fill="#b0906c" transform="rotate(19 985.6 376.8)"/>
<ellipse cx="965.9" cy="417.6" rx="4.5" ry="2.2" fill="#c8b090" transform="rotate(-25 965.9 417.6)"/>
<ellipse cx="968.5" cy="369.4" rx="5.2" ry="3.5" fill="#6a5038" transform="rotate(47 968.5 369.4)"/>
<ellipse cx="869.7" cy="400.5" rx="9.3" ry="2.7" fill="#d2c2a8" transform="rotate(9 869.7 400.5)"/>
<ellipse cx="876.3" cy="425.2" rx="9.5" ry="2.8" fill="#e0d4c0" transform="rotate(-3 876.3 425.2)"/>
<ellipse cx="904.5" cy="333.2" rx="4.1" ry="2.8" fill="#e0d4c0" transform="rotate(18 904.5 333.2)"/>
<ellipse cx="878.2" cy="408.0" rx="3.0" ry="1.8" fill="#d2c2a8" transform="rotate(7 878.2 408.0)"/>
<ellipse cx="968.4" cy="355.0" rx="3.9" ry="2.1" fill="#bca688" transform="rotate(14 968.4 355.0)"/>
<ellipse cx="880.5" cy="354.6" rx="9.6" ry="2.0" fill="#d2c2a8" transform="rotate(-24 880.5 354.6)"/>
<ellipse cx="866.2" cy="354.8" rx="6.2" ry="3.9" fill="#a88a6c" transform="rotate(14 866.2 354.8)"/>
<ellipse cx="941.0" cy="347.3" rx="4.7" ry="3.9" fill="#dccab0" transform="rotate(20 941.0 347.3)"/>
<ellipse cx="873.4" cy="342.7" rx="9.2" ry="3.1" fill="#a88a6c" transform="rotate(-42 873.4 342.7)"/>
<ellipse cx="971.9" cy="424.6" rx="4.6" ry="1.6" fill="#c8b090" transform="rotate(-16 971.9 424.6)"/>
<ellipse cx="922.8" cy="365.4" rx="3.0" ry="2.2" fill="#bca688" transform="rotate(35 922.8 365.4)"/>
<ellipse cx="897.5" cy="429.6" rx="5.2" ry="3.6" fill="#a88a6c" transform="rotate(-27 897.5 429.6)"/>
<ellipse cx="907.2" cy="420.6" rx="3.8" ry="3.1" fill="#a88a6c" transform="rotate(11 907.2 420.6)"/>
<ellipse cx="942.6" cy="423.0" rx="3.4" ry="3.0" fill="#d2c2a8" transform="rotate(42 942.6 423.0)"/>
<ellipse cx="898.8" cy="430.1" rx="4.0" ry="1.6" fill="#c8b090" transform="rotate(-44 898.8 430.1)"/>
<ellipse cx="936.9" cy="400.7" rx="5.2" ry="1.8" fill="#6a5038" transform="rotate(-42 936.9 400.7)"/>
<ellipse cx="917.5" cy="341.8" rx="9.6" ry="3.4" fill="#c8b090" transform="rotate(-47 917.5 341.8)"/>
<ellipse cx="999.6" cy="431.3" rx="6.1" ry="1.8" fill="#bca688" transform="rotate(-42 999.6 431.3)"/>
<ellipse cx="921.1" cy="428.0" rx="3.9" ry="3.9" fill="#54402c" transform="rotate(-29 921.1 428.0)"/>
<ellipse cx="988.3" cy="355.6" rx="8.6" ry="1.7" fill="#a88a6c" transform="rotate(21 988.3 355.6)"/>
<ellipse cx="924.5" cy="424.0" rx="4.4" ry="2.4" fill="#d2c2a8" transform="rotate(40 924.5 424.0)"/>
<ellipse cx="966.2" cy="348.8" rx="7.4" ry="2.5" fill="#e0d4c0" transform="rotate(-12 966.2 348.8)"/>
<ellipse cx="874.6" cy="424.0" rx="4.8" ry="3.4" fill="#54402c" transform="rotate(40 874.6 424.0)"/>
<ellipse cx="922.9" cy="358.5" rx="9.7" ry="1.6" fill="#54402c" transform="rotate(25 922.9 358.5)"/>
<ellipse cx="1013.3" cy="354.3" rx="8.1" ry="3.0" fill="#bca688" transform="rotate(31 1013.3 354.3)"/>
<ellipse cx="868.4" cy="347.2" rx="6.3" ry="3.9" fill="#c8b090" transform="rotate(45 868.4 347.2)"/>
<ellipse cx="991.7" cy="423.3" rx="8.7" ry="1.8" fill="#d2c2a8" transform="rotate(-0 991.7 423.3)"/>
<ellipse cx="993.7" cy="403.7" rx="8.8" ry="3.4" fill="#54402c" transform="rotate(11 993.7 403.7)"/>
<ellipse cx="1003.2" cy="372.6" rx="8.5" ry="3.0" fill="#c8b090" transform="rotate(1 1003.2 372.6)"/>
<ellipse cx="985.7" cy="348.7" rx="3.5" ry="1.6" fill="#54402c" transform="rotate(5 985.7 348.7)"/>
<ellipse cx="890.4" cy="368.8" rx="3.7" ry="1.7" fill="#a88a6c" transform="rotate(12 890.4 368.8)"/>
<ellipse cx="880.0" cy="376.8" rx="8.0" ry="2.6" fill="#c8b090" transform="rotate(-27 880.0 376.8)"/>
<ellipse cx="938.7" cy="420.8" rx="4.6" ry="2.8" fill="#bca688" transform="rotate(27 938.7 420.8)"/>
<ellipse cx="990.0" cy="353.9" rx="5.0" ry="2.2" fill="#dccab0" transform="rotate(-25 990.0 353.9)"/>
<ellipse cx="896.6" cy="348.7" rx="4.7" ry="1.9" fill="#a88a6c" transform="rotate(38 896.6 348.7)"/>
<ellipse cx="917.0" cy="365.4" rx="9.9" ry="2.8" fill="#bca688" transform="rotate(-27 917.0 365.4)"/>
<ellipse cx="969.7" cy="432.0" rx="3.7" ry="2.7" fill="#e0d4c0" transform="rotate(32 969.7 432.0)"/>
<ellipse cx="1011.7" cy="325.5" rx="5.1" ry="1.8" fill="#a88a6c" transform="rotate(-31 1011.7 325.5)"/>
<ellipse cx="1014.3" cy="362.7" rx="9.1" ry="2.6" fill="#d2c2a8" transform="rotate(-24 1014.3 362.7)"/>
<ellipse cx="881.5" cy="387.8" rx="7.3" ry="2.0" fill="#6a5038" transform="rotate(-13 881.5 387.8)"/>
<ellipse cx="871.6" cy="433.0" rx="3.3" ry="3.3" fill="#d2c2a8" transform="rotate(41 871.6 433.0)"/>
<ellipse cx="996.3" cy="366.8" rx="5.6" ry="3.1" fill="#d2c2a8" transform="rotate(-42 996.3 366.8)"/>
<ellipse cx="992.5" cy="382.4" rx="3.4" ry="1.8" fill="#b0906c" transform="rotate(-10 992.5 382.4)"/>
<ellipse cx="889.4" cy="380.8" rx="7.6" ry="2.5" fill="#dccab0" transform="rotate(-23 889.4 380.8)"/>
<ellipse cx="972.0" cy="367.8" rx="3.4" ry="3.4" fill="#c8b090" transform="rotate(38 972.0 367.8)"/>
<ellipse cx="931.5" cy="417.8" rx="10.0" ry="2.4" fill="#c8b090" transform="rotate(-30 931.5 417.8)"/>
<ellipse cx="897.3" cy="321.7" rx="9.3" ry="2.6" fill="#c8b090" transform="rotate(32 897.3 321.7)"/>
<ellipse cx="957.5" cy="361.8" rx="8.4" ry="1.8" fill="#6a5038" transform="rotate(-45 957.5 361.8)"/>
<ellipse cx="967.6" cy="422.9" rx="3.6" ry="3.1" fill="#b0906c" transform="rotate(-13 967.6 422.9)"/>
<ellipse cx="892.1" cy="360.0" rx="4.1" ry="1.9" fill="#c8b090" transform="rotate(-43 892.1 360.0)"/>
<ellipse cx="943.5" cy="411.1" rx="9.8" ry="2.0" fill="#d2c2a8" transform="rotate(-37 943.5 411.1)"/>
<ellipse cx="1021.6" cy="375.1" rx="3.4" ry="3.8" fill="#6a5038" transform="rotate(-11 1021.6 375.1)"/>
<ellipse cx="967.6" cy="416.9" rx="7.3" ry="3.0" fill="#e0d4c0" transform="rotate(-30 967.6 416.9)"/>
<ellipse cx="894.0" cy="345.4" rx="5.8" ry="2.8" fill="#bca688" transform="rotate(-12 894.0 345.4)"/>
<ellipse cx="888.6" cy="429.7" rx="8.7" ry="2.0" fill="#d2c2a8" transform="rotate(38 888.6 429.7)"/>
<ellipse cx="972.0" cy="357.3" rx="5.7" ry="2.6" fill="#dccab0" transform="rotate(35 972.0 357.3)"/>
<ellipse cx="969.0" cy="355.5" rx="4.7" ry="2.5" fill="#b0906c" transform="rotate(-13 969.0 355.5)"/>
<ellipse cx="935.1" cy="323.6" rx="7.3" ry="2.7" fill="#e0d4c0" transform="rotate(-26 935.1 323.6)"/>
<ellipse cx="999.2" cy="411.8" rx="5.8" ry="1.7" fill="#54402c" transform="rotate(-14 999.2 411.8)"/>
<ellipse cx="879.3" cy="370.5" rx="6.6" ry="1.6" fill="#bca688" transform="rotate(14 879.3 370.5)"/>
<ellipse cx="1013.0" cy="356.1" rx="8.0" ry="1.7" fill="#c8b090" transform="rotate(25 1013.0 356.1)"/>
<ellipse cx="969.6" cy="408.8" rx="3.2" ry="1.7" fill="#bca688" transform="rotate(11 969.6 408.8)"/>
<ellipse cx="895.7" cy="431.0" rx="6.4" ry="3.9" fill="#6a5038" transform="rotate(42 895.7 431.0)"/>
<ellipse cx="975.0" cy="401.8" rx="4.5" ry="3.6" fill="#dccab0" transform="rotate(11 975.0 401.8)"/>
<ellipse cx="890.1" cy="421.4" rx="4.9" ry="3.5" fill="#b0906c" transform="rotate(-36 890.1 421.4)"/>
<ellipse cx="1019.8" cy="374.8" rx="7.1" ry="3.0" fill="#54402c" transform="rotate(-26 1019.8 374.8)"/>
<ellipse cx="870.4" cy="341.4" rx="4.1" ry="3.8" fill="#c8b090" transform="rotate(18 870.4 341.4)"/>
<ellipse cx="891.7" cy="408.9" rx="3.8" ry="2.8" fill="#54402c" transform="rotate(14 891.7 408.9)"/>
<ellipse cx="1020.1" cy="371.7" rx="6.7" ry="3.2" fill="#dccab0" transform="rotate(40 1020.1 371.7)"/>
<ellipse cx="1024.4" cy="391.5" rx="5.8" ry="3.5" fill="#54402c" transform="rotate(-24 1024.4 391.5)"/>
<ellipse cx="957.5" cy="361.3" rx="8.4" ry="2.6" fill="#d2c2a8" transform="rotate(-32 957.5 361.3)"/>
<ellipse cx="912.2" cy="378.8" rx="5.2" ry="3.9" fill="#54402c" transform="rotate(37 912.2 378.8)"/>
<ellipse cx="982.5" cy="404.7" rx="4.6" ry="2.2" fill="#c8b090" transform="rotate(13 982.5 404.7)"/>
<ellipse cx="947.0" cy="421.3" rx="3.9" ry="2.1" fill="#d2c2a8" transform="rotate(15 947.0 421.3)"/>
<ellipse cx="873.3" cy="384.5" rx="5.1" ry="2.8" fill="#c8b090" transform="rotate(3 873.3 384.5)"/>
<ellipse cx="958.5" cy="387.0" rx="4.4" ry="3.1" fill="#6a5038" transform="rotate(-3 958.5 387.0)"/>
<ellipse cx="866.8" cy="410.8" rx="8.0" ry="2.6" fill="#6a5038" transform="rotate(-44 866.8 410.8)"/>
<ellipse cx="1004.8" cy="408.6" rx="5.8" ry="2.2" fill="#b0906c" transform="rotate(-49 1004.8 408.6)"/>
<ellipse cx="1008.2" cy="387.6" rx="7.0" ry="3.0" fill="#e0d4c0" transform="rotate(2 1008.2 387.6)"/>
<ellipse cx="904.5" cy="422.2" rx="3.3" ry="2.8" fill="#a88a6c" transform="rotate(-9 904.5 422.2)"/>
<ellipse cx="890.1" cy="423.1" rx="3.7" ry="3.0" fill="#a88a6c" transform="rotate(16 890.1 423.1)"/>
<ellipse cx="887.4" cy="343.3" rx="7.3" ry="2.8" fill="#6a5038" transform="rotate(14 887.4 343.3)"/>
<ellipse cx="946.4" cy="328.1" rx="7.4" ry="4.0" fill="#e0d4c0" transform="rotate(22 946.4 328.1)"/>
<ellipse cx="979.7" cy="321.7" rx="8.9" ry="3.4" fill="#e0d4c0" transform="rotate(-3 979.7 321.7)"/>
<ellipse cx="892.7" cy="432.6" rx="4.8" ry="3.1" fill="#dccab0" transform="rotate(-38 892.7 432.6)"/>
<ellipse cx="979.1" cy="350.8" rx="6.9" ry="2.6" fill="#b0906c" transform="rotate(29 979.1 350.8)"/>
<ellipse cx="1021.0" cy="354.1" rx="9.5" ry="3.7" fill="#b0906c" transform="rotate(-41 1021.0 354.1)"/>
<ellipse cx="867.0" cy="350.2" rx="4.7" ry="3.4" fill="#54402c" transform="rotate(44 867.0 350.2)"/>
<ellipse cx="895.4" cy="364.5" rx="7.2" ry="2.4" fill="#b0906c" transform="rotate(35 895.4 364.5)"/>
<ellipse cx="940.1" cy="415.0" rx="7.9" ry="3.6" fill="#a88a6c" transform="rotate(-6 940.1 415.0)"/>
<ellipse cx="956.3" cy="355.5" rx="4.5" ry="3.1" fill="#6a5038" transform="rotate(-42 956.3 355.5)"/>
<ellipse cx="887.8" cy="324.0" rx="3.7" ry="3.8" fill="#6a5038" transform="rotate(-16 887.8 324.0)"/>
<ellipse cx="977.3" cy="324.5" rx="4.0" ry="3.1" fill="#bca688" transform="rotate(-46 977.3 324.5)"/>
<ellipse cx="983.1" cy="328.4" rx="7.1" ry="2.4" fill="#b0906c" transform="rotate(32 983.1 328.4)"/>
<ellipse cx="1008.0" cy="328.4" rx="9.1" ry="3.8" fill="#bca688" transform="rotate(44 1008.0 328.4)"/>
<ellipse cx="904.2" cy="343.8" rx="3.2" ry="3.9" fill="#bca688" transform="rotate(41 904.2 343.8)"/>
<ellipse cx="997.3" cy="391.7" rx="5.0" ry="1.7" fill="#a88a6c" transform="rotate(-40 997.3 391.7)"/>
<ellipse cx="911.9" cy="358.7" rx="4.8" ry="2.4" fill="#d2c2a8" transform="rotate(43 911.9 358.7)"/>
<ellipse cx="979.7" cy="362.2" rx="5.2" ry="3.9" fill="#dccab0" transform="rotate(0 979.7 362.2)"/>
<ellipse cx="964.0" cy="324.5" rx="5.9" ry="2.6" fill="#54402c" transform="rotate(27 964.0 324.5)"/>
<ellipse cx="940.0" cy="326.4" rx="7.0" ry="3.3" fill="#dccab0" transform="rotate(33 940.0 326.4)"/>
<ellipse cx="891.9" cy="321.1" rx="4.4" ry="3.4" fill="#d2c2a8" transform="rotate(48 891.9 321.1)"/>
<ellipse cx="920.5" cy="331.7" rx="7.9" ry="3.6" fill="#54402c" transform="rotate(47 920.5 331.7)"/>
<ellipse cx="1018.6" cy="378.7" rx="7.0" ry="1.9" fill="#a88a6c" transform="rotate(32 1018.6 378.7)"/>
<ellipse cx="944.7" cy="333.3" rx="7.5" ry="1.7" fill="#b0906c" transform="rotate(29 944.7 333.3)"/>
<ellipse cx="991.2" cy="391.3" rx="5.5" ry="2.5" fill="#bca688" transform="rotate(-11 991.2 391.3)"/>
<ellipse cx="932.5" cy="393.3" rx="5.6" ry="2.3" fill="#b0906c" transform="rotate(-7 932.5 393.3)"/>
<ellipse cx="945.2" cy="363.5" rx="9.2" ry="2.1" fill="#b0906c" transform="rotate(-4 945.2 363.5)"/>
<ellipse cx="960.1" cy="398.2" rx="7.2" ry="1.6" fill="#b0906c" transform="rotate(8 960.1 398.2)"/>
<ellipse cx="889.5" cy="415.4" rx="7.6" ry="3.4" fill="#e0d4c0" transform="rotate(-33 889.5 415.4)"/>
<ellipse cx="975.4" cy="349.8" rx="4.6" ry="2.3" fill="#a88a6c" transform="rotate(14 975.4 349.8)"/>
<ellipse cx="946.2" cy="351.0" rx="8.3" ry="3.6" fill="#6a5038" transform="rotate(12 946.2 351.0)"/>
<ellipse cx="1021.4" cy="402.0" rx="7.2" ry="2.4" fill="#a88a6c" transform="rotate(-26 1021.4 402.0)"/>
<ellipse cx="906.1" cy="428.0" rx="10.0" ry="1.9" fill="#a88a6c" transform="rotate(16 906.1 428.0)"/>
<ellipse cx="926.4" cy="431.2" rx="8.6" ry="3.3" fill="#a88a6c" transform="rotate(-7 926.4 431.2)"/>
<ellipse cx="882.1" cy="423.1" rx="5.0" ry="3.7" fill="#d2c2a8" transform="rotate(-4 882.1 423.1)"/>
<ellipse cx="928.7" cy="409.6" rx="7.9" ry="2.8" fill="#e0d4c0" transform="rotate(13 928.7 409.6)"/>
<ellipse cx="868.1" cy="349.8" rx="8.2" ry="1.5" fill="#c8b090" transform="rotate(-26 868.1 349.8)"/>
<ellipse cx="977.4" cy="386.8" rx="7.5" ry="3.6" fill="#a88a6c" transform="rotate(17 977.4 386.8)"/>
<ellipse cx="973.9" cy="392.9" rx="6.2" ry="2.3" fill="#bca688" transform="rotate(13 973.9 392.9)"/>
<ellipse cx="1008.6" cy="348.1" rx="5.8" ry="3.3" fill="#c8b090" transform="rotate(-34 1008.6 348.1)"/>
<ellipse cx="942.2" cy="323.2" rx="9.0" ry="2.8" fill="#6a5038" transform="rotate(16 942.2 323.2)"/>
<ellipse cx="1008.5" cy="357.7" rx="3.1" ry="3.6" fill="#bca688" transform="rotate(41 1008.5 357.7)"/>
<ellipse cx="870.6" cy="381.9" rx="4.1" ry="3.5" fill="#b0906c" transform="rotate(44 870.6 381.9)"/>
<ellipse cx="920.6" cy="415.9" rx="6.2" ry="2.0" fill="#d2c2a8" transform="rotate(-2 920.6 415.9)"/>
<ellipse cx="967.4" cy="413.8" rx="6.7" ry="2.5" fill="#a88a6c" transform="rotate(45 967.4 413.8)"/>
<ellipse cx="1023.9" cy="341.6" rx="6.6" ry="3.8" fill="#54402c" transform="rotate(23 1023.9 341.6)"/>
<ellipse cx="967.1" cy="349.3" rx="5.7" ry="1.7" fill="#c8b090" transform="rotate(-42 967.1 349.3)"/>
<ellipse cx="965.7" cy="396.6" rx="7.1" ry="1.8" fill="#c8b090" transform="rotate(-20 965.7 396.6)"/>
<ellipse cx="1015.8" cy="380.0" rx="4.5" ry="3.5" fill="#a88a6c" transform="rotate(-11 1015.8 380.0)"/>
<ellipse cx="891.0" cy="425.1" rx="3.5" ry="3.5" fill="#b0906c" transform="rotate(-31 891.0 425.1)"/>
<ellipse cx="980.5" cy="412.2" rx="4.0" ry="3.2" fill="#c8b090" transform="rotate(33 980.5 412.2)"/>
<ellipse cx="939.9" cy="354.0" rx="6.8" ry="1.8" fill="#54402c" transform="rotate(33 939.9 354.0)"/>
<ellipse cx="990.7" cy="346.8" rx="7.9" ry="3.2" fill="#6a5038" transform="rotate(48 990.7 346.8)"/>
<ellipse cx="942.0" cy="411.2" rx="8.6" ry="2.4" fill="#54402c" transform="rotate(15 942.0 411.2)"/>
<ellipse cx="941.7" cy="369.0" rx="7.5" ry="3.1" fill="#dccab0" transform="rotate(-14 941.7 369.0)"/>
<ellipse cx="1002.1" cy="327.4" rx="8.8" ry="3.8" fill="#6a5038" transform="rotate(28 1002.1 327.4)"/>
<ellipse cx="949.9" cy="359.7" rx="7.1" ry="3.1" fill="#bca688" transform="rotate(-29 949.9 359.7)"/>
<ellipse cx="970.1" cy="349.0" rx="3.7" ry="1.9" fill="#e0d4c0" transform="rotate(-27 970.1 349.0)"/>
<ellipse cx="920.3" cy="338.1" rx="9.3" ry="3.5" fill="#bca688" transform="rotate(-33 920.3 338.1)"/>
<ellipse cx="972.1" cy="421.1" rx="8.5" ry="3.6" fill="#a88a6c" transform="rotate(-30 972.1 421.1)"/>
<ellipse cx="950.0" cy="404.1" rx="6.1" ry="3.7" fill="#dccab0" transform="rotate(6 950.0 404.1)"/>
<ellipse cx="932.0" cy="413.6" rx="6.3" ry="2.9" fill="#6a5038" transform="rotate(-2 932.0 413.6)"/>
<ellipse cx="977.3" cy="348.6" rx="4.2" ry="3.0" fill="#6a5038" transform="rotate(23 977.3 348.6)"/>
<ellipse cx="999.9" cy="373.4" rx="6.9" ry="3.2" fill="#54402c" transform="rotate(34 999.9 373.4)"/>
<ellipse cx="933.1" cy="433.0" rx="7.7" ry="2.0" fill="#d2c2a8" transform="rotate(-14 933.1 433.0)"/>
<ellipse cx="867.8" cy="326.1" rx="8.2" ry="4.0" fill="#bca688" transform="rotate(31 867.8 326.1)"/>
<ellipse cx="946.7" cy="375.3" rx="9.3" ry="1.6" fill="#6a5038" transform="rotate(22 946.7 375.3)"/>
<ellipse cx="919.0" cy="417.5" rx="5.6" ry="2.7" fill="#a88a6c" transform="rotate(3 919.0 417.5)"/>
<ellipse cx="910.2" cy="359.3" rx="4.8" ry="1.6" fill="#54402c" transform="rotate(-21 910.2 359.3)"/>
<ellipse cx="997.8" cy="366.2" rx="6.5" ry="2.2" fill="#a88a6c" transform="rotate(1 997.8 366.2)"/>
<ellipse cx="969.9" cy="409.7" rx="5.3" ry="2.3" fill="#bca688" transform="rotate(-20 969.9 409.7)"/>
<ellipse cx="990.8" cy="325.5" rx="8.1" ry="3.7" fill="#d2c2a8" transform="rotate(5 990.8 325.5)"/>
<ellipse cx="928.7" cy="333.2" rx="3.3" ry="3.6" fill="#d2c2a8" transform="rotate(-2 928.7 333.2)"/>
<ellipse cx="991.5" cy="422.9" rx="7.3" ry="3.0" fill="#bca688" transform="rotate(13 991.5 422.9)"/>
<ellipse cx="898.7" cy="395.7" rx="6.2" ry="3.4" fill="#6a5038" transform="rotate(-40 898.7 395.7)"/>
<ellipse cx="1004.4" cy="368.2" rx="3.7" ry="3.8" fill="#6a5038" transform="rotate(-49 1004.4 368.2)"/>
<ellipse cx="991.1" cy="384.0" rx="4.8" ry="2.3" fill="#54402c" transform="rotate(-8 991.1 384.0)"/>
<ellipse cx="867.8" cy="384.4" rx="7.0" ry="3.8" fill="#b0906c" transform="rotate(-0 867.8 384.4)"/>
<ellipse cx="870.8" cy="334.3" rx="8.7" ry="2.9" fill="#e0d4c0" transform="rotate(42 870.8 334.3)"/>
<ellipse cx="875.3" cy="397.2" rx="7.2" ry="4.0" fill="#6a5038" transform="rotate(16 875.3 397.2)"/>
<ellipse cx="941.0" cy="367.2" rx="3.7" ry="3.1" fill="#6a5038" transform="rotate(-29 941.0 367.2)"/>
<ellipse cx="965.4" cy="368.8" rx="3.1" ry="3.2" fill="#bca688" transform="rotate(49 965.4 368.8)"/>
<ellipse cx="899.6" cy="334.6" rx="6.3" ry="2.2" fill="#e0d4c0" transform="rotate(7 899.6 334.6)"/>
<ellipse cx="982.6" cy="342.0" rx="3.4" ry="3.4" fill="#6a5038" transform="rotate(21 982.6 342.0)"/>
<ellipse cx="982.0" cy="330.4" rx="7.4" ry="3.3" fill="#dccab0" transform="rotate(-4 982.0 330.4)"/>
<ellipse cx="1011.6" cy="326.9" rx="3.2" ry="1.7" fill="#bca688" transform="rotate(38 1011.6 326.9)"/>
<ellipse cx="927.1" cy="356.0" rx="7.2" ry="3.9" fill="#d2c2a8" transform="rotate(33 927.1 356.0)"/>
<ellipse cx="915.4" cy="427.3" rx="8.1" ry="2.7" fill="#bca688" transform="rotate(-33 915.4 427.3)"/>
<ellipse cx="923.0" cy="393.2" rx="7.4" ry="2.5" fill="#e0d4c0" transform="rotate(-11 923.0 393.2)"/>
<ellipse cx="1016.6" cy="408.9" rx="7.0" ry="2.2" fill="#54402c" transform="rotate(-44 1016.6 408.9)"/>
<ellipse cx="1004.5" cy="402.3" rx="3.1" ry="1.9" fill="#c8b090" transform="rotate(33 1004.5 402.3)"/>
<ellipse cx="1021.7" cy="348.6" rx="5.7" ry="2.4" fill="#a88a6c" transform="rotate(27 1021.7 348.6)"/>
<ellipse cx="994.5" cy="352.7" rx="3.0" ry="2.2" fill="#d2c2a8" transform="rotate(-8 994.5 352.7)"/>
<ellipse cx="911.0" cy="336.8" rx="9.2" ry="4.0" fill="#b0906c" transform="rotate(-35 911.0 336.8)"/>
<ellipse cx="974.7" cy="423.3" rx="5.4" ry="1.7" fill="#c8b090" transform="rotate(5 974.7 423.3)"/>
<ellipse cx="896.8" cy="405.0" rx="9.5" ry="2.1" fill="#c8b090" transform="rotate(11 896.8 405.0)"/>
<ellipse cx="939.4" cy="344.1" rx="4.8" ry="3.4" fill="#e0d4c0" transform="rotate(29 939.4 344.1)"/>
<ellipse cx="951.5" cy="381.0" rx="5.5" ry="1.7" fill="#b0906c" transform="rotate(-10 951.5 381.0)"/>
<ellipse cx="1008.9" cy="420.1" rx="6.7" ry="2.7" fill="#a88a6c" transform="rotate(9 1008.9 420.1)"/>
<ellipse cx="898.7" cy="331.3" rx="8.6" ry="2.2" fill="#54402c" transform="rotate(8 898.7 331.3)"/>
<ellipse cx="929.3" cy="378.9" rx="4.0" ry="1.6" fill="#54402c" transform="rotate(50 929.3 378.9)"/>
<ellipse cx="1004.0" cy="362.6" rx="6.2" ry="1.7" fill="#d2c2a8" transform="rotate(-18 1004.0 362.6)"/>
<ellipse cx="920.0" cy="379.2" rx="3.1" ry="1.6" fill="#e0d4c0" transform="rotate(49 920.0 379.2)"/>
<ellipse cx="959.0" cy="344.9" rx="9.5" ry="2.2" fill="#e0d4c0" transform="rotate(-40 959.0 344.9)"/>
<ellipse cx="988.0" cy="412.7" rx="9.7" ry="2.1" fill="#a88a6c" transform="rotate(-46 988.0 412.7)"/>
<ellipse cx="1024.6" cy="363.4" rx="3.2" ry="1.6" fill="#e0d4c0" transform="rotate(-13 1024.6 363.4)"/>
<ellipse cx="942.9" cy="415.7" rx="9.3" ry="3.7" fill="#bca688" transform="rotate(14 942.9 415.7)"/>
<ellipse cx="978.2" cy="331.1" rx="5.2" ry="2.1" fill="#b0906c" transform="rotate(-41 978.2 331.1)"/>
<ellipse cx="927.8" cy="371.2" rx="4.1" ry="3.9" fill="#a88a6c" transform="rotate(49 927.8 371.2)"/>
<ellipse cx="892.2" cy="426.5" rx="9.6" ry="1.6" fill="#d2c2a8" transform="rotate(5 892.2 426.5)"/>
<ellipse cx="999.3" cy="326.3" rx="8.5" ry="3.3" fill="#e0d4c0" transform="rotate(15 999.3 326.3)"/>
<ellipse cx="873.5" cy="337.2" rx="8.3" ry="3.8" fill="#dccab0" transform="rotate(18 873.5 337.2)"/>
<ellipse cx="959.5" cy="370.4" rx="7.6" ry="2.7" fill="#c8b090" transform="rotate(-13 959.5 370.4)"/>
<ellipse cx="884.5" cy="374.9" rx="4.2" ry="2.1" fill="#d2c2a8" transform="rotate(-36 884.5 374.9)"/>
<ellipse cx="939.8" cy="423.2" rx="8.6" ry="1.9" fill="#bca688" transform="rotate(33 939.8 423.2)"/>
<ellipse cx="1014.9" cy="418.1" rx="9.2" ry="1.8" fill="#bca688" transform="rotate(-5 1014.9 418.1)"/>
<ellipse cx="1013.6" cy="364.1" rx="3.2" ry="1.7" fill="#54402c" transform="rotate(47 1013.6 364.1)"/>
<ellipse cx="997.0" cy="374.5" rx="7.4" ry="1.9" fill="#d2c2a8" transform="rotate(-28 997.0 374.5)"/>
<ellipse cx="893.5" cy="371.6" rx="9.2" ry="2.6" fill="#c8b090" transform="rotate(-35 893.5 371.6)"/>
<ellipse cx="930.8" cy="338.4" rx="4.9" ry="3.6" fill="#6a5038" transform="rotate(-17 930.8 338.4)"/>
<ellipse cx="906.5" cy="333.2" rx="6.2" ry="2.7" fill="#b0906c" transform="rotate(-35 906.5 333.2)"/>
<ellipse cx="873.7" cy="421.2" rx="7.7" ry="2.0" fill="#dccab0" transform="rotate(-2 873.7 421.2)"/>
<ellipse cx="883.7" cy="405.5" rx="9.8" ry="2.6" fill="#a88a6c" transform="rotate(-24 883.7 405.5)"/>
<ellipse cx="1013.4" cy="331.9" rx="5.0" ry="3.7" fill="#dccab0" transform="rotate(-44 1013.4 331.9)"/>
<ellipse cx="887.7" cy="392.7" rx="6.1" ry="2.8" fill="#e0d4c0" transform="rotate(1 887.7 392.7)"/>
<ellipse cx="864.8" cy="414.2" rx="6.7" ry="2.0" fill="#c8b090" transform="rotate(-6 864.8 414.2)"/>
<ellipse cx="899.6" cy="385.0" rx="4.0" ry="2.0" fill="#6a5038" transform="rotate(27 899.6 385.0)"/>
<ellipse cx="896.2" cy="329.9" rx="3.6" ry="3.0" fill="#dccab0" transform="rotate(-0 896.2 329.9)"/>
<ellipse cx="892.7" cy="336.3" rx="7.7" ry="3.1" fill="#dccab0" transform="rotate(-31 892.7 336.3)"/>
<ellipse cx="897.1" cy="328.4" rx="8.1" ry="2.5" fill="#d2c2a8" transform="rotate(22 897.1 328.4)"/>
<ellipse cx="948.0" cy="359.9" rx="5.0" ry="3.1" fill="#bca688" transform="rotate(45 948.0 359.9)"/>
<ellipse cx="867.0" cy="422.9" rx="6.3" ry="3.7" fill="#6a5038" transform="rotate(-23 867.0 422.9)"/>
<ellipse cx="955.2" cy="431.4" rx="3.3" ry="3.3" fill="#d2c2a8" transform="rotate(7 955.2 431.4)"/>
<ellipse cx="921.8" cy="425.4" rx="9.8" ry="1.7" fill="#a88a6c" transform="rotate(-14 921.8 425.4)"/>
<ellipse cx="996.0" cy="417.9" rx="5.2" ry="3.3" fill="#d2c2a8" transform="rotate(-12 996.0 417.9)"/>
<ellipse cx="911.4" cy="333.1" rx="8.1" ry="2.6" fill="#b0906c" transform="rotate(-47 911.4 333.1)"/>
<ellipse cx="886.1" cy="348.3" rx="3.6" ry="3.0" fill="#dccab0" transform="rotate(-33 886.1 348.3)"/>
<ellipse cx="904.8" cy="412.5" rx="3.2" ry="1.7" fill="#a88a6c" transform="rotate(20 904.8 412.5)"/>
<ellipse cx="906.6" cy="414.8" rx="7.5" ry="2.7" fill="#e0d4c0" transform="rotate(-26 906.6 414.8)"/>
<ellipse cx="881.1" cy="418.4" rx="8.0" ry="1.6" fill="#e0d4c0" transform="rotate(-38 881.1 418.4)"/>
<ellipse cx="958.8" cy="406.3" rx="3.8" ry="1.8" fill="#b0906c" transform="rotate(38 958.8 406.3)"/>
<ellipse cx="959.8" cy="417.4" rx="4.0" ry="2.9" fill="#6a5038" transform="rotate(25 959.8 417.4)"/>
<ellipse cx="1017.2" cy="323.1" rx="7.4" ry="3.2" fill="#b0906c" transform="rotate(10 1017.2 323.1)"/>
<ellipse cx="870.3" cy="429.7" rx="3.4" ry="2.4" fill="#54402c" transform="rotate(-10 870.3 429.7)"/>
<ellipse cx="979.7" cy="415.4" rx="7.0" ry="4.0" fill="#c8b090" transform="rotate(-18 979.7 415.4)"/>
<ellipse cx="1001.0" cy="327.0" rx="6.6" ry="3.9" fill="#a88a6c" transform="rotate(43 1001.0 327.0)"/>
<ellipse cx="1004.6" cy="395.3" rx="3.1" ry="1.8" fill="#54402c" transform="rotate(-31 1004.6 395.3)"/>
<ellipse cx="934.2" cy="377.5" rx="3.1" ry="1.8" fill="#e0d4c0" transform="rotate(47 934.2 377.5)"/>
<ellipse cx="966.4" cy="411.6" rx="9.2" ry="3.7" fill="#dccab0" transform="rotate(-47 966.4 411.6)"/>
<ellipse cx="1012.3" cy="390.8" rx="7.4" ry="3.5" fill="#bca688" transform="rotate(-46 1012.3 390.8)"/>
<ellipse cx="904.8" cy="379.3" rx="6.0" ry="3.9" fill="#dccab0" transform="rotate(-21 904.8 379.3)"/>
<ellipse cx="920.5" cy="339.7" rx="3.4" ry="3.9" fill="#dccab0" transform="rotate(42 920.5 339.7)"/>
<ellipse cx="878.1" cy="387.1" rx="9.5" ry="2.6" fill="#dccab0" transform="rotate(1 878.1 387.1)"/>
<ellipse cx="1011.9" cy="385.7" rx="4.9" ry="3.3" fill="#dccab0" transform="rotate(24 1011.9 385.7)"/>
<ellipse cx="999.7" cy="389.3" rx="7.0" ry="3.1" fill="#54402c" transform="rotate(-30 999.7 389.3)"/>
<ellipse cx="938.7" cy="382.4" rx="7.3" ry="2.7" fill="#a88a6c" transform="rotate(-19 938.7 382.4)"/>
<ellipse cx="918.2" cy="342.1" rx="6.8" ry="3.9" fill="#54402c" transform="rotate(-10 918.2 342.1)"/>
<ellipse cx="890.6" cy="427.6" rx="5.3" ry="2.3" fill="#a88a6c" transform="rotate(-23 890.6 427.6)"/>
<ellipse cx="912.1" cy="407.5" rx="4.1" ry="1.7" fill="#e0d4c0" transform="rotate(37 912.1 407.5)"/>
<ellipse cx="970.4" cy="378.9" rx="8.8" ry="2.4" fill="#b0906c" transform="rotate(26 970.4 378.9)"/>
<path d="M882,336 C898,344 915,356 930,368 L924,380 C908,366 894,352 880,342Z" fill="#d63a22"/>
<path d="M912,358 C928,348 962,352 992,360 C1008,370 1010,392 1000,405 C988,417 968,421 952,416 C936,410 922,394 912,378Z" fill="#de401e"/>
<path d="M894,340 C915,347 940,353 962,356 L961,363 C938,362 914,356 893,346Z" fill="#f2d820"/>
<path d="M912,356 C925,358 940,362 952,366 L948,378 C936,378 922,372 912,364Z" fill="#3a3ca8"/>
<path d="M958,351 C968,343 984,341 992,347 L990,366 C980,368 968,366 960,364Z" fill="#ee942a"/>
<path d="M962,350 L966,364 M968,348 L972,364 M974,346 L978,364 M980,345 L984,364" stroke="#c86a1c" stroke-width="1.2"/>
<ellipse cx="977" cy="372" rx="9" ry="6" fill="#5a8a48"/>
<path d="M982,340 C990,332 1004,333 1010,341 C1012,350 1008,358 1002,360 L990,356 C984,350 980,345 982,340Z" fill="#f6dc1e"/>
<path d="M932,398 L934,432" stroke="#c8b040" stroke-width="2.5"/>
<path d="M955,412 L957,430" stroke="#b09040" stroke-width="2"/>
</g></g>
<g fill="#0d0d0d" stroke="#0d0d0d" stroke-width="0.3">
<use href="#cb" x="650.0" y="29.2"/>
<text x="679" y="45.5" font-size="22.7" text-anchor="start" textLength="343" lengthAdjust="spacingAndGlyphs">Cataloguing and big biodiversity data</text>
<use href="#cb" x="650.0" y="56.5"/>
<text x="679" y="72.8" font-size="22.7" text-anchor="start" textLength="352" lengthAdjust="spacingAndGlyphs">Biodiversity dynamics and monitoring</text>
<use href="#cb" x="54.8" y="450.6"/>
<text x="94.7" y="467.0" font-size="22.7" text-anchor="start" textLength="177.1" lengthAdjust="spacingAndGlyphs">Origin &amp; Evolution</text>
<use href="#cb" x="54.8" y="478.0"/>
<text x="94.7" y="494.4" font-size="22.7" text-anchor="start" textLength="322.6" lengthAdjust="spacingAndGlyphs">Geographic distributions &amp; Drivers</text>
<use href="#cb" x="54.8" y="505.3"/>
<text x="94.7" y="521.7" font-size="22.7" text-anchor="start" textLength="368" lengthAdjust="spacingAndGlyphs">Maintenance mechanisms at local scales</text>
<use href="#cb" x="54.8" y="532.6"/>
<text x="94.7" y="549.0" font-size="22.7" text-anchor="start" textLength="350.8" lengthAdjust="spacingAndGlyphs">Biodiversity &amp; Ecosystem functioning</text>
<use href="#cb" x="54.8" y="560.0"/>
<text x="94.7" y="576.4" font-size="22.7" text-anchor="start" textLength="318.5" lengthAdjust="spacingAndGlyphs">Biodiversity &amp; Ecosystem services</text>
<use href="#cb" x="768.9" y="450.9"/>
<text x="798.6" y="467.3" font-size="22.7" text-anchor="start" textLength="165.6" lengthAdjust="spacingAndGlyphs">Drivers of Threats</text>
<use href="#cb" x="768.9" y="478.3"/>
<text x="798.6" y="494.7" font-size="22.7" text-anchor="start">Responses to</text>
<text x="798.6" y="522.1" font-size="22.7" text-anchor="start">global change</text>
<use href="#cb" x="768.9" y="533.1"/>
<text x="798.6" y="549.5" font-size="22.7" text-anchor="start">Biodiversity &amp;</text>
<text x="798.6" y="576.9" font-size="22.7" text-anchor="start">Biosafety</text>
<text transform="translate(604.1,142.6) scale(1,1.03)" font-size="29.2" font-weight="bold" text-anchor="middle" textLength="154.8" lengthAdjust="spacingAndGlyphs">Inventory &amp;</text>
<text transform="translate(604.35,173.4) scale(1,1.03)" font-size="29.2" font-weight="bold" text-anchor="middle" textLength="143.3" lengthAdjust="spacingAndGlyphs">Monitoring</text>
<text transform="translate(394.6,363.6) scale(1,1.03)" font-size="29.2" font-weight="bold" text-anchor="start" textLength="148.7" lengthAdjust="spacingAndGlyphs">Processes &amp;</text>
<text transform="translate(391.6,393.8) scale(1,1.03)" font-size="29.2" font-weight="bold" text-anchor="start" textLength="155.9" lengthAdjust="spacingAndGlyphs">Mechanisms</text>
<text transform="translate(678.6,363.3) scale(1,1.03)" font-size="29.2" font-weight="bold" text-anchor="start" textLength="128.4" lengthAdjust="spacingAndGlyphs">Threats &amp;</text>
<text transform="translate(679.3,393.8) scale(1,1.03)" font-size="29.2" font-weight="bold" text-anchor="start" textLength="128.5" lengthAdjust="spacingAndGlyphs">Responses</text>
</g>
<g fill="#77777f"><rect x="1045.6" y="454" width="1.4" height="6"/><rect x="1045.6" y="479" width="1.4" height="21.5"/><rect x="1045.6" y="504.6" width="1.4" height="11"/><rect x="1045.6" y="525" width="1.4" height="23"/></g>
</svg>
</body></html>
